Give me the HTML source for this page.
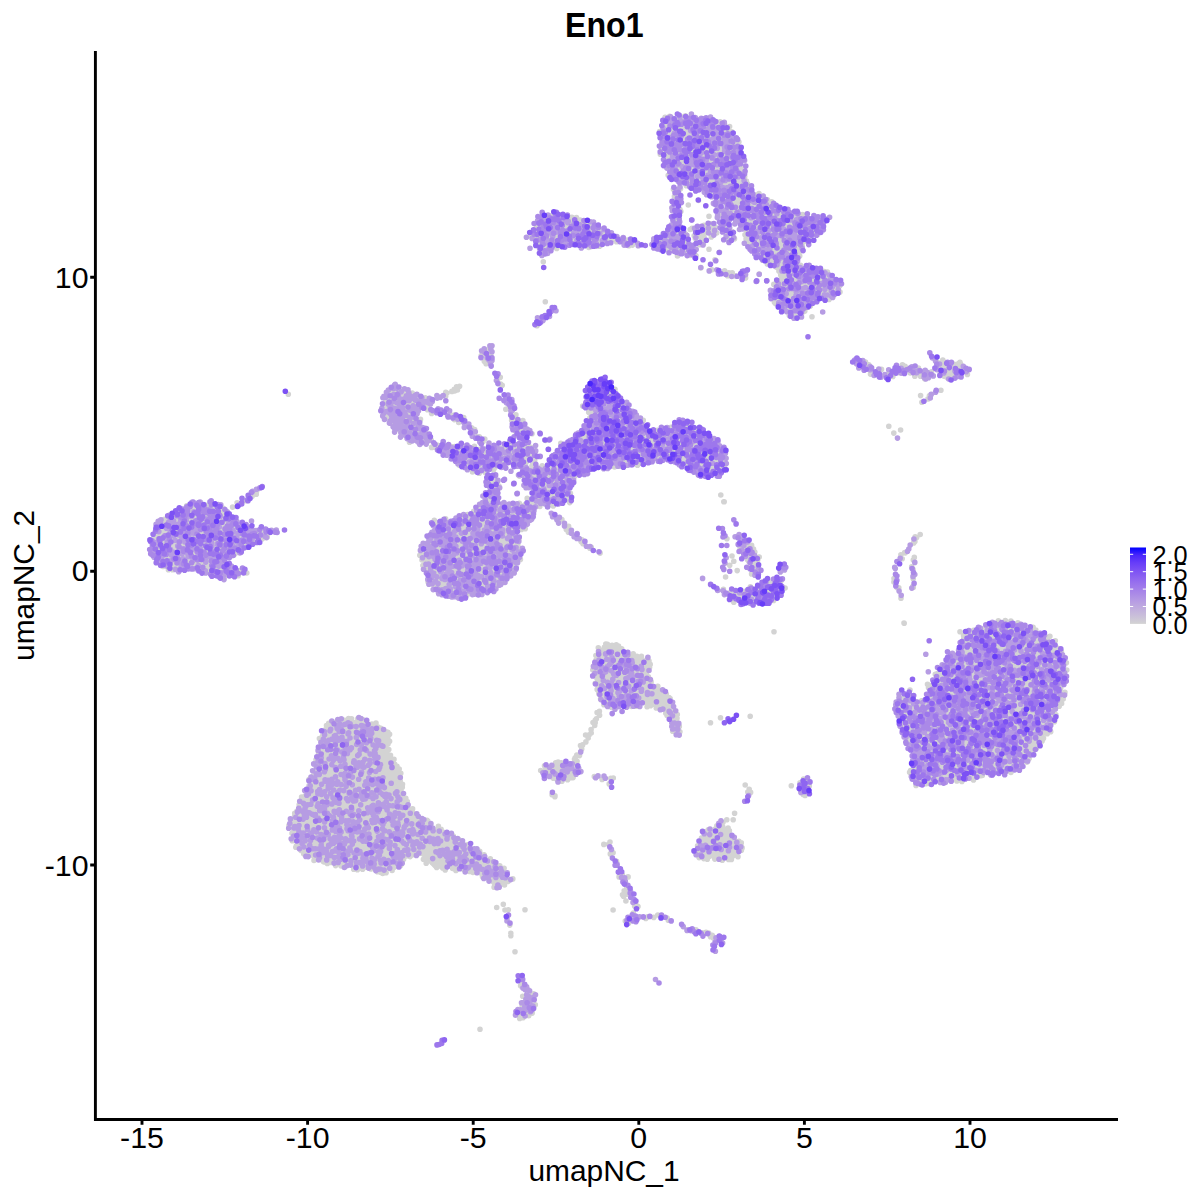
<!DOCTYPE html>
<html><head><meta charset="utf-8"><style>
html,body{margin:0;padding:0;background:#fff;width:1200px;height:1200px;overflow:hidden}
svg{display:block}
text{font-family:"Liberation Sans",sans-serif;fill:#000}
</style></head><body>
<svg width="1200" height="1200" viewBox="0 0 1200 1200">
<defs><linearGradient id="lg" x1="0" y1="0" x2="0" y2="1"><stop offset="0.00" stop-color="#0000ff"/><stop offset="0.10" stop-color="#4926fb"/><stop offset="0.20" stop-color="#673df8"/><stop offset="0.30" stop-color="#7c51f4"/><stop offset="0.40" stop-color="#8e65f0"/><stop offset="0.50" stop-color="#9d77ec"/><stop offset="0.60" stop-color="#aa89e7"/><stop offset="0.70" stop-color="#b69ce3"/><stop offset="0.80" stop-color="#c1aede"/><stop offset="0.90" stop-color="#cac0d9"/><stop offset="1.00" stop-color="#d3d3d3"/></linearGradient></defs>
<rect width="1200" height="1200" fill="#fff"/>
<g fill="#d3d3d3"><polygon points="661.7,121.9 660.2,136.7 661.8,152.7 664.9,165.3 671.1,176.0 680.0,183.5 691.0,186.6 691.2,186.7 704.6,191.7 704.9,191.9 714.9,196.9 715.3,197.1 725.3,203.8 725.6,204.0 725.8,204.2 726.0,204.4 726.2,204.7 732.9,214.7 733.1,215.1 737.9,224.6 744.1,230.9 744.4,231.1 744.6,231.4 744.8,231.8 749.5,241.3 755.6,247.3 765.3,253.8 765.5,253.9 773.4,260.2 781.0,262.7 787.8,257.3 788.1,257.1 788.4,256.9 797.7,252.2 802.2,246.2 802.5,245.9 802.7,245.7 803.1,245.4 812.6,239.1 818.9,231.1 819.0,231.1 826.8,221.7 827.4,218.8 819.5,217.6 819.4,217.6 804.4,215.1 804.1,215.0 785.7,210.0 785.4,209.9 785.1,209.8 768.4,201.5 768.1,201.3 754.8,193.0 754.6,192.8 754.3,192.6 754.1,192.4 744.9,182.4 744.7,182.1 744.5,181.8 744.4,181.6 744.2,181.3 744.1,181.0 744.1,180.6 744.0,180.3 744.0,180.0 744.0,170.2 742.4,158.8 740.8,147.8 735.4,138.5 729.0,129.0 721.6,122.3 710.9,119.3 694.6,116.8 681.7,115.5 668.0,117.5 661.7,121.9"/><polygon points="783.2,265.6 782.1,276.3 782.1,276.7 782.0,277.0 781.9,277.3 781.8,277.6 781.6,277.9 781.4,278.2 776.2,284.6 771.6,292.7 772.7,300.1 777.2,306.8 787.0,312.9 794.2,316.5 799.5,316.5 803.8,310.1 804.0,309.8 804.2,309.5 804.4,309.3 804.7,309.1 812.3,304.1 817.3,297.8 817.5,297.5 817.8,297.3 818.0,297.1 818.4,296.9 818.7,296.8 819.0,296.6 819.4,296.6 819.7,296.5 820.1,296.5 820.4,296.5 820.8,296.6 821.1,296.7 828.3,299.1 833.9,298.1 838.2,291.8 840.3,285.4 838.6,281.2 831.8,277.8 831.4,277.6 831.1,277.4 830.9,277.1 824.7,271.0 815.4,267.5 804.0,267.5 803.7,267.5 803.4,267.4 803.1,267.4 802.8,267.3 793.0,263.6 783.2,265.6"/><polygon points="527.9,235.8 533.8,236.5 534.1,236.6 534.4,236.7 534.8,236.8 535.1,237.0 535.4,237.1 535.6,237.4 535.9,237.6 536.1,237.9 536.3,238.1 536.5,238.4 536.6,238.8 536.7,239.1 536.8,239.4 538.4,248.9 540.5,253.2 546.9,253.2 552.5,247.5 552.8,247.3 553.0,247.1 553.3,246.9 553.6,246.8 553.9,246.7 554.2,246.6 554.5,246.5 566.2,244.9 566.5,244.8 566.8,244.8 567.1,244.9 579.8,246.4 605.8,239.9 606.1,239.9 606.5,239.8 606.8,239.8 607.1,239.9 629.6,242.7 619.2,240.1 618.8,239.9 605.4,234.9 605.0,234.8 604.7,234.6 591.7,225.6 582.1,221.6 569.0,217.5 554.5,213.5 541.8,213.5 535.2,222.8 535.2,230.0 535.1,230.4 535.1,230.7 535.0,231.0 534.9,231.4 534.7,231.7 534.5,232.0 534.3,232.3 534.1,232.5 533.8,232.8 533.5,233.0 533.2,233.1 527.9,235.8"/><polygon points="653.5,241.9 653.5,246.0 659.4,248.3 672.3,251.6 683.8,253.2 684.2,253.3 693.7,255.6 694.6,247.9 689.2,242.5 689.0,242.2 681.2,232.9 672.1,229.0 662.0,236.2 661.9,236.2 653.5,241.9"/><polygon points="383.4,401.1 382.0,409.5 386.3,418.2 394.3,429.3 405.1,438.6 414.1,441.6 425.4,443.0 429.6,438.8 428.4,431.7 422.5,425.8 422.2,425.4 417.2,418.8 417.0,418.5 416.8,418.2 416.7,417.9 416.6,417.5 416.5,417.2 416.5,416.8 416.5,416.5 416.5,416.2 416.6,415.8 416.7,415.5 416.8,415.2 417.0,414.9 422.0,406.5 422.2,406.2 422.4,406.0 422.6,405.7 422.9,405.5 423.2,405.3 431.5,400.3 431.9,400.2 432.2,400.0 442.0,396.8 442.8,396.3 440.7,396.8 440.4,396.8 427.1,398.5 426.8,398.5 426.5,398.5 426.2,398.5 425.9,398.4 425.6,398.3 415.6,395.0 415.1,394.8 402.0,388.2 394.0,385.6 389.4,389.0 383.4,401.1"/><polygon points="482.2,351.7 483.3,357.0 488.5,364.8 491.0,364.8 493.2,359.3 493.2,347.5 487.9,348.3 482.2,351.7"/><polygon points="585.2,395.8 585.2,405.7 589.7,413.2 589.8,413.5 590.0,413.8 590.1,414.2 590.1,414.5 590.2,414.9 590.2,415.3 590.1,415.6 590.0,416.0 589.9,416.3 586.6,424.6 586.4,425.0 586.3,425.3 586.0,425.5 585.8,425.8 577.5,434.1 577.2,434.4 567.5,442.5 559.4,452.2 559.1,452.5 549.3,462.3 543.5,469.6 543.5,505.6 560.8,501.6 569.4,499.1 568.2,490.5 568.2,490.1 568.2,489.8 568.2,489.4 568.3,489.1 568.4,488.8 568.5,488.4 573.5,478.4 573.7,478.2 573.9,477.9 574.1,477.6 574.3,477.4 574.6,477.2 574.8,477.0 575.1,476.9 585.1,471.9 585.4,471.7 598.8,466.7 599.1,466.6 599.4,466.6 599.7,466.5 600.0,466.5 613.2,466.5 629.6,464.9 642.8,463.2 652.8,461.5 652.9,461.5 666.2,459.9 666.6,459.8 666.9,459.8 667.2,459.9 677.2,461.5 677.6,461.6 678.0,461.7 678.3,461.9 678.6,462.1 688.4,468.6 700.8,474.8 711.4,474.8 721.2,473.4 724.9,467.3 725.6,455.6 722.0,447.0 712.9,437.8 701.6,431.4 701.3,431.2 701.1,431.0 691.9,423.4 679.1,421.9 668.4,428.0 668.1,428.2 667.7,428.3 667.4,428.4 667.0,428.5 666.7,428.5 650.0,428.5 649.7,428.5 649.3,428.4 649.0,428.3 648.7,428.2 648.4,428.1 648.1,427.9 647.8,427.7 647.5,427.5 640.9,420.8 630.9,410.8 630.7,410.6 620.7,398.9 620.4,398.6 613.8,388.7 606.7,379.5 599.3,380.1 590.9,384.3 585.2,395.8"/><polygon points="588.2,385.6 587.1,395.0 594.4,399.8 609.2,399.8 615.8,396.5 613.5,388.3 606.7,379.5 599.3,380.1 588.2,385.6"/><polygon points="421.8,549.1 421.8,558.5 427.1,572.6 432.3,586.4 441.9,594.4 458.7,597.8 476.2,594.3 493.7,589.0 507.5,578.7 516.0,566.8 521.0,549.9 517.6,536.2 517.5,535.9 517.5,535.5 517.5,535.2 517.5,534.9 517.6,534.5 517.7,534.2 521.3,523.2 521.5,522.9 521.6,522.6 521.8,522.4 522.0,522.1 531.1,511.1 531.4,510.8 531.6,510.6 531.9,510.4 532.2,510.2 532.5,510.1 541.7,506.4 541.8,506.4 556.4,500.9 556.8,500.8 568.5,497.9 567.1,487.1 559.2,476.1 546.5,472.9 534.0,474.4 528.5,482.8 531.7,494.0 531.8,494.4 531.8,494.7 531.8,495.0 531.8,495.4 531.8,495.7 531.7,496.0 531.6,496.3 531.4,496.7 531.2,496.9 527.6,502.4 527.4,502.7 527.2,503.0 526.9,503.2 526.6,503.4 526.4,503.6 526.1,503.7 525.8,503.8 525.4,503.9 525.1,504.0 510.4,505.8 510.1,505.8 509.8,505.8 509.5,505.8 509.2,505.7 508.9,505.7 497.9,502.0 497.6,501.9 497.3,501.7 497.0,501.5 496.7,501.3 496.5,501.1 496.2,500.8 496.0,500.5 495.9,500.2 495.7,499.9 495.6,499.6 495.5,499.3 495.5,498.9 495.5,498.6 495.5,498.2 495.6,497.9 495.7,497.6 499.0,487.7 496.7,480.7 492.3,481.6 487.6,492.7 487.3,493.1 482.2,501.7 480.5,513.8 480.4,514.2 480.3,514.5 480.2,514.8 480.0,515.1 479.8,515.4 479.6,515.7 479.4,515.9 479.1,516.1 478.8,516.3 478.5,516.5 478.2,516.6 477.8,516.7 463.3,520.4 452.4,524.0 452.2,524.1 438.5,527.5 428.5,537.5 421.8,549.1"/><polygon points="151.4,540.0 150.1,550.2 156.5,560.5 167.3,567.2 181.2,570.0 195.7,568.5 196.0,568.5 196.3,568.5 196.6,568.6 196.9,568.6 197.2,568.7 220.6,577.5 231.4,577.5 239.8,574.7 244.4,572.9 244.0,571.4 233.7,566.2 224.9,563.3 224.6,563.2 224.3,563.0 224.0,562.9 223.7,562.6 223.5,562.4 223.2,562.1 223.0,561.9 222.9,561.6 222.7,561.2 222.6,560.9 222.5,560.6 222.5,560.2 222.5,559.9 222.5,559.5 222.6,559.2 222.7,558.9 222.8,558.6 223.0,558.3 223.2,558.0 223.4,557.7 223.6,557.4 223.9,557.2 224.2,557.0 224.5,556.9 224.8,556.7 236.4,552.3 248.1,545.0 248.4,544.9 248.7,544.8 263.6,538.8 276.5,532.3 273.6,532.0 273.2,531.9 261.4,528.9 249.6,527.5 249.2,527.4 248.8,527.3 248.4,527.1 239.4,522.6 239.1,522.4 238.8,522.2 231.3,516.2 231.0,516.0 222.5,507.5 213.1,503.4 199.3,502.0 188.3,504.8 178.5,510.4 171.2,516.2 170.9,516.4 170.6,516.6 159.7,522.1 151.4,540.0"/><polygon points="738.4,535.3 737.0,537.7 739.9,545.4 740.1,545.8 742.3,554.8 746.7,563.5 753.1,572.1 757.0,574.7 759.9,571.2 758.9,561.7 754.5,552.9 750.1,544.1 742.0,535.9 738.4,535.3"/><polygon points="719.3,590.1 723.7,595.2 732.3,599.5 741.9,603.8 752.7,602.7 753.0,602.7 764.0,602.7 772.3,599.6 780.6,593.4 783.2,588.0 782.4,581.6 778.0,579.4 768.0,580.4 754.6,587.1 754.4,587.2 743.9,591.9 743.6,592.0 743.3,592.1 742.9,592.1 742.6,592.2 742.2,592.2 727.1,591.0 726.9,591.0 719.3,590.1"/><polygon points="778.2,567.5 778.0,568.6 779.6,569.9 784.7,569.2 784.9,565.8 782.5,564.7 778.2,567.5"/><polygon points="935.3,357.9 935.4,358.0 935.6,358.3 935.7,358.6 935.8,358.9 935.9,359.2 936.0,359.6 937.1,368.8 940.0,373.6 946.1,376.6 952.3,377.7 963.5,374.3 968.6,370.9 968.2,368.7 959.1,364.7 945.9,363.5 945.6,363.4 945.2,363.3 944.9,363.2 944.6,363.1 935.3,357.9"/><polygon points="896.8,704.2 896.8,715.8 901.5,725.1 901.7,725.6 906.6,740.5 913.2,757.0 913.4,757.4 913.4,757.7 913.5,758.0 913.5,758.3 913.5,758.7 911.9,774.5 915.7,784.6 929.5,783.2 949.4,779.9 949.7,779.8 950.0,779.8 969.3,779.8 985.4,773.4 985.7,773.3 986.0,773.2 986.3,773.2 986.7,773.2 1006.0,773.2 1021.2,767.1 1030.5,756.2 1040.4,741.4 1040.5,741.2 1050.2,728.4 1055.0,713.9 1055.1,713.6 1061.6,699.0 1064.0,683.0 1064.8,667.0 1061.7,653.1 1054.1,642.5 1041.6,633.1 1025.5,626.6 1009.7,621.9 994.2,623.4 978.0,629.9 977.8,630.0 964.4,634.4 960.0,647.8 959.9,648.1 959.7,648.4 959.6,648.6 959.4,648.9 959.1,649.1 946.1,662.2 933.2,681.6 926.7,701.1 926.5,701.4 926.4,701.7 926.2,702.0 926.0,702.3 925.7,702.6 925.5,702.8 925.2,703.0 924.9,703.1 924.5,703.3 924.2,703.4 923.9,703.5 923.5,703.5 923.2,703.5 922.8,703.5 922.5,703.4 922.2,703.3 921.8,703.2 921.5,703.0 921.2,702.8 909.3,693.8 900.8,696.3 896.8,704.2"/><polygon points="598.2,649.6 597.2,654.7 595.8,664.4 594.5,678.0 597.1,691.4 600.9,701.4 607.8,706.0 617.8,707.2 628.7,705.9 640.1,704.4 640.4,704.4 640.6,704.4 640.9,704.4 652.3,705.9 652.6,705.9 652.9,706.0 661.4,708.8 661.8,709.0 662.1,709.1 662.4,709.4 662.7,709.6 663.0,709.8 663.2,710.1 670.3,720.0 670.5,720.4 670.6,720.7 674.7,730.2 677.4,733.4 678.0,731.6 676.7,718.4 674.0,707.7 668.8,697.2 661.0,689.4 650.0,682.6 649.7,682.3 649.4,682.1 649.2,681.9 649.0,681.6 648.8,681.3 648.6,680.9 648.5,680.6 648.4,680.3 647.0,673.2 646.9,672.8 646.9,672.5 646.9,672.1 647.0,671.8 647.1,671.5 647.2,671.1 650.8,662.7 649.4,659.9 639.7,657.5 628.3,654.6 628.0,654.6 627.7,654.4 627.4,654.3 627.2,654.1 626.9,653.9 626.7,653.7 620.5,647.5 607.0,646.3 598.2,649.6"/><polygon points="543.1,768.3 542.2,773.3 546.0,777.0 555.9,779.5 567.4,779.5 577.0,774.7 578.5,771.7 575.7,766.0 569.1,763.8 558.6,763.8 549.5,765.1 543.1,768.3"/><polygon points="799.3,784.3 798.7,786.8 807.1,795.2 807.2,795.1 808.4,784.6 808.4,784.4 809.2,779.7 806.8,778.9 799.3,784.3"/><polygon points="704.8,832.9 704.8,836.0 704.8,836.3 704.8,836.7 704.7,837.0 704.6,837.3 704.4,837.6 704.2,837.9 704.0,838.2 703.8,838.5 698.5,843.7 695.3,850.2 698.0,855.6 710.2,858.0 723.8,858.0 734.9,856.8 739.4,851.2 742.7,843.6 740.3,840.5 731.5,837.9 731.2,837.8 730.9,837.7 730.6,837.5 730.3,837.3 730.0,837.1 729.8,836.8 729.6,836.5 729.4,836.2 729.3,835.9 729.2,835.6 729.1,835.3 727.9,829.2 722.2,823.6 719.4,822.9 712.3,830.0 712.1,830.2 711.8,830.4 711.5,830.6 711.2,830.7 710.9,830.8 704.8,832.9"/><polygon points="627.5,920.4 628.0,923.5 631.2,922.9 636.9,919.1 637.2,917.5 633.2,916.3 627.5,920.4"/><polygon points="714.1,948.4 715.5,945.0 715.6,944.6 715.8,944.3 716.0,944.1 716.3,943.8 716.5,943.6 716.8,943.4 717.1,943.2 717.4,943.0 717.7,942.9 718.1,942.8 722.6,941.9 723.2,940.7 721.1,938.5 717.4,938.5 713.8,947.5 714.1,948.4"/><polygon points="519.7,975.7 520.1,979.2 524.9,992.1 525.1,992.4 525.1,992.8 525.2,993.1 525.2,993.5 525.1,993.8 523.5,1005.5 523.4,1005.9 523.3,1006.2 523.1,1006.6 523.0,1006.9 522.7,1007.2 517.1,1014.2 517.7,1017.5 522.2,1016.7 530.5,1012.5 533.2,1004.4 533.2,994.0 527.0,991.6 526.7,991.4 526.4,991.3 526.1,991.0 525.9,990.8 525.6,990.5 525.4,990.3 525.2,990.0 525.1,989.6 521.8,981.3 521.7,981.2 519.7,975.7"/><polygon points="433.5,444.0 433.5,447.4 454.1,458.4 454.4,458.6 454.7,458.8 454.9,459.0 455.1,459.2 464.7,470.1 479.2,471.5 496.7,467.1 497.0,467.0 519.1,464.1 535.8,457.7 534.8,447.8 519.7,444.0 475.2,447.0 474.9,447.0 474.5,447.0 452.3,444.0 433.5,444.0"/><polygon points="522.7,467.7 520.7,474.7 525.8,484.8 536.9,494.5 550.8,500.1 564.9,501.5 570.2,500.6 569.0,490.4 569.0,490.0 569.0,473.1 556.8,469.4 534.9,466.5 522.7,467.7"/><polygon points="484.7,477.7 490.1,488.4 490.3,488.8 490.4,489.1 490.5,489.4 490.5,489.8 490.5,490.1 490.5,490.5 490.4,490.8 490.3,491.2 490.2,491.5 490.0,491.8 481.0,506.8 480.8,507.1 480.6,507.3 480.4,507.6 480.1,507.8 479.9,508.0 479.6,508.1 461.6,517.1 461.3,517.3 461.0,517.4 460.7,517.4 433.5,522.9 433.5,526.5 525.5,526.5 532.9,514.1 526.4,511.3 513.6,508.5 500.5,508.5 500.2,508.5 499.8,508.4 499.5,508.3 499.2,508.2 498.9,508.1 498.6,507.9 498.3,507.7 498.0,507.5 497.8,507.2 497.6,506.9 497.4,506.7 497.3,506.3 497.2,506.0 497.1,505.7 497.0,505.3 495.5,490.3 495.5,490.3 494.3,476.1 484.7,477.7"/><polygon points="583.5,221.0 583.5,246.1 594.3,245.1 609.0,240.6 609.3,240.6 609.6,240.5 609.9,240.5 610.2,240.5 610.5,240.5 629.9,243.5 641.0,244.5 631.6,241.4 616.8,238.4 616.4,238.3 616.1,238.2 615.7,238.0 600.7,229.0 600.5,228.8 590.7,221.9 583.5,221.0"/><polygon points="653.4,242.0 652.6,244.1 653.4,247.1 670.6,251.0 684.6,252.4 690.5,250.5 690.5,247.7 684.9,233.6 679.1,224.9 678.9,224.6 678.8,224.3 678.6,224.0 678.6,223.7 678.5,223.3 678.5,223.0 678.5,222.7 680.0,207.7 680.0,207.6 681.2,196.9 677.6,195.7 675.1,199.7 676.5,209.0 676.5,209.3 676.5,209.6 676.5,209.9 676.4,210.3 673.4,223.8 673.3,224.1 673.2,224.4 673.0,224.7 672.8,225.0 665.3,235.5 665.1,235.8 664.9,236.0 664.6,236.3 664.4,236.5 664.1,236.6 653.4,242.0"/><polygon points="738.7,275.6 738.9,276.2 742.7,278.5 747.7,272.5 748.0,270.6 746.5,271.2 738.7,275.6"/><polygon points="321.9,731.9 319.0,755.2 318.9,755.5 318.8,755.9 312.7,774.4 306.5,792.9 306.3,793.2 306.2,793.6 297.0,808.7 289.9,825.9 294.0,842.4 308.0,856.4 331.7,862.3 353.0,866.9 368.3,868.4 368.6,868.5 383.2,871.4 393.9,868.8 402.4,860.2 402.7,860.0 403.0,859.8 403.3,859.6 403.6,859.4 403.9,859.3 404.2,859.2 419.6,856.2 420.0,856.1 420.3,856.1 420.7,856.1 421.0,856.2 421.3,856.2 421.7,856.3 422.0,856.5 422.3,856.7 422.6,856.9 422.8,857.1 434.1,868.4 457.3,868.4 457.8,868.4 458.2,868.5 482.8,874.7 483.2,874.8 483.4,874.9 483.7,875.0 484.0,875.2 484.2,875.4 484.5,875.6 495.4,886.5 504.9,884.2 511.0,878.1 504.4,871.5 479.9,853.1 467.8,844.1 443.4,831.9 443.3,831.8 421.7,819.5 421.4,819.3 421.2,819.1 420.9,818.9 408.6,806.6 408.4,806.3 408.1,806.0 408.0,805.6 401.8,793.3 401.6,793.0 401.5,792.6 401.4,792.2 398.5,768.5 386.8,753.9 386.6,753.6 386.4,753.3 386.3,753.0 386.2,752.7 386.1,752.4 386.0,752.1 386.0,751.7 386.0,751.4 386.0,751.1 388.8,734.6 375.6,724.0 358.3,719.7 335.3,721.2 321.9,731.9"/><polygon points="747.7,243.5 757.4,255.4 770.0,264.1 781.8,272.0 790.5,276.3 796.7,264.7 799.6,255.0 799.8,254.7 799.9,254.4 800.0,254.1 802.9,249.6 789.0,243.4 760.4,238.6 747.7,243.5"/></g>
<g fill="none" stroke-width="5.60" stroke-linecap="round"><path stroke="#d3d3d3" d="M267.3 537.0h0M395.0 403.9h0M213.6 542.4h0M976.5 711.0h0M673.1 150.9h0M307.6 791.3h0M554.4 496.4h0M501.8 883.9h0M615.0 389.3h0M546.2 775.7h0M311.1 853.4h0M773.0 228.3h0M463.4 528.8h0M597.2 689.4h0M812.0 316.7h0M172.1 564.6h0M393.4 773.4h0M561.3 762.9h0M998.1 647.9h0M983.9 629.0h0M690.2 255.5h0M982.1 748.7h0M782.4 278.8h0M326.2 847.3h0M313.4 807.6h0M713.8 856.4h0M335.3 786.9h0M342.9 768.3h0M679.9 209.3h0M227.3 541.5h0M920.8 772.5h0M447.0 845.1h0M391.3 761.4h0M1034.2 742.2h0M307.1 797.7h0M949.9 729.2h0M246.0 538.3h0M633.2 653.9h0M788.6 246.1h0M697.6 845.8h0M709.9 470.3h0M535.3 1004.8h0M542.6 486.3h0M188.4 524.2h0M586.2 225.2h0M735.4 851.9h0M491.8 483.1h0M317.2 857.8h0M566.3 529.6h0M515.5 512.7h0M986.7 638.3h0M532.3 476.1h0M773.1 595.7h0M931.6 371.8h0M450.5 847.7h0M712.4 136.1h0M677.5 454.3h0M721.2 837.1h0M713.1 845.3h0M394.4 842.0h0M434.6 834.5h0M944.4 681.9h0M425.8 859.0h0M602.6 654.7h0M160.9 529.3h0M297.5 822.0h0M530.8 505.6h0M473.6 561.9h0M726.8 846.1h0M551.3 489.7h0M232.6 507.1h0M392.1 776.2h0M409.5 442.2h0M366.4 745.5h0M223.1 571.4h0M628.5 923.2h0M763.0 213.4h0M990.4 712.9h0M818.9 273.5h0M316.4 810.2h0M1013.1 722.5h0M740.1 547.9h0M625.3 921.1h0M1045.7 665.3h0M601.2 668.8h0M640.8 664.9h0M687.6 134.2h0M336.8 761.3h0M956.3 751.2h0M732.2 272.8h0M607.8 688.3h0M658.2 695.5h0M600.8 681.6h0M690.5 456.0h0M372.1 834.7h0M1046.2 682.7h0M369.6 745.2h0M515.4 545.2h0M775.4 251.6h0M388.1 742.9h0M736.7 182.3h0M483.7 555.0h0M522.9 420.6h0M181.4 556.2h0M373.8 760.6h0M380.7 834.0h0M1009.9 727.6h0M346.3 805.7h0M380.4 750.9h0M733.2 819.7h0M1028.3 689.0h0M591.1 729.5h0M705.3 831.9h0M782.5 240.6h0M579.5 755.6h0M466.8 536.9h0M598.3 647.8h0M196.0 555.2h0M1051.2 662.9h0M553.1 483.0h0M1047.1 637.7h0M321.1 803.4h0M438.5 524.6h0M959.1 374.9h0M1012.2 635.2h0M312.4 823.1h0M703.6 155.8h0M750.2 716.3h0M328.2 755.7h0M484.3 361.2h0M820.6 269.3h0M306.3 830.5h0M915.2 536.7h0M639.6 453.4h0M360.2 856.7h0M364.3 818.7h0M736.1 853.9h0M938.6 725.9h0M707.3 859.2h0M171.6 537.8h0M450.4 414.6h0M733.4 202.7h0M392.0 803.6h0M787.3 211.7h0M383.3 765.4h0M783.4 275.2h0M668.3 920.2h0M614.4 459.7h0M374.0 741.7h0M572.7 221.9h0M377.4 867.5h0M304.7 796.2h0M733.6 593.0h0M972.5 680.4h0M737.3 206.5h0M455.9 870.4h0M391.4 822.8h0M337.4 745.1h0M1042.6 667.6h0M326.5 725.6h0M628.9 245.7h0M347.6 804.5h0M619.0 408.9h0M225.4 575.9h0M933.7 705.8h0M792.0 264.0h0M465.5 555.1h0M511.7 534.8h0M430.6 824.8h0M686.3 185.8h0M544.5 765.8h0M652.5 698.0h0M765.5 215.2h0M454.4 865.0h0M353.7 869.2h0M1011.0 735.1h0M484.1 854.7h0M709.0 249.2h0M1020.2 726.3h0M427.6 834.5h0M321.7 766.0h0M492.1 865.7h0M673.1 433.7h0M512.1 451.6h0M951.7 678.2h0M608.5 844.2h0M403.8 822.6h0M422.0 560.0h0M802.1 282.3h0M383.2 772.5h0M962.1 652.7h0M821.0 294.8h0M568.6 526.4h0M442.8 856.8h0M978.1 680.2h0M520.6 516.0h0M546.9 476.9h0M752.1 219.7h0M509.0 407.8h0M1003.7 757.6h0M555.4 236.7h0M1031.0 745.1h0M719.2 473.6h0M1028.4 713.2h0M827.7 290.2h0M974.7 636.2h0M676.3 220.2h0M717.4 151.8h0M339.8 776.2h0M359.7 782.2h0M461.6 849.7h0M735.3 275.9h0M413.0 852.7h0M427.5 843.0h0M669.3 708.1h0M375.5 801.4h0M454.7 391.0h0M923.8 763.2h0M331.9 754.2h0M295.8 847.3h0M729.4 830.7h0M665.1 117.3h0M324.0 862.0h0M711.7 161.3h0M671.0 427.3h0M321.2 848.1h0M659.9 701.5h0M674.5 712.7h0M929.4 783.4h0M747.5 559.6h0M402.7 821.1h0M828.4 292.5h0M179.3 512.8h0M691.4 153.1h0M754.0 250.2h0M573.1 777.6h0M1025.3 662.9h0M590.2 228.5h0M361.8 723.9h0M485.7 862.9h0M783.9 226.6h0M378.5 815.1h0M914.0 768.4h0M446.0 583.1h0M646.4 672.9h0M305.0 800.0h0M626.8 887.4h0M814.1 285.0h0M419.8 555.2h0M328.7 754.2h0M729.6 126.6h0M399.1 804.0h0M967.4 692.6h0M588.7 412.2h0M780.3 268.3h0M726.8 819.7h0M454.3 389.3h0M682.7 459.7h0M596.4 718.7h0M1015.8 683.4h0M312.7 820.5h0M803.2 242.0h0M504.5 885.0h0M971.4 631.3h0M391.4 801.6h0M384.5 790.2h0M382.6 788.3h0M354.4 803.3h0M499.2 452.2h0M634.7 241.3h0M529.6 513.5h0M499.3 551.5h0M582.7 406.1h0M742.1 847.9h0M967.2 665.9h0M663.5 696.0h0M1017.4 673.8h0M346.4 772.6h0M790.9 308.6h0M720.2 214.7h0M567.6 779.7h0M443.7 842.2h0M550.7 471.1h0M385.1 757.7h0M729.6 839.0h0M1045.1 726.6h0M398.6 784.7h0M894.0 578.5h0M542.2 465.9h0M356.1 769.0h0M456.6 386.8h0M918.4 368.0h0M505.1 542.4h0M955.2 675.1h0M459.7 554.2h0M532.2 1013.1h0M388.4 816.0h0M364.2 787.9h0M953.4 773.4h0M427.8 854.6h0M357.1 840.3h0M636.0 904.9h0M949.9 684.4h0M606.6 405.5h0M724.6 270.7h0M904.0 623.0h0M725.6 577.0h0M634.9 680.8h0M312.3 832.0h0M371.2 828.9h0M369.7 725.3h0M504.8 535.2h0M762.2 249.6h0M385.8 851.3h0M653.5 704.3h0M727.9 854.9h0M643.3 420.3h0M214.2 549.0h0M480.2 859.1h0M382.7 873.5h0M316.0 759.8h0M1014.5 764.7h0M396.7 775.7h0M173.5 543.2h0M802.3 246.6h0M670.1 698.6h0M610.8 778.3h0M457.3 849.8h0M1029.9 650.5h0M292.3 840.7h0M648.9 703.9h0M501.6 460.9h0M598.8 693.7h0M701.5 838.0h0M793.7 267.1h0M387.1 767.3h0M587.9 438.0h0M369.9 774.8h0M724.1 829.5h0M461.8 516.5h0M344.3 827.6h0M712.6 839.5h0M388.1 760.1h0M951.5 732.4h0M1029.7 695.4h0M345.0 757.5h0M934.9 728.3h0M479.2 473.2h0M328.1 748.1h0M598.0 235.4h0M407.9 832.4h0M1049.1 684.0h0M721.3 145.9h0M1020.5 711.5h0M445.9 585.6h0M163.2 566.4h0M1047.1 732.8h0M373.7 754.6h0M1046.2 690.6h0M432.9 584.2h0M426.8 846.5h0M595.2 722.7h0M385.6 748.7h0M355.8 834.1h0M196.9 510.2h0M1034.0 642.6h0M442.7 537.8h0M375.8 767.0h0M916.2 767.0h0M306.5 838.4h0M428.1 582.0h0M643.6 436.7h0M634.8 657.5h0M314.0 780.9h0M871.8 373.1h0M1028.9 632.6h0M775.5 303.6h0M1025.9 643.8h0M1035.9 711.7h0M637.6 671.7h0M723.4 589.3h0M739.5 179.1h0M1029.4 726.9h0M164.9 537.5h0M997.7 704.8h0M481.1 565.6h0M789.3 315.4h0M609.3 395.3h0M767.3 263.9h0M355.1 825.7h0M224.2 513.4h0M568.4 532.2h0M380.9 776.7h0M238.8 535.4h0M545.0 440.0h0M958.8 363.2h0M665.6 444.6h0M609.7 656.4h0M664.9 701.6h0M973.3 777.0h0M1021.4 653.6h0M524.8 504.7h0M649.0 661.0h0M726.9 831.3h0M327.3 863.4h0M1039.3 680.1h0M1030.4 742.5h0M981.2 660.2h0M656.0 689.9h0M1062.1 699.7h0M367.1 776.6h0M580.1 220.0h0M749.2 789.2h0M725.3 154.6h0M401.7 802.8h0M822.4 286.3h0M360.5 800.7h0M415.0 825.6h0M316.4 769.7h0M335.6 793.4h0M391.1 865.4h0M375.6 733.2h0M714.8 859.1h0M796.2 277.4h0M438.2 829.1h0M1002.1 658.2h0M326.4 764.4h0M733.4 197.3h0M647.3 705.0h0M187.6 559.3h0M1046.3 662.2h0M338.7 764.3h0M1002.0 665.7h0M326.1 842.1h0M1016.1 705.0h0M928.1 738.3h0M1030.3 691.6h0M503.8 876.4h0M477.9 861.3h0M388.8 826.7h0M296.4 845.7h0M780.7 275.0h0M1063.2 699.0h0M621.4 695.8h0M575.2 462.6h0M428.2 856.5h0M644.8 668.5h0M893.9 582.0h0M689.9 179.6h0M944.7 366.9h0M702.6 846.8h0M984.6 746.6h0M1052.5 708.3h0M353.2 848.1h0M384.0 759.1h0M708.3 829.9h0M670.9 125.2h0M551.0 221.3h0M382.0 732.4h0M491.8 450.4h0M676.9 446.2h0M580.5 745.6h0M549.8 466.8h0M704.9 158.0h0M769.4 581.7h0M348.2 756.5h0M968.1 762.5h0M614.5 467.0h0M321.0 851.5h0M1017.9 622.9h0M1043.5 738.2h0M410.4 850.5h0M412.7 420.4h0M322.6 736.1h0M412.6 808.9h0M970.3 760.2h0M728.8 272.8h0M357.7 790.6h0M451.6 528.4h0M993.8 708.4h0M829.0 299.4h0M670.3 703.8h0M525.1 467.6h0M493.9 570.3h0M502.8 540.8h0M343.4 851.5h0M597.8 655.9h0M773.2 589.7h0M359.0 785.4h0M921.2 373.4h0M681.1 160.3h0M329.8 827.5h0M978.0 647.6h0M906.6 699.2h0M711.7 232.2h0M595.9 655.5h0M634.7 426.8h0M732.2 231.5h0M645.9 665.9h0M321.6 745.3h0M517.0 555.6h0M645.8 918.4h0M754.9 597.8h0M346.6 831.9h0M1022.6 720.4h0M432.6 862.5h0M463.1 854.7h0M348.6 718.5h0M718.1 212.0h0M614.7 654.6h0M634.6 905.9h0M914.9 541.6h0M948.6 709.5h0M506.1 529.8h0M202.3 564.7h0M840.0 292.1h0M1049.9 636.3h0M617.7 646.6h0M1042.1 740.9h0M908.3 714.2h0M1036.1 637.4h0M705.8 232.2h0M545.5 440.5h0M344.0 730.3h0M738.6 845.2h0M467.5 514.5h0M510.8 935.8h0M1036.3 748.6h0M909.6 772.3h0M305.2 834.1h0M390.5 755.2h0M561.5 222.1h0M348.1 788.7h0M311.2 828.7h0M936.9 763.3h0M729.6 148.9h0M1004.4 693.8h0M1059.2 706.2h0M667.3 249.5h0M623.2 675.5h0M200.7 570.0h0M1046.3 722.8h0M377.1 738.9h0M927.7 749.0h0M454.1 589.2h0M332.4 846.3h0M321.3 837.4h0M994.2 748.8h0M197.6 516.9h0M942.5 720.9h0M775.0 290.0h0M461.3 527.3h0M361.1 785.4h0M625.9 901.0h0M942.4 366.4h0M454.3 419.6h0M348.3 848.5h0M936.6 362.2h0M353.7 861.0h0M930.3 685.6h0M613.0 675.0h0M325.3 794.2h0M393.2 848.7h0M168.7 558.2h0M660.1 690.6h0M590.9 223.7h0M398.6 810.0h0M366.9 738.3h0M911.7 566.9h0M899.1 372.8h0M807.6 268.2h0M659.6 131.6h0M204.2 547.9h0M560.2 772.6h0M622.5 894.7h0M743.4 591.4h0M1018.1 651.6h0M375.2 769.4h0M505.0 910.0h0M557.4 492.5h0M1039.3 719.3h0M419.0 433.5h0M1005.4 647.9h0M929.5 776.7h0M576.7 442.8h0M549.9 216.0h0M628.1 876.9h0M751.6 573.9h0M714.2 180.2h0M1036.7 656.2h0M397.7 779.6h0M350.0 728.8h0M169.7 514.9h0M379.0 825.3h0M680.8 446.6h0M468.6 536.7h0M688.1 161.4h0M693.7 168.1h0M409.3 810.1h0M431.2 859.6h0M458.7 422.5h0M965.6 720.0h0M365.2 755.1h0M576.8 755.1h0M732.1 851.3h0M447.0 841.3h0M740.2 199.3h0M528.7 1015.7h0M507.0 552.6h0M404.4 812.8h0M1019.5 685.7h0M780.0 284.3h0M954.9 765.0h0M908.9 730.1h0M378.8 798.4h0M391.9 810.5h0M800.3 219.4h0M514.4 420.5h0M1008.8 687.3h0M335.4 722.2h0M197.0 563.9h0M900.9 554.9h0M519.7 1018.4h0M349.9 743.5h0M901.6 704.8h0M444.6 848.8h0M386.5 732.1h0M335.6 773.1h0M624.1 425.7h0M1045.8 710.9h0M463.6 536.1h0M636.9 656.3h0M651.4 437.9h0M746.4 181.0h0M805.2 283.9h0M427.6 568.9h0M376.8 803.4h0M397.2 820.2h0M942.0 716.1h0M319.3 784.9h0M600.8 451.1h0M395.0 789.1h0M385.8 835.4h0M516.5 529.8h0M953.5 707.4h0M482.8 569.0h0M677.3 714.6h0M721.2 829.6h0M472.3 856.1h0M553.4 778.3h0M363.2 751.6h0M588.8 247.5h0M753.5 549.1h0M370.9 830.9h0M598.3 229.1h0M1021.5 664.6h0M998.4 620.9h0M407.9 399.9h0M373.9 830.9h0M310.0 800.6h0M910.6 695.6h0M930.0 732.5h0M474.6 429.5h0M318.5 822.5h0M740.1 185.4h0M399.4 851.8h0M985.6 699.7h0M582.6 744.9h0M437.1 859.7h0M172.7 546.4h0M546.2 247.6h0M519.3 503.3h0M1005.3 620.6h0M651.9 701.0h0M471.0 550.8h0M981.5 680.1h0M397.5 417.0h0M288.3 394.3h0M459.5 454.9h0M621.9 681.1h0M403.3 819.7h0M377.0 833.7h0M469.5 516.6h0M789.7 252.7h0M1052.2 709.2h0M209.3 563.8h0M774.0 631.8h0M716.4 157.3h0M175.6 517.5h0M467.0 591.4h0M932.4 744.9h0M449.7 839.3h0M500.7 563.9h0M641.4 656.3h0M710.5 936.8h0M773.6 600.4h0M695.2 443.6h0M378.7 749.9h0M381.9 769.8h0M366.3 762.9h0M921.3 745.4h0M780.7 581.6h0M435.0 831.7h0M650.2 664.4h0M1054.4 721.8h0M1045.2 695.9h0M321.2 822.5h0M160.0 536.2h0M741.4 850.2h0M686.0 441.4h0M615.3 657.7h0M731.7 131.8h0M239.9 570.8h0M382.2 830.7h0M355.7 838.9h0M719.1 178.4h0M316.0 790.4h0M622.4 874.7h0M732.0 556.0h0M314.0 850.3h0M738.9 841.3h0M434.3 520.2h0M305.9 819.3h0M432.6 564.1h0M480.8 529.2h0M611.2 393.6h0M690.3 423.0h0M1012.2 662.6h0M637.6 451.9h0M556.0 460.5h0M368.3 831.4h0M800.5 265.4h0M359.5 836.1h0M356.6 812.9h0M982.3 775.5h0M361.5 809.9h0M1016.5 728.0h0M179.3 567.9h0M467.7 844.8h0M779.6 217.8h0M372.1 861.0h0M548.5 768.3h0M968.8 734.0h0M165.4 558.2h0M332.2 772.8h0M374.4 787.2h0M364.3 769.1h0M364.9 778.7h0M513.4 565.5h0M599.7 667.0h0M610.0 842.0h0M397.3 816.2h0M493.5 533.2h0M793.3 292.1h0M704.3 128.3h0M332.6 776.4h0M327.0 737.4h0M302.0 823.5h0M386.1 770.4h0M370.2 825.2h0M900.6 430.0h0M919.9 704.5h0M1050.8 652.4h0M1035.1 728.3h0M727.8 183.1h0M363.2 719.8h0M355.9 779.5h0M355.6 728.4h0M390.6 397.2h0M354.2 809.9h0M745.6 277.9h0M411.8 820.8h0M1011.1 639.6h0M738.4 206.2h0M498.0 883.0h0M910.6 770.6h0M561.1 765.9h0M463.7 417.6h0M710.5 722.7h0M362.4 815.5h0M466.5 528.2h0M457.5 390.0h0M383.1 811.3h0M946.2 707.7h0M509.8 925.1h0M336.2 835.6h0M327.2 825.5h0M356.2 818.4h0M999.6 632.4h0M467.1 594.9h0M944.9 723.1h0M737.1 199.7h0M900.3 705.8h0M1007.2 767.5h0M405.0 405.9h0M593.0 722.5h0M478.0 509.0h0M989.4 690.3h0M1035.7 696.7h0M442.1 848.4h0M599.4 711.3h0M407.0 812.0h0M596.4 674.9h0M713.2 849.6h0M994.1 764.0h0M703.5 243.8h0M967.1 714.3h0M575.2 231.2h0M568.0 775.4h0M704.9 853.5h0M747.8 792.0h0M791.0 225.9h0M484.9 586.2h0M919.2 713.3h0M459.9 520.2h0M221.8 528.7h0M404.3 816.4h0M540.0 456.7h0M727.6 237.4h0M609.2 783.9h0M701.2 846.3h0M427.3 559.8h0M322.6 775.2h0M219.1 550.3h0M738.0 856.7h0M380.0 760.7h0M420.7 829.3h0M960.0 631.7h0M722.6 467.2h0M361.8 778.7h0M914.8 701.4h0M532.5 458.5h0M591.3 547.2h0M362.6 807.3h0M378.9 731.3h0M1013.0 745.4h0M967.4 374.4h0M488.2 572.8h0M301.6 797.1h0M588.2 738.0h0M976.2 705.2h0M683.5 140.6h0M402.8 396.7h0M1023.6 705.1h0M974.6 662.4h0M917.6 710.0h0M622.0 653.1h0M650.5 705.8h0M746.3 217.2h0M1021.3 668.0h0M865.5 362.0h0M503.3 904.2h0M708.6 183.9h0M318.4 796.5h0M412.2 393.0h0M235.1 553.7h0M762.8 255.2h0M385.2 858.1h0M319.1 834.6h0M992.5 669.1h0M722.3 831.5h0M670.4 159.1h0M226.7 551.3h0M335.6 865.6h0M626.0 656.7h0M1057.8 648.2h0M424.5 557.7h0M781.5 276.6h0M710.5 223.8h0M351.9 786.8h0M647.4 685.1h0M366.6 817.3h0M400.6 865.4h0M289.0 825.3h0M1039.6 654.0h0M755.3 205.3h0M562.5 228.4h0M510.7 444.7h0M177.6 521.2h0M245.9 544.4h0M358.7 747.9h0M616.5 241.7h0M324.2 844.6h0M509.6 542.1h0M368.9 748.5h0M659.9 696.6h0M713.2 168.2h0M394.2 828.5h0M609.1 667.3h0M387.5 838.4h0M924.2 761.2h0M259.9 531.8h0M987.7 670.5h0M1061.4 651.6h0M336.2 763.6h0M957.7 683.0h0M458.3 844.2h0M425.0 551.2h0M504.2 546.0h0M408.3 848.2h0M531.0 235.8h0M587.5 237.5h0M422.8 841.4h0M434.0 554.1h0M348.4 855.5h0M604.7 658.3h0M352.2 855.0h0M373.6 765.3h0M313.9 834.0h0M370.0 817.1h0M321.7 829.7h0M898.8 587.8h0M623.9 462.1h0M1027.0 762.1h0M431.6 447.4h0M932.4 775.6h0M339.4 773.9h0M459.8 541.6h0M308.4 848.2h0M386.9 791.5h0M977.8 772.5h0M559.2 469.9h0M353.8 732.5h0M377.8 863.1h0M413.9 426.6h0M759.8 238.5h0M467.2 463.2h0M351.2 742.1h0M930.4 778.3h0M719.0 841.7h0M701.4 455.9h0M667.1 918.0h0M368.7 804.6h0M619.9 680.4h0M1008.9 711.4h0M382.4 856.2h0M499.5 578.6h0M795.6 315.2h0M373.3 838.1h0M668.2 175.2h0M389.5 857.5h0M946.5 376.9h0M352.1 851.1h0M341.1 840.4h0M881.5 369.4h0M341.3 782.9h0M326.8 753.9h0M985.7 650.4h0M688.7 465.4h0M657.8 915.0h0M449.6 848.0h0M353.6 772.1h0M744.1 168.0h0M370.1 861.0h0M418.3 841.1h0M809.3 786.0h0M456.6 570.4h0M336.1 854.7h0M1033.3 713.7h0M400.9 790.8h0M726.8 204.4h0M314.1 784.5h0M778.1 247.8h0M746.1 238.9h0M406.3 417.9h0M407.7 829.4h0M477.5 865.6h0M967.7 636.2h0M986.9 751.4h0M749.7 221.7h0M921.2 742.4h0M710.0 157.3h0M960.5 363.7h0M966.8 753.7h0M181.9 530.9h0M539.6 498.0h0M328.1 770.2h0M580.0 234.2h0M194.4 508.8h0M778.9 271.1h0M617.9 661.4h0M793.9 280.4h0M787.8 256.4h0M527.2 498.4h0M405.8 798.4h0M320.3 814.4h0M1036.9 731.7h0M479.5 574.1h0M827.3 277.2h0M522.1 982.9h0M1025.2 742.4h0M719.6 151.4h0M589.9 548.3h0M353.8 751.2h0M429.1 848.2h0M468.5 526.9h0M185.0 554.4h0M728.6 859.4h0M771.8 225.8h0M325.9 785.2h0M601.2 456.5h0M1038.9 715.9h0M1053.6 658.1h0M1052.7 647.0h0M348.7 763.5h0M333.8 728.8h0M708.1 845.5h0M1035.8 630.0h0M253.3 542.1h0M1018.2 697.9h0M981.7 724.6h0M613.1 910.0h0M645.3 437.9h0M570.4 493.4h0M337.0 748.4h0M824.6 271.6h0M495.1 467.3h0M494.2 537.8h0M614.9 239.5h0M301.5 826.5h0M591.2 410.1h0M1016.5 662.6h0M472.5 472.0h0M1019.5 727.6h0M491.0 528.9h0M601.9 650.1h0M946.2 751.8h0M377.4 801.1h0M397.0 766.4h0M901.9 699.0h0M729.3 593.0h0M337.7 769.4h0M691.5 133.0h0M332.5 834.5h0M1023.5 750.0h0M425.2 567.5h0M552.1 794.7h0M955.8 728.3h0M755.5 219.5h0M707.6 853.4h0M685.2 247.6h0M423.4 555.3h0M773.8 284.4h0M205.3 564.5h0M968.2 699.7h0M920.6 395.6h0M738.9 142.1h0M319.2 802.0h0M452.7 557.6h0M489.6 583.3h0M363.9 744.5h0M330.0 804.0h0M758.7 223.6h0M479.0 545.5h0M1050.4 722.3h0M643.9 442.1h0M328.8 838.9h0M262.2 532.4h0M382.7 755.7h0M1055.9 714.8h0M897.0 587.4h0M975.7 721.0h0M321.3 773.1h0M656.1 697.8h0M399.7 776.4h0M705.3 837.3h0M716.7 233.0h0M721.4 136.0h0M784.4 261.1h0M431.3 854.5h0M462.0 575.8h0M299.6 844.1h0M1011.0 629.3h0M955.5 754.0h0M913.0 569.4h0M360.9 755.3h0M758.2 245.2h0M759.2 557.0h0M459.6 386.2h0M328.5 735.6h0M727.9 837.6h0M454.9 414.9h0M315.8 800.3h0M738.4 166.7h0M490.5 868.6h0M791.4 251.4h0M745.0 196.8h0M441.9 843.9h0M460.7 568.7h0M667.4 153.0h0M1060.7 696.5h0M384.4 763.6h0M1041.3 661.4h0M719.5 252.2h0M746.9 243.9h0M341.3 806.4h0M202.2 522.8h0M235.3 529.9h0M1013.5 684.0h0M649.8 691.6h0M781.1 302.3h0M220.3 548.3h0M902.9 722.1h0M599.1 686.0h0M929.4 395.9h0M433.3 846.9h0M436.7 867.4h0M729.3 163.0h0M683.5 127.3h0M1038.1 641.5h0M372.2 771.2h0M820.4 281.5h0M392.2 414.1h0M888.6 373.6h0M493.6 469.7h0M394.8 764.2h0M796.6 249.3h0M698.5 200.5h0M997.9 701.0h0M791.0 298.4h0M1001.5 651.5h0M407.5 823.3h0M554.9 796.8h0M699.1 857.6h0M382.0 754.5h0M199.0 541.6h0M733.4 147.7h0M746.7 231.2h0M356.8 805.8h0M195.4 564.1h0M810.8 230.4h0M1066.4 662.8h0M990.8 661.6h0M412.3 815.7h0M477.7 864.5h0M1010.1 692.4h0M303.2 801.5h0M322.7 856.9h0M486.1 363.8h0M564.4 226.4h0M975.0 748.1h0M245.9 500.7h0M256.8 490.8h0M510.1 513.6h0M699.5 244.8h0M393.6 392.1h0M694.2 445.3h0M670.4 130.7h0M1023.2 737.2h0M595.9 660.4h0M911.0 739.1h0M374.0 839.8h0M389.4 758.2h0M391.3 845.0h0M616.3 644.7h0M355.8 763.2h0M711.7 174.2h0M709.9 151.1h0M1032.0 744.7h0M402.8 810.3h0M602.1 698.3h0M504.4 883.1h0M679.3 726.4h0M764.4 253.7h0M667.3 436.6h0M400.9 389.2h0M437.9 445.2h0M494.1 887.2h0M339.8 851.7h0M461.3 538.2h0M496.7 907.5h0M576.4 763.2h0M668.6 124.1h0M632.1 684.8h0M604.2 241.3h0M741.3 842.9h0M1003.8 679.8h0M947.5 726.1h0M388.5 769.9h0M913.7 542.9h0M405.4 852.5h0M233.3 526.3h0M616.9 682.8h0M702.3 238.8h0M548.4 505.3h0M558.1 762.1h0M978.5 681.9h0M535.7 235.5h0M346.6 834.7h0M561.9 519.6h0M499.8 865.8h0M1055.3 640.7h0M640.8 463.3h0M464.1 589.9h0M736.9 173.0h0M517.5 446.6h0M328.7 723.4h0M329.5 810.9h0M388.8 749.6h0M921.9 402.3h0M948.3 771.2h0M718.3 124.1h0M966.8 741.6h0M758.9 207.2h0M1020.1 713.7h0M382.9 736.2h0M963.8 638.5h0M553.2 505.9h0M647.1 659.3h0M720.4 855.5h0M329.2 821.4h0M331.8 830.8h0M345.0 812.4h0M434.1 842.6h0M343.5 784.3h0M620.1 676.4h0M724.6 468.4h0M497.0 582.8h0M318.2 779.0h0M940.8 706.0h0M577.1 761.3h0M608.6 432.4h0M357.0 749.9h0M490.2 878.1h0M1020.0 735.0h0M532.0 433.8h0M1066.8 670.0h0M648.8 683.2h0M685.4 233.7h0M729.6 857.1h0M349.9 734.8h0M385.7 743.8h0M697.7 231.1h0M345.1 793.8h0M627.8 426.6h0M924.7 710.9h0M610.3 853.9h0M427.0 830.5h0M646.6 701.4h0M751.6 545.2h0M501.5 540.2h0M380.7 872.2h0M347.0 791.5h0M570.1 773.1h0M374.9 734.2h0M737.2 570.6h0M951.8 779.8h0M219.9 570.4h0M390.6 828.4h0M515.5 417.4h0M643.1 699.9h0M612.7 239.1h0M382.5 866.9h0M714.0 832.4h0M350.5 758.8h0M1010.9 621.0h0M888.8 426.2h0M665.9 708.2h0M461.8 559.9h0M426.6 548.1h0M627.4 691.6h0M489.0 353.0h0M441.1 829.4h0M706.9 171.1h0M933.2 726.2h0M472.4 868.4h0M400.1 857.5h0M983.3 697.6h0M555.7 762.7h0M560.4 472.4h0M761.3 198.1h0M357.4 869.7h0M700.8 268.0h0M359.3 829.8h0M376.9 795.2h0M542.5 230.6h0M585.9 741.9h0M604.3 675.4h0M310.2 816.0h0M445.8 392.2h0M476.2 556.4h0M410.1 413.9h0M791.3 785.7h0M573.5 774.8h0M439.9 865.6h0M1033.1 627.3h0M519.4 476.1h0M585.5 435.7h0M331.8 854.2h0M695.2 238.2h0M312.5 826.7h0M520.4 559.4h0M705.1 849.2h0M318.0 776.1h0M374.0 857.9h0M431.3 440.4h0M690.0 171.5h0M406.0 809.6h0M675.4 717.2h0M500.6 384.1h0M646.7 688.6h0M742.7 184.0h0M389.6 741.2h0M804.9 224.2h0M728.2 210.1h0M528.2 505.4h0M312.8 788.8h0M778.5 280.7h0M1053.2 660.9h0M332.0 725.3h0M705.7 857.1h0M1024.5 748.0h0M753.0 563.4h0M1032.9 752.2h0M335.3 782.1h0M901.3 710.8h0M515.7 431.5h0M394.6 767.8h0M523.8 429.9h0M940.6 671.7h0M922.3 782.8h0M1002.9 647.0h0M780.6 215.2h0M319.9 815.9h0M1028.6 752.0h0M666.4 694.3h0M990.1 739.6h0M986.0 722.5h0M440.0 853.0h0M386.0 401.2h0M595.3 683.3h0M431.6 413.4h0M302.0 830.1h0M708.6 456.9h0M904.3 725.5h0M497.3 503.5h0M1026.5 683.6h0M468.9 858.5h0M732.7 210.8h0M1030.2 637.2h0M309.0 806.9h0M599.3 242.3h0M368.0 725.3h0M485.0 450.8h0M752.1 599.9h0M1028.8 683.0h0M404.7 847.1h0M678.6 168.1h0M996.1 677.0h0M581.7 748.9h0M671.8 709.4h0M1045.4 670.8h0M635.4 661.6h0M482.9 353.6h0M403.6 393.4h0M417.1 846.2h0M901.0 598.2h0M463.5 869.5h0M1015.6 632.9h0M314.0 860.5h0M307.2 823.7h0M681.7 128.3h0M960.1 366.3h0M1064.9 692.4h0M500.0 878.7h0M296.4 819.4h0M221.9 512.1h0M776.6 252.7h0M330.2 840.7h0M990.4 701.8h0M515.0 951.7h0M686.2 129.7h0M351.3 822.4h0M484.0 568.1h0M457.4 858.0h0M445.2 869.9h0M942.3 767.4h0M388.0 744.1h0M762.0 231.0h0M303.7 853.7h0M776.3 234.6h0M612.1 645.2h0M326.0 817.2h0M598.5 413.5h0M618.5 680.1h0M466.5 847.4h0M543.3 261.7h0M238.2 575.8h0M965.1 745.1h0M360.8 828.0h0M1024.6 754.7h0M657.9 705.3h0M707.1 840.9h0M1033.6 731.0h0M349.0 862.5h0M380.3 813.2h0M473.7 511.2h0M597.0 669.3h0M386.4 805.2h0M756.7 241.3h0M445.5 866.1h0M382.8 739.4h0M193.4 527.8h0M809.7 221.9h0M779.8 299.6h0M607.4 240.0h0M719.0 454.7h0M736.0 142.6h0M786.1 301.6h0M500.0 572.4h0M503.2 526.6h0M471.4 557.8h0M336.7 815.3h0M539.2 504.4h0M301.3 807.7h0M397.9 772.2h0M910.0 742.3h0M677.5 256.0h0M995.0 765.0h0M537.0 325.8h0M342.5 822.2h0M303.0 827.9h0M535.4 476.0h0M446.9 393.0h0M317.4 773.2h0M712.3 179.1h0M704.0 236.5h0M222.9 526.4h0M770.3 233.9h0M382.0 801.4h0M504.0 512.7h0M961.0 702.2h0M1041.2 734.8h0M755.1 229.1h0M517.9 545.2h0M393.3 810.7h0M436.9 578.2h0M386.8 829.6h0M380.7 843.3h0M789.6 309.5h0M762.5 260.2h0M438.2 573.7h0M571.9 217.3h0M458.0 846.3h0M1053.6 715.4h0M638.0 660.1h0M793.5 216.4h0M540.0 433.3h0M474.4 446.3h0M307.2 842.6h0M322.9 796.3h0M485.6 516.1h0M256.3 494.3h0M588.8 462.2h0M356.9 759.1h0M1050.7 731.8h0M1037.2 744.3h0M1031.1 746.7h0M971.9 681.2h0M611.6 707.5h0M1002.1 737.4h0M637.8 690.6h0M1021.6 706.1h0M669.8 238.7h0M808.5 286.8h0M308.7 853.3h0M645.0 693.4h0M645.1 435.3h0M599.5 246.2h0M332.3 801.9h0M934.5 742.0h0M937.2 678.1h0M434.5 447.3h0M508.0 881.5h0M935.3 674.2h0M386.4 751.0h0M931.4 751.4h0M460.3 865.8h0M726.6 233.3h0M408.7 816.8h0M359.9 737.5h0M625.7 688.3h0M523.0 1017.7h0M410.8 824.2h0M370.6 758.2h0M1036.6 651.9h0M454.9 446.6h0M893.8 433.1h0M252.0 496.5h0M908.1 710.9h0M614.8 695.4h0M760.6 252.5h0M759.3 274.0h0M363.0 837.1h0M475.1 513.1h0M731.4 859.4h0M673.0 720.8h0M529.6 446.7h0M598.2 678.1h0M783.2 287.2h0M419.6 397.2h0M992.5 751.8h0M352.4 818.2h0M583.0 543.7h0M615.1 664.7h0M224.4 532.1h0M499.2 880.4h0M465.0 423.0h0M1025.6 716.8h0M701.0 234.7h0M944.1 769.7h0M342.3 862.1h0M295.7 831.8h0M361.2 805.8h0M700.8 432.8h0M428.7 827.1h0M823.2 279.8h0M305.1 844.3h0M677.0 718.2h0M574.5 759.2h0M621.7 685.7h0M661.9 146.5h0M636.4 698.0h0M153.9 538.9h0M383.1 740.9h0M734.6 813.3h0M687.1 425.5h0M613.8 648.9h0M724.5 183.5h0M1034.0 687.2h0M405.3 840.1h0M905.1 366.2h0M962.6 668.5h0M364.8 804.3h0M607.4 644.4h0M625.3 415.3h0M173.2 548.7h0M1029.1 758.4h0M631.7 666.2h0M401.0 843.1h0M450.9 583.4h0M997.3 707.8h0M420.5 419.4h0M634.8 673.0h0M956.1 723.0h0M690.5 249.8h0M469.7 871.4h0M776.3 267.1h0M243.4 531.3h0M1016.8 666.6h0M440.5 586.5h0M949.2 691.1h0M715.0 259.8h0M770.3 207.8h0M484.8 439.0h0M827.5 293.6h0M404.4 802.7h0M743.0 206.7h0M739.1 209.6h0M1025.9 700.1h0M1004.6 768.3h0M745.2 785.0h0M462.0 552.4h0M417.6 420.8h0M431.7 858.2h0M342.4 800.7h0M661.9 149.1h0M727.9 239.9h0M673.9 176.2h0M389.0 799.3h0M622.8 658.6h0M362.6 869.2h0M452.8 541.4h0M632.4 245.1h0M612.5 691.9h0M317.3 850.3h0M434.2 578.5h0M379.1 771.5h0M347.9 837.2h0M179.9 538.1h0M980.5 766.9h0M975.1 729.1h0M696.0 255.7h0M938.4 764.0h0M698.5 444.3h0M936.7 779.1h0M165.0 532.9h0M512.8 878.9h0M704.0 225.2h0M575.5 766.9h0M1018.6 702.2h0M488.2 349.8h0M618.5 646.1h0M920.5 376.3h0M1009.1 716.8h0M978.0 720.9h0M594.7 725.5h0M641.5 659.1h0M905.2 553.0h0M292.0 833.3h0M488.6 569.4h0M971.6 650.0h0M657.9 689.6h0M481.2 873.2h0M418.1 850.7h0M363.1 795.9h0M319.4 764.7h0M697.9 430.8h0M213.8 508.2h0M747.5 183.8h0M679.9 731.7h0M518.8 429.9h0M417.1 405.7h0M603.8 844.4h0M996.5 646.1h0M722.9 822.6h0M364.3 776.4h0M391.0 860.4h0M713.3 938.0h0M637.7 678.3h0M460.4 536.3h0M960.1 726.2h0M908.9 702.6h0M479.1 471.2h0M711.8 229.2h0M663.0 703.0h0M734.5 238.7h0M972.3 676.6h0M486.6 546.4h0M708.7 230.1h0M1034.5 738.8h0M763.3 226.9h0M329.9 765.4h0M643.6 686.6h0M645.6 697.5h0M657.6 239.1h0M940.8 677.1h0M922.0 769.6h0M635.9 448.9h0M391.2 785.8h0M469.3 858.2h0M342.2 764.4h0M309.0 785.7h0M422.9 565.5h0M715.3 829.0h0M595.2 720.4h0M683.5 116.8h0M569.6 464.6h0M754.9 592.8h0M249.9 529.4h0M190.6 520.4h0M661.9 704.5h0M663.6 240.1h0M609.6 647.7h0M963.9 734.0h0M442.0 862.9h0M519.0 539.0h0M803.5 294.8h0M318.5 752.6h0M358.7 859.3h0M664.6 123.7h0M754.1 567.6h0M667.1 715.5h0M494.1 584.5h0M473.2 586.4h0M620.7 466.3h0M616.6 861.4h0M256.4 539.3h0M664.9 126.8h0M165.1 529.2h0M539.8 506.4h0M998.2 629.3h0M644.8 688.3h0M890.3 374.3h0M434.4 526.0h0M355.3 741.8h0M488.4 499.0h0M987.6 707.8h0M607.1 684.2h0M562.5 479.8h0M732.5 187.4h0M616.5 427.0h0M672.5 451.3h0M505.8 409.2h0M960.8 756.2h0M720.1 831.2h0M643.5 675.2h0M360.8 847.3h0M785.8 278.2h0M620.4 650.8h0M569.7 502.6h0M1060.9 656.9h0M495.5 514.7h0M511.6 420.3h0M744.7 176.5h0M924.8 379.0h0M468.4 532.4h0M662.5 151.8h0M909.7 727.2h0M354.1 739.3h0M520.6 985.7h0M404.1 837.2h0M700.3 236.6h0M485.3 523.1h0M803.6 779.1h0M497.8 523.6h0M604.4 647.3h0M619.7 656.5h0M535.6 503.2h0M982.0 698.8h0M340.3 777.9h0M602.5 657.8h0M811.4 274.1h0M974.9 711.5h0M635.0 679.1h0M393.5 796.2h0M751.7 596.2h0M1017.5 744.2h0M995.5 692.5h0M340.0 748.9h0M696.0 929.9h0M918.4 750.1h0M458.4 549.3h0M715.2 835.2h0M322.7 778.2h0M740.3 172.0h0M431.4 835.4h0M1014.3 629.9h0M483.9 547.3h0M314.9 802.8h0M929.4 698.2h0M817.4 234.5h0M479.7 851.4h0M610.3 680.5h0M1017.6 679.6h0M414.8 820.4h0M1022.3 743.8h0M319.4 738.6h0M712.2 935.2h0M1001.4 668.6h0M766.7 202.2h0M161.5 534.0h0M431.9 849.5h0M389.1 788.0h0M398.5 793.3h0M424.3 839.5h0M1002.2 710.2h0M1027.3 658.5h0M329.9 773.2h0M993.9 726.8h0M456.5 533.7h0M630.5 687.2h0M693.6 175.8h0M744.7 549.4h0M966.5 652.9h0M702.4 932.8h0M587.9 392.6h0M394.0 759.3h0M907.9 718.6h0M574.7 476.2h0M548.7 771.3h0M707.3 454.1h0M963.5 635.5h0M405.1 834.8h0M333.5 859.5h0M534.7 460.6h0M722.4 845.2h0M697.6 473.3h0M940.4 745.5h0M948.0 738.7h0M820.9 226.3h0M514.2 528.7h0M368.3 850.0h0M1032.4 725.2h0M626.5 675.2h0M727.8 131.4h0M393.2 858.7h0M330.1 769.4h0M522.7 996.3h0M396.9 781.6h0M186.7 505.8h0M607.9 692.5h0M525.3 1011.4h0M334.9 726.1h0M353.6 785.5h0M821.2 275.9h0M696.5 172.6h0M387.8 738.1h0M755.6 559.4h0M309.0 779.6h0M457.8 596.3h0M619.1 876.9h0M396.4 841.5h0M1052.5 691.5h0M178.8 552.4h0M708.8 134.1h0M778.1 241.8h0M943.1 677.1h0M464.7 570.5h0M343.0 824.4h0M463.8 526.7h0M662.3 700.8h0M400.6 796.9h0M445.6 518.8h0M324.9 787.9h0M732.6 847.6h0M363.7 856.4h0M803.2 794.4h0M358.7 846.5h0M453.0 585.9h0M641.4 701.7h0M309.6 819.9h0M665.2 158.2h0M359.1 867.2h0M724.2 501.7h0M353.4 797.2h0M355.8 776.4h0M724.0 839.9h0M1018.3 654.2h0M987.0 685.5h0M1027.8 715.9h0M479.3 436.7h0M503.5 574.1h0M387.2 821.9h0M393.6 832.9h0M351.6 718.7h0M339.4 820.6h0M480.0 1029.2h0M977.2 692.4h0M365.4 723.8h0M604.7 233.1h0M785.9 222.9h0M649.2 437.9h0M299.2 804.7h0M628.5 890.8h0M902.2 558.8h0M554.9 770.9h0M416.8 828.9h0M687.0 243.7h0M481.3 355.6h0M1047.2 733.8h0M403.6 859.3h0M1031.9 723.6h0M471.6 427.9h0M357.1 788.5h0M734.0 841.2h0M902.4 364.9h0M346.3 864.3h0M675.4 200.3h0M550.5 477.6h0M973.5 779.9h0M910.0 690.0h0M347.7 842.0h0M412.7 401.1h0M965.1 662.7h0M799.7 255.9h0M1061.6 703.5h0M1039.4 709.4h0M357.0 783.4h0M914.3 557.4h0M719.6 198.5h0M342.8 811.2h0M600.6 698.9h0M346.8 737.8h0M669.2 703.8h0M801.8 313.2h0M481.7 516.9h0M771.7 201.9h0M385.4 776.9h0M367.9 802.0h0M972.5 673.6h0M410.1 856.6h0M1019.7 707.6h0M494.5 552.5h0M990.9 685.9h0M630.9 663.3h0M526.3 475.2h0M415.3 823.2h0M402.5 847.6h0M703.8 858.6h0M334.0 731.9h0M438.9 550.2h0M423.5 824.9h0M657.5 430.3h0M914.8 376.2h0M647.6 916.8h0M402.4 800.1h0M389.0 774.9h0M375.4 781.7h0M931.9 781.3h0M605.8 644.1h0M373.1 737.5h0M359.5 769.6h0M835.3 290.0h0M369.2 822.6h0M916.6 537.6h0M392.0 772.4h0M391.5 791.0h0M392.1 870.5h0M322.4 817.5h0M649.6 667.2h0M427.9 404.8h0M709.0 216.2h0M508.3 909.7h0M723.6 172.0h0M674.3 217.5h0M615.3 652.2h0M502.2 385.2h0M294.6 816.4h0M1016.3 693.7h0M560.8 443.3h0M768.9 591.5h0M680.8 169.9h0M377.0 777.0h0M648.4 676.9h0M180.6 540.7h0M921.6 700.7h0M631.3 706.5h0M641.5 671.6h0M709.4 831.4h0M334.4 806.2h0M802.5 214.5h0M353.3 745.2h0M336.5 859.7h0M400.2 781.0h0M364.1 757.1h0M345.2 731.5h0M449.8 849.7h0M237.1 502.8h0M557.9 769.7h0M690.2 229.5h0M570.0 477.2h0M969.5 699.0h0M724.0 131.5h0M955.2 777.7h0M680.8 211.4h0M599.6 715.2h0M502.7 539.9h0M591.3 414.5h0M938.5 716.1h0M1007.5 762.6h0M651.1 681.9h0M658.7 707.0h0M923.9 735.7h0M427.5 409.7h0M339.3 787.3h0M955.3 662.4h0M515.9 414.8h0M450.4 525.6h0M740.6 595.3h0M1027.3 735.6h0M726.0 226.9h0M627.7 699.1h0M730.0 835.9h0M811.3 279.6h0M309.5 826.6h0M323.1 861.3h0M982.4 750.7h0M1055.5 660.1h0M402.3 787.3h0M938.0 698.7h0M476.8 436.7h0M785.1 588.0h0M363.6 783.2h0M516.6 449.3h0M346.7 729.6h0M452.6 868.5h0M218.7 519.0h0M549.2 237.5h0M528.2 993.6h0M669.7 116.2h0M530.2 451.4h0M1028.7 747.8h0M355.3 844.0h0M1058.4 651.7h0M338.4 807.8h0M164.4 519.3h0M443.6 832.4h0M545.2 486.2h0M793.2 295.5h0M1031.8 679.4h0M425.1 843.4h0M480.5 524.4h0M353.3 857.1h0M724.6 199.8h0M595.0 246.2h0M633.3 913.1h0M971.4 647.8h0M345.2 796.2h0M950.1 695.3h0M789.3 296.7h0M367.7 848.0h0M928.5 687.7h0M556.2 467.7h0M480.0 547.9h0M435.8 569.4h0M936.7 740.7h0M494.8 885.6h0M725.4 835.8h0M362.0 761.2h0M443.9 859.6h0M702.6 842.1h0M427.0 820.2h0M943.9 376.1h0M525.0 909.7h0M953.5 776.5h0M1028.6 680.2h0M1042.7 722.3h0M754.8 552.0h0M457.7 558.4h0M723.2 850.1h0M390.2 781.1h0M407.5 834.5h0M733.1 855.7h0M297.6 838.5h0M402.5 784.3h0M721.3 848.3h0M569.2 231.9h0M341.4 753.8h0M207.9 570.2h0M770.1 258.5h0M491.4 498.3h0M200.5 532.2h0M369.1 840.1h0M626.4 894.5h0M609.7 676.5h0M223.3 508.4h0M722.8 837.6h0M727.6 275.8h0M718.0 459.5h0M539.3 235.9h0M472.8 470.4h0M613.3 778.0h0M350.5 803.1h0M717.8 857.0h0M305.1 849.2h0M504.1 868.2h0M676.6 176.6h0M927.5 684.2h0M571.9 765.4h0M496.5 558.4h0M805.8 289.0h0M353.5 753.6h0M1012.8 756.1h0M659.3 456.6h0M389.6 734.3h0M946.8 371.9h0M962.3 678.1h0M479.5 551.2h0M647.3 664.6h0M953.7 695.9h0M319.4 782.7h0M665.8 713.3h0M378.0 727.0h0M1020.1 763.7h0M1060.6 688.3h0M1010.9 772.5h0M717.4 836.4h0M346.5 777.6h0M483.2 441.6h0M489.6 502.6h0M733.8 602.2h0M961.7 662.6h0M262.2 539.0h0M382.3 852.8h0M463.8 558.1h0M942.8 360.1h0M661.1 705.8h0M372.5 735.1h0M380.8 865.0h0M348.1 758.8h0M782.5 244.8h0M960.3 752.7h0M365.8 843.4h0M203.7 555.2h0M936.8 699.6h0M431.5 561.9h0M393.7 791.2h0M767.8 206.4h0M436.3 839.1h0M400.3 789.1h0M980.4 638.5h0M454.9 416.1h0M797.6 279.2h0M1009.1 700.8h0M986.8 676.5h0M757.7 560.0h0M379.8 829.3h0M800.1 287.1h0M207.1 505.4h0M804.8 311.1h0M653.1 442.4h0M715.2 460.3h0M556.7 248.4h0M1012.5 713.7h0M692.0 228.2h0M417.1 837.1h0M737.6 596.3h0M512.6 507.0h0M597.7 682.4h0M567.4 227.9h0M720.5 717.7h0M772.5 260.2h0M442.7 867.9h0M868.8 364.9h0M945.8 700.4h0M445.7 396.3h0M392.8 785.6h0M989.7 769.4h0M375.0 852.4h0M343.6 815.6h0M904.4 712.7h0M386.5 737.9h0M630.4 680.8h0M221.0 536.2h0M698.9 179.7h0M553.1 774.4h0M996.1 769.7h0M656.3 707.9h0M978.5 731.1h0M569.5 223.4h0M653.9 694.0h0M366.9 769.7h0M799.5 269.6h0M730.7 183.0h0M722.3 860.3h0M393.4 814.3h0M324.7 758.2h0M601.7 441.7h0M750.6 792.4h0M913.9 728.7h0M943.3 775.3h0M711.8 269.8h0M416.7 820.5h0M388.0 762.1h0M960.6 773.1h0M361.2 822.8h0M970.7 729.9h0M330.1 792.6h0M870.5 374.1h0M1028.0 648.4h0M393.6 770.8h0M415.0 815.8h0M910.2 373.0h0M330.8 862.4h0M352.2 782.6h0M385.2 814.1h0M613.3 685.8h0M720.8 495.0h0M499.1 486.3h0M536.0 228.2h0M441.5 547.6h0M619.8 665.9h0M805.1 795.4h0M945.6 776.7h0M676.2 731.3h0M592.8 670.0h0M387.1 786.3h0M207.6 516.3h0M800.0 782.8h0M346.3 858.9h0M358.9 721.8h0M386.5 824.7h0M727.8 842.2h0M464.4 446.4h0M499.1 543.3h0M455.6 572.4h0M572.0 476.0h0M1014.5 725.4h0M350.0 766.3h0M711.6 192.3h0M453.2 836.0h0M1003.2 720.7h0M685.0 163.6h0M609.8 699.8h0M925.9 703.5h0M1034.3 669.7h0M472.4 526.9h0M546.4 488.0h0M715.4 227.3h0M442.0 413.0h0M592.6 230.3h0M607.0 413.3h0M778.1 240.6h0M561.4 769.7h0M319.0 832.7h0M728.1 828.1h0M389.4 850.8h0M350.3 780.2h0M747.0 236.1h0M313.4 775.8h0M317.0 825.4h0M581.9 539.8h0M358.9 868.2h0M452.4 845.5h0M917.1 704.6h0M962.1 695.4h0M694.4 229.3h0M913.3 560.1h0M174.1 530.0h0M453.3 562.7h0M376.9 843.0h0M705.1 456.8h0M394.6 867.1h0M712.0 226.7h0M350.6 806.3h0M353.2 722.5h0M359.8 843.7h0M399.2 769.0h0M379.7 747.4h0M702.5 462.7h0M554.9 239.5h0M576.5 217.6h0M754.6 228.2h0M467.7 849.3h0M380.8 728.2h0M438.4 826.3h0M356.8 772.4h0M718.1 829.7h0M567.6 499.2h0M327.9 807.0h0M351.6 756.2h0M387.1 753.3h0M573.1 218.8h0M490.1 520.4h0M451.2 577.0h0M526.6 445.2h0M602.1 779.4h0M909.7 732.2h0M736.9 201.7h0M774.4 302.2h0M482.9 864.9h0M904.7 552.6h0M962.7 690.6h0M367.7 758.1h0M371.9 747.6h0M904.2 623.3h0M440.3 836.0h0M1008.7 767.2h0M353.3 861.7h0M686.8 137.3h0M755.9 571.3h0M928.0 398.9h0M387.4 854.8h0M327.0 733.2h0M388.4 865.6h0M685.4 115.8h0M747.7 185.7h0M467.0 863.4h0M304.9 823.9h0M291.9 826.3h0M314.1 842.6h0M1001.3 688.0h0M386.1 872.8h0M721.3 148.5h0M361.6 742.7h0M638.0 906.5h0M708.7 933.0h0M711.7 461.4h0M365.8 811.2h0M521.3 529.4h0M774.5 215.0h0M606.6 647.1h0M1045.4 713.3h0M355.9 817.6h0M495.1 555.3h0M940.3 372.2h0M1016.9 648.1h0M679.3 249.9h0M994.7 754.1h0M920.2 534.5h0M460.5 863.9h0M1005.5 699.9h0M961.9 781.4h0M364.0 845.2h0M500.3 377.2h0M613.1 852.7h0M634.7 920.2h0M371.9 724.0h0M301.1 850.4h0M672.7 731.2h0M400.8 773.3h0M482.5 876.7h0M551.1 768.3h0M624.2 890.7h0M701.3 451.5h0M482.4 862.8h0M572.3 240.2h0M605.3 662.4h0M484.8 521.1h0M725.4 853.4h0M539.0 241.3h0M637.5 465.3h0M479.5 585.1h0M571.3 777.8h0M974.1 661.7h0M418.5 830.7h0M658.3 690.7h0M631.8 448.5h0M957.2 709.0h0M386.5 848.5h0M694.4 148.7h0M591.2 733.0h0M933.4 693.0h0M541.0 223.4h0M935.0 755.1h0M413.6 813.5h0M967.9 707.9h0M723.0 855.0h0M477.4 540.0h0M717.8 853.2h0M341.1 866.0h0M387.6 733.9h0M734.6 843.5h0M493.3 881.7h0M409.6 843.8h0M981.4 687.7h0M953.6 374.1h0M553.7 466.9h0M713.4 852.3h0M497.7 379.2h0M791.6 292.8h0M921.9 738.0h0M555.0 795.9h0M968.1 650.8h0M750.4 586.8h0M357.8 718.9h0M312.6 793.8h0M485.3 472.4h0M393.2 838.4h0M916.0 785.4h0M1010.3 762.2h0M642.6 698.3h0M522.1 1006.0h0M960.0 362.4h0M482.7 464.5h0M945.9 712.5h0M756.4 195.0h0M1011.5 700.6h0M772.3 250.1h0M648.6 697.1h0M796.8 254.9h0M603.5 695.9h0M370.9 788.7h0M454.8 858.7h0M937.9 673.4h0M490.9 356.0h0M954.8 660.7h0M425.3 397.7h0M757.4 563.4h0M814.5 231.9h0M313.8 856.5h0M388.2 773.1h0M716.9 825.8h0M611.2 671.7h0M333.5 767.0h0M652.1 691.4h0M388.2 416.8h0M340.9 787.9h0M970.5 715.6h0M362.7 851.2h0M202.8 541.1h0M168.4 569.7h0M308.4 836.8h0M155.3 536.3h0M790.3 225.3h0M345.6 799.3h0M621.7 648.8h0M759.0 193.5h0M985.2 710.1h0M471.2 861.9h0M319.4 825.9h0M342.4 735.7h0M483.6 582.7h0M550.4 494.4h0M688.7 156.1h0M630.6 656.5h0M459.4 465.2h0M1050.6 683.4h0M1058.9 694.4h0M711.6 854.5h0M380.5 735.4h0M733.8 561.2h0M356.0 748.7h0M951.6 692.1h0M423.4 859.2h0M347.1 817.6h0M703.4 185.5h0M371.2 851.6h0M205.6 566.5h0M683.3 457.5h0M513.6 552.1h0M779.9 264.1h0M1028.9 685.8h0M332.8 823.4h0M698.0 434.8h0M914.0 707.9h0M617.0 697.4h0M313.1 843.9h0M727.7 216.8h0M459.3 840.1h0M331.8 746.4h0M600.1 553.1h0M640.0 665.7h0M979.1 758.5h0M544.9 770.9h0M634.1 692.6h0M323.0 824.5h0M706.8 150.4h0M591.2 457.9h0M741.1 191.0h0M436.8 834.1h0M295.8 837.0h0M1009.1 683.6h0M534.3 447.2h0M711.9 841.0h0M989.8 755.8h0M164.8 541.9h0M959.9 777.1h0M687.2 461.1h0M926.0 783.8h0M483.5 527.0h0M467.6 519.0h0M784.4 241.8h0M359.6 757.9h0M302.0 815.2h0M594.4 421.8h0M353.4 736.3h0M426.2 863.2h0M469.1 564.7h0M722.5 840.6h0M688.3 205.0h0M375.0 725.2h0M545.3 301.7h0M526.0 462.7h0M347.5 766.8h0M992.8 635.3h0M369.3 791.2h0M423.7 545.7h0M377.5 871.7h0M956.9 780.9h0M366.2 867.2h0M1015.6 709.2h0M331.3 812.0h0M622.9 671.0h0M460.4 544.0h0M677.1 195.1h0M367.0 819.7h0M323.6 830.7h0M408.1 428.3h0M603.9 704.8h0M981.3 716.5h0M912.1 708.9h0M1040.0 737.0h0M370.6 801.8h0M949.0 372.3h0M757.2 240.7h0M965.4 649.9h0M533.5 501.4h0M770.2 247.0h0M1001.7 750.4h0M980.3 775.8h0M328.6 859.2h0M531.9 466.2h0M624.6 404.9h0M827.4 272.0h0M983.6 763.5h0M527.4 460.4h0M701.4 120.3h0M1025.1 686.2h0M951.6 377.9h0M943.7 364.1h0M810.4 305.9h0M399.2 846.5h0M181.2 544.9h0M435.6 533.5h0M575.2 757.9h0M438.5 863.2h0M954.3 364.2h0M864.9 368.3h0M612.9 449.6h0M224.7 522.2h0M1055.1 650.7h0M653.8 917.4h0M296.9 811.4h0M533.7 993.9h0M913.2 578.8h0M575.0 233.0h0M704.0 130.3h0M973.6 630.3h0M1035.2 653.8h0M556.8 779.2h0M394.8 803.1h0M437.4 846.5h0M366.0 846.8h0M732.2 854.7h0M597.0 678.3h0M346.8 787.2h0M710.4 466.3h0M510.8 933.3h0M993.1 710.1h0M920.6 712.6h0M436.2 584.4h0M799.2 251.9h0M606.3 679.9h0M401.0 829.9h0M459.9 556.7h0M407.5 404.3h0M647.1 706.8h0M540.7 770.5h0M380.4 752.5h0M589.9 417.7h0M694.2 235.7h0M436.4 541.5h0M1038.8 736.4h0M439.7 564.8h0M994.3 667.4h0M985.9 633.3h0M370.9 868.9h0M623.5 896.3h0M969.4 769.4h0M306.9 810.8h0M1044.5 652.3h0M490.5 589.2h0M548.4 246.2h0M246.8 573.0h0M955.6 740.0h0M1032.3 733.9h0M369.7 752.1h0M597.1 712.6h0M334.4 741.1h0M336.4 780.2h0M473.0 872.5h0M598.6 690.2h0M193.5 550.8h0M652.5 689.7h0M389.7 778.7h0M707.0 834.1h0M471.0 853.7h0M976.1 767.2h0M468.5 459.0h0M714.2 468.2h0M706.0 932.3h0M995.8 681.2h0M673.4 189.2h0M443.4 582.8h0M373.7 775.7h0M357.6 729.2h0M357.7 804.4h0M216.3 556.8h0M343.0 725.6h0M992.8 679.9h0M756.7 281.3h0M749.3 242.8h0M668.3 155.8h0M944.7 362.3h0M969.6 640.4h0M310.3 810.2h0M223.2 520.9h0M596.7 419.1h0M951.5 370.4h0M294.7 813.3h0M620.2 673.3h0M1020.5 678.2h0M1020.0 755.7h0M342.7 835.6h0M708.6 839.2h0M949.8 734.5h0M717.2 168.1h0M556.6 765.0h0M565.0 494.0h0M376.0 723.0h0M636.3 706.3h0M698.7 850.3h0M747.9 556.6h0M594.3 776.6h0M774.4 208.4h0M612.4 434.1h0M969.8 721.4h0M520.0 1016.6h0M191.8 566.1h0M492.7 869.4h0M751.9 206.1h0M451.4 843.9h0M441.4 837.6h0M720.1 121.8h0M1024.7 649.0h0M196.0 535.6h0M497.6 483.6h0M344.3 802.9h0M328.4 777.0h0M726.9 538.8h0M325.0 730.1h0M748.7 546.2h0M726.4 857.3h0M582.1 438.0h0M823.6 292.1h0M892.9 376.4h0M172.5 569.8h0M393.4 788.9h0M339.5 735.5h0M386.9 779.5h0M395.4 769.3h0M787.8 273.5h0M729.7 565.3h0M674.4 196.6h0M1008.7 714.6h0M315.5 788.7h0M748.4 547.7h0M711.3 236.9h0M632.3 420.3h0M316.7 762.4h0M395.1 778.5h0M431.7 843.8h0M604.6 649.6h0M986.3 731.1h0M723.8 501.8h0M724.6 461.4h0M950.7 669.8h0M351.5 754.5h0M536.6 483.4h0M687.2 929.9h0M392.1 795.0h0M344.8 720.4h0M940.6 682.8h0M640.7 696.1h0M722.6 826.2h0M670.7 134.5h0M632.4 704.7h0M359.6 812.3h0M680.5 188.8h0M445.1 532.3h0M325.2 759.5h0M1058.9 670.3h0M413.0 836.8h0M383.4 816.4h0M786.9 286.0h0M704.3 228.0h0M1060.6 684.8h0M392.3 849.5h0M657.8 686.3h0M437.8 575.5h0M927.7 711.1h0M478.2 519.3h0M495.0 480.7h0M451.6 840.7h0M451.9 391.4h0M745.0 234.7h0M585.6 735.0h0M385.7 781.6h0M637.8 420.3h0M396.7 860.8h0M616.4 670.1h0M679.2 152.2h0M208.5 552.0h0M520.7 549.4h0M748.0 238.8h0M425.9 849.9h0M968.4 776.8h0M1043.4 732.0h0M325.1 747.0h0M415.4 836.0h0M343.2 794.6h0M670.3 432.6h0M767.5 199.8h0M482.0 580.6h0M528.6 502.0h0M603.9 681.3h0M182.7 544.6h0M473.9 541.2h0M366.6 772.7h0M640.0 458.8h0M589.3 224.6h0M532.3 465.1h0M490.3 858.7h0M159.9 549.5h0M391.0 391.6h0M938.7 774.9h0M953.2 368.2h0M525.2 528.7h0M792.5 276.7h0M949.7 748.8h0M715.7 139.2h0M944.3 735.7h0M913.3 587.5h0M310.6 798.8h0M472.7 548.1h0M912.8 586.6h0M561.9 781.2h0M293.4 821.9h0M972.9 643.0h0M992.5 639.6h0M636.2 663.1h0M452.5 570.1h0M373.2 824.5h0M427.8 821.1h0M326.2 794.2h0M589.2 734.7h0M316.2 845.6h0M384.2 407.6h0M331.4 808.0h0M602.0 691.2h0M350.2 843.5h0M181.6 559.8h0M736.3 180.3h0M387.9 732.3h0M437.8 547.5h0M329.4 798.8h0M669.0 697.5h0M423.9 836.4h0M319.8 750.6h0M709.4 856.2h0M1037.0 671.0h0M610.0 417.6h0M1039.9 700.4h0M958.8 668.5h0M362.7 825.6h0M323.9 750.4h0M459.6 581.6h0M1008.1 675.6h0M660.3 154.2h0M163.8 523.1h0M676.5 234.1h0M919.3 724.1h0M407.3 801.5h0M213.2 572.2h0M997.7 747.9h0M627.3 240.1h0M192.9 535.2h0M940.9 390.2h0M581.1 541.4h0M1012.4 665.3h0M532.2 454.1h0M716.3 851.4h0M173.8 567.8h0M371.0 795.7h0M965.8 642.7h0M839.6 285.9h0M663.5 697.3h0M681.4 438.1h0M488.7 863.1h0"/><path stroke="#b69ce3" d="M914.7 750.8h0M505.1 550.7h0M346.3 811.2h0M256.0 530.5h0M394.6 432.1h0M677.4 162.5h0M1027.7 761.3h0M1017.2 641.4h0M324.3 731.5h0M483.2 857.3h0M990.9 774.9h0M672.6 144.7h0M941.3 741.2h0M367.0 839.3h0M440.0 850.9h0M723.3 175.8h0M920.3 755.2h0M1034.4 691.6h0M742.2 228.9h0M377.1 831.1h0M437.9 852.7h0M573.6 480.0h0M352.0 836.8h0M911.3 776.5h0M484.7 856.5h0M462.5 840.8h0M989.5 681.3h0M468.1 539.5h0M922.4 754.5h0M734.5 165.3h0M242.3 525.4h0M177.9 554.7h0M317.3 838.1h0M337.8 758.3h0M961.8 744.7h0M703.5 180.4h0M558.0 781.9h0M579.2 538.6h0M607.1 669.4h0M531.4 998.4h0M377.8 781.3h0M975.0 655.5h0M495.9 877.4h0M532.1 238.4h0M600.8 442.8h0M429.4 398.2h0M747.4 590.7h0M525.1 1016.0h0M400.4 858.8h0M692.5 127.2h0M338.0 828.3h0M202.0 514.6h0M1041.8 678.6h0M741.4 544.5h0M680.0 186.9h0M782.0 270.9h0M808.4 231.0h0M502.7 531.9h0M379.0 788.8h0M319.6 766.9h0M950.3 737.4h0M496.0 532.4h0M576.9 240.4h0M714.0 438.5h0M393.3 388.4h0M638.7 698.0h0M726.8 139.2h0M390.0 421.4h0M225.9 537.4h0M350.0 738.0h0M525.1 452.7h0M662.9 128.0h0M378.2 811.8h0M945.9 779.7h0M708.3 228.3h0M603.7 468.8h0M451.4 833.2h0M476.9 848.8h0M474.1 849.5h0M937.1 761.3h0M703.8 168.1h0M794.5 232.8h0M337.7 781.8h0M427.1 441.8h0M357.7 822.4h0M638.1 687.2h0M607.5 682.3h0M1020.5 642.1h0M402.3 431.1h0M914.8 562.4h0M1023.3 654.7h0M346.0 855.6h0M1020.9 624.2h0M1034.6 686.4h0M493.9 861.7h0M394.9 845.6h0M571.3 474.7h0M359.1 754.2h0M593.5 222.0h0M672.5 155.2h0M466.6 579.1h0M660.0 432.4h0M713.8 235.1h0M193.4 533.1h0M324.1 849.2h0M662.6 689.7h0M467.6 867.9h0M366.5 742.7h0M692.8 441.4h0M900.2 558.2h0M921.5 724.5h0M672.3 120.5h0M870.1 366.6h0M991.1 644.7h0M359.1 831.2h0M419.8 444.5h0M700.2 174.1h0M324.5 820.6h0M425.8 437.9h0M327.5 745.0h0M167.2 542.1h0M413.8 849.5h0M837.6 284.9h0M413.2 842.4h0M346.1 851.3h0M271.5 530.4h0M222.1 561.9h0M1021.3 765.5h0M451.5 593.1h0M479.2 853.6h0M428.5 564.0h0M968.6 681.9h0M549.5 316.5h0M1023.1 667.4h0M704.3 192.2h0M951.5 705.8h0M419.9 823.0h0M604.0 776.0h0M393.1 426.8h0M744.1 180.7h0M1034.0 659.1h0M530.3 1011.8h0M563.6 235.7h0M467.4 469.8h0M801.9 223.2h0M612.0 657.9h0M754.9 575.2h0M425.7 827.9h0M792.2 213.5h0M605.7 446.7h0M514.2 572.9h0M620.1 690.7h0M576.9 538.4h0M319.5 857.8h0M1007.3 735.9h0M535.5 994.8h0M794.5 257.7h0M927.2 372.4h0M516.0 562.5h0M332.0 739.1h0M321.4 810.4h0M786.2 253.2h0M475.3 431.8h0M957.7 733.5h0M396.0 414.7h0M656.1 455.0h0M701.2 118.4h0M476.4 590.4h0M348.7 732.7h0M800.9 792.4h0M1061.6 666.3h0M1005.2 628.2h0M457.9 575.1h0M208.1 540.8h0M183.0 531.6h0M227.2 511.8h0M768.4 242.7h0M727.9 141.9h0M567.1 480.8h0M695.6 143.3h0M605.3 778.2h0M540.0 239.2h0M416.4 855.4h0M485.2 499.6h0M445.1 834.0h0M222.2 545.5h0M441.6 451.3h0M452.0 596.9h0M380.5 764.5h0M695.4 460.7h0M188.8 535.9h0M334.0 738.3h0M796.1 295.6h0M749.9 603.1h0M948.7 779.7h0M487.0 868.6h0M362.5 861.9h0M526.8 1008.4h0M693.0 125.4h0M947.7 743.7h0M763.0 221.5h0M647.9 657.4h0M326.7 741.9h0M617.0 864.0h0M403.5 793.5h0M356.9 796.3h0M339.4 828.1h0M959.6 697.5h0M333.4 817.0h0M463.1 582.0h0M950.0 701.0h0M829.4 275.1h0M571.4 530.3h0M541.1 470.0h0M384.5 419.5h0M989.3 687.7h0M666.9 168.1h0M337.8 841.4h0M341.6 817.3h0M374.9 779.3h0M395.3 422.2h0M975.9 770.2h0M498.8 553.4h0M948.2 755.0h0M942.8 669.2h0M381.1 862.9h0M359.1 862.6h0M339.3 834.3h0M730.0 202.5h0M339.8 790.2h0M896.2 702.0h0M888.7 369.8h0M496.4 539.0h0M531.7 509.8h0M433.1 556.3h0M487.5 861.0h0M561.0 502.4h0M1010.0 684.2h0M389.2 831.9h0M605.7 671.7h0M504.0 502.6h0M580.2 440.4h0M899.0 697.8h0M213.2 523.6h0M680.9 121.2h0M331.8 721.0h0M431.7 577.6h0M697.6 125.3h0M1020.6 692.4h0M1018.3 754.1h0M764.3 224.3h0M1010.1 642.3h0M985.3 635.1h0M398.7 834.1h0M487.3 357.9h0M447.7 835.6h0M736.8 842.4h0M674.3 133.2h0M995.6 703.6h0M395.0 853.4h0M993.1 719.7h0M500.6 577.4h0M346.7 748.6h0M351.5 726.3h0M549.6 242.3h0M306.2 811.9h0M389.4 845.5h0M947.6 718.6h0M460.2 857.3h0M392.4 402.0h0M999.4 700.6h0M488.2 878.0h0M677.8 729.4h0M690.7 930.6h0M712.0 156.8h0M997.5 750.5h0M293.7 836.0h0M404.5 427.5h0M948.7 379.0h0M709.2 270.9h0M971.1 703.2h0M317.9 793.7h0M611.4 849.4h0M333.0 797.8h0M556.0 310.7h0M1039.6 726.5h0M412.2 441.0h0M715.7 160.7h0M389.3 805.6h0M409.4 830.8h0M372.5 822.6h0M331.4 755.7h0M733.7 237.5h0M1008.8 664.7h0M690.8 139.4h0M610.4 653.3h0M717.3 148.3h0M376.0 796.8h0M452.2 447.7h0M768.8 230.6h0M350.0 749.8h0M517.6 559.5h0M730.0 196.5h0M558.5 501.7h0M530.4 520.1h0M626.5 707.2h0M475.3 563.0h0M913.8 370.8h0M773.3 225.3h0M968.3 738.2h0M793.9 318.3h0M1007.2 666.6h0M449.0 853.9h0M303.8 810.8h0M530.0 248.3h0M339.1 731.6h0M454.7 596.7h0M397.2 801.9h0M472.3 583.5h0M791.4 240.1h0M421.2 546.3h0M396.9 791.8h0M311.1 790.7h0M780.3 571.9h0M959.6 711.5h0M396.4 388.1h0M815.2 223.7h0M976.7 755.7h0M324.6 821.9h0M200.2 502.1h0M797.8 218.9h0M678.2 144.2h0M678.2 181.3h0M653.8 238.7h0M465.8 854.1h0M474.9 531.7h0M690.4 430.5h0M1045.0 654.9h0M197.1 556.8h0M375.8 807.8h0M341.2 784.6h0M564.5 523.4h0M299.7 801.3h0M391.2 783.3h0M1001.7 765.2h0M220.8 504.7h0M483.5 539.6h0M931.6 729.8h0M309.3 812.9h0M299.2 836.0h0M191.7 528.7h0M362.8 799.3h0M404.5 388.7h0M679.2 735.1h0M442.0 594.7h0M556.8 478.9h0M452.3 566.5h0M1012.6 646.2h0M492.6 542.8h0M325.1 781.3h0M832.7 297.4h0M970.5 660.3h0M516.7 429.0h0M725.2 180.4h0M751.1 217.7h0M1042.4 653.2h0M491.0 535.3h0M422.3 823.0h0M365.9 781.7h0M931.4 767.8h0M957.2 657.4h0M915.0 712.3h0M989.0 716.1h0M516.1 547.5h0M175.0 540.2h0M1059.1 682.9h0M1064.6 695.1h0M418.9 435.1h0M347.0 750.6h0M1009.0 731.7h0M744.6 160.6h0M1041.7 641.5h0M186.3 566.5h0M629.4 669.7h0M961.4 706.5h0M341.8 843.7h0M432.7 858.6h0M501.5 467.5h0M621.5 877.6h0M645.3 462.3h0M400.0 409.9h0M413.1 437.8h0M504.2 575.8h0M731.7 276.5h0M623.4 699.8h0M215.7 564.9h0M568.3 221.3h0M393.3 856.4h0M700.7 845.5h0M368.4 866.0h0M767.7 239.2h0M361.9 766.3h0M327.7 856.1h0M593.4 666.4h0M952.4 666.4h0M632.7 411.4h0M611.4 232.9h0M158.2 521.3h0M449.6 410.7h0M726.8 187.7h0M720.8 210.4h0M512.5 560.7h0M448.5 554.1h0M719.0 859.2h0M464.3 856.4h0M1060.6 694.6h0M525.3 521.0h0M499.2 585.2h0M827.2 295.0h0M821.8 283.5h0M923.4 767.2h0M602.4 240.5h0M394.6 385.1h0M371.9 820.3h0M345.0 764.2h0M398.3 397.2h0M578.2 433.1h0M616.5 675.3h0M1010.6 655.2h0M691.9 159.4h0M347.5 821.4h0M338.9 740.1h0M187.8 554.1h0M551.3 513.3h0M462.1 565.7h0M303.1 819.1h0M468.8 424.1h0M967.2 734.3h0M671.2 225.0h0M406.0 422.6h0M925.6 752.0h0M402.7 420.0h0M490.1 567.4h0M405.8 415.2h0M676.2 734.7h0M455.9 863.6h0M332.4 851.6h0M979.3 687.3h0M178.7 571.7h0M472.4 594.6h0M448.3 542.4h0M596.4 464.3h0M336.2 797.9h0M730.3 186.3h0M493.1 577.0h0M1047.7 713.5h0M660.4 453.5h0M447.2 565.7h0M721.0 820.7h0M399.8 799.4h0M1016.1 644.9h0M942.2 664.7h0M932.9 757.0h0M365.9 857.9h0M394.8 425.4h0M404.9 411.9h0M806.3 296.7h0M513.7 426.3h0M308.4 794.0h0M499.2 887.3h0M329.3 815.5h0M795.0 304.6h0M710.5 117.0h0M366.8 835.5h0M998.1 625.5h0M421.8 427.2h0M384.1 870.1h0M411.6 398.3h0M356.3 737.5h0M375.7 771.5h0M826.8 286.3h0M412.8 834.0h0M969.9 679.9h0M627.2 678.1h0M526.4 486.7h0M981.9 673.9h0M315.3 848.8h0M733.0 175.0h0M328.6 846.6h0M999.1 754.8h0M319.6 789.5h0M333.6 790.0h0M489.1 578.2h0M345.2 773.4h0M705.4 845.4h0M389.4 848.5h0M467.8 570.5h0M401.6 840.7h0M724.2 139.4h0M536.3 500.9h0M942.0 711.0h0M406.2 400.4h0M605.6 653.9h0M782.2 569.5h0M747.4 542.0h0M354.0 853.0h0M430.7 570.9h0M305.1 840.8h0M232.9 545.5h0M450.5 561.5h0M792.4 249.3h0M349.6 840.4h0M999.2 721.7h0M624.7 877.8h0M565.9 476.2h0M956.2 667.7h0M422.9 405.5h0M391.6 415.8h0M831.3 290.7h0M431.1 547.4h0M486.6 504.0h0M941.4 685.5h0M610.9 414.4h0M635.4 418.1h0M571.3 533.2h0M486.9 526.2h0M1008.1 744.6h0M609.6 664.5h0M997.6 740.1h0M162.0 556.9h0M442.4 555.4h0M678.8 723.4h0M316.2 766.6h0M488.7 530.5h0M460.3 580.3h0M675.7 710.8h0M450.4 853.0h0M647.5 447.2h0M704.2 467.7h0M439.7 521.9h0M386.5 819.3h0M592.8 426.0h0M426.2 444.1h0M1049.5 665.6h0M738.7 153.5h0M544.8 243.2h0M353.7 762.5h0M1031.1 636.0h0M453.2 536.2h0M431.9 532.2h0M969.3 676.4h0M792.7 269.5h0M331.8 764.6h0M717.6 215.2h0M472.1 555.7h0M291.2 838.7h0M356.0 765.7h0M374.1 812.3h0M313.7 763.9h0M321.6 794.5h0M416.5 411.6h0M1047.2 725.0h0M352.3 844.1h0M376.9 841.3h0M213.5 558.0h0M505.1 504.6h0M456.0 518.1h0M611.1 660.7h0M173.7 536.0h0M955.0 371.1h0M252.6 491.2h0M805.4 287.6h0M448.8 569.5h0M599.0 660.0h0M526.6 986.8h0M475.7 572.9h0M1014.1 641.5h0M211.8 546.2h0M918.2 756.5h0M1008.0 644.9h0M503.7 570.8h0M507.9 546.3h0M403.7 843.1h0M947.3 663.9h0M615.6 462.9h0M323.8 807.1h0M1014.5 670.4h0M894.7 567.4h0M567.7 222.6h0M495.1 867.1h0M562.6 497.5h0M335.5 767.5h0M604.3 438.3h0M907.5 551.3h0M380.3 869.0h0M486.3 589.2h0M348.1 734.0h0M179.8 562.4h0M460.1 844.5h0M302.1 843.6h0M606.0 409.0h0M945.4 782.5h0M935.5 361.1h0M527.9 989.5h0M969.1 686.1h0M497.8 516.1h0M477.3 578.5h0M445.3 545.9h0M409.9 840.6h0M489.0 553.1h0M926.6 773.8h0M345.5 838.8h0M382.4 806.3h0M627.3 671.4h0M232.8 530.3h0M580.7 751.9h0M717.5 128.3h0M448.0 860.8h0M958.8 728.9h0M556.9 519.7h0M188.2 556.4h0M1052.3 712.1h0M1014.1 766.0h0M429.2 553.3h0M170.3 518.9h0M681.1 240.9h0M398.6 422.7h0M501.8 871.5h0M438.4 592.3h0M361.6 772.0h0M330.1 787.3h0M658.6 245.5h0M413.2 405.8h0M535.6 445.5h0M415.2 407.8h0M303.8 812.8h0M607.0 696.9h0M653.6 241.3h0M352.4 777.1h0M412.9 845.5h0M168.1 549.1h0M407.0 425.5h0M367.3 812.8h0M719.1 194.0h0M468.7 582.9h0M368.6 868.1h0M801.6 299.5h0M505.5 398.6h0M704.2 833.8h0M404.4 398.7h0M608.7 464.4h0M362.9 858.5h0M464.1 845.0h0M930.2 748.0h0M517.2 466.3h0M451.6 572.5h0M299.0 825.6h0M956.3 716.9h0M373.0 798.4h0M178.1 509.7h0M764.1 212.3h0M550.0 439.0h0M547.6 253.4h0M160.7 523.5h0M925.2 370.2h0M880.9 377.3h0M312.6 800.1h0M971.5 700.4h0M761.1 237.8h0M985.7 769.6h0M667.1 427.5h0M501.3 453.3h0M502.3 536.0h0M495.9 589.0h0M168.6 522.2h0M407.4 424.9h0M212.8 528.4h0M545.7 468.4h0M651.9 693.8h0M753.5 201.7h0M374.5 750.9h0M328.9 782.9h0M921.3 750.4h0M633.7 414.9h0M494.6 508.5h0M933.7 700.1h0M333.4 841.5h0M508.8 555.7h0M993.6 757.1h0M408.1 804.9h0M543.8 488.8h0M632.2 662.9h0M802.2 248.4h0M913.4 753.7h0M625.5 685.4h0M294.2 827.9h0M958.1 736.6h0M499.1 570.6h0M729.6 847.3h0M686.9 235.4h0M797.0 243.3h0M389.0 795.1h0M312.4 814.2h0M695.3 117.6h0M353.3 821.7h0M689.8 173.2h0M1014.7 673.3h0M349.2 793.2h0M669.2 711.4h0M957.8 744.9h0M238.6 533.2h0M389.7 868.3h0M425.2 433.3h0M498.8 530.7h0M924.6 716.7h0M299.4 848.8h0M373.4 850.7h0M224.5 539.1h0M218.3 504.6h0M493.9 875.0h0M1029.9 738.1h0M953.6 743.8h0M447.0 838.9h0M748.6 795.6h0M366.3 734.6h0M577.3 231.0h0M957.1 673.2h0M317.3 806.3h0M456.0 853.8h0M1014.1 705.0h0M417.9 439.9h0M385.7 397.2h0M488.7 445.6h0M726.4 168.9h0M337.0 727.1h0M336.1 758.0h0M635.9 700.3h0M603.7 402.4h0M719.9 844.7h0M727.6 594.0h0M714.7 230.4h0M936.8 369.6h0M302.2 837.8h0M754.6 202.2h0M297.4 812.1h0M626.7 402.4h0M1024.3 628.4h0M1005.5 712.4h0M399.9 408.5h0M606.5 704.7h0M983.6 650.5h0M380.6 784.7h0M725.4 453.3h0M481.3 543.8h0M1025.4 636.4h0M510.3 516.9h0M1047.0 678.6h0M671.8 726.5h0M433.7 548.7h0M726.3 137.1h0M412.7 829.6h0M421.8 397.9h0M509.6 536.2h0M328.7 845.3h0M460.7 457.6h0M1025.3 638.4h0M490.7 496.5h0M299.0 831.7h0M151.4 552.5h0M631.1 691.0h0M741.5 157.4h0M499.8 463.0h0M491.4 505.6h0M482.6 457.3h0M365.2 799.0h0M357.3 767.3h0M509.8 441.1h0M310.2 785.9h0M346.1 786.2h0M233.7 569.3h0M609.0 452.9h0M378.4 802.8h0M1043.6 720.3h0M321.6 784.3h0M633.4 706.3h0M700.8 267.5h0M697.0 469.8h0M912.7 748.8h0M379.7 767.3h0M359.6 838.9h0M558.9 776.7h0M410.5 440.5h0M982.0 682.9h0M400.5 437.1h0M582.3 473.6h0M1009.6 659.6h0M527.1 429.1h0M298.2 828.7h0M831.5 296.3h0M356.7 744.5h0M404.1 828.1h0M580.8 440.9h0M604.1 464.6h0M601.7 667.4h0M394.7 428.4h0M401.7 416.4h0M448.7 857.3h0M441.8 562.4h0M389.6 862.8h0M445.2 538.9h0M219.5 564.4h0M616.4 455.2h0M930.3 398.0h0M455.6 530.3h0M425.6 831.9h0M370.7 738.4h0M973.6 684.6h0M734.3 837.3h0M406.3 844.6h0M334.4 736.0h0M528.5 1001.6h0M429.6 838.0h0M413.4 423.5h0M321.2 757.7h0M344.6 724.5h0M949.9 365.0h0M362.9 762.3h0M204.5 506.2h0M802.6 277.9h0M488.9 360.1h0M790.6 219.9h0M463.0 847.0h0M389.5 814.0h0M667.6 241.7h0M751.0 199.2h0M321.2 845.2h0M205.3 570.8h0M543.0 320.6h0M395.5 857.7h0M434.3 843.6h0M326.7 796.8h0M498.0 480.4h0M330.7 855.4h0M388.4 860.5h0M496.4 380.5h0M668.4 245.5h0M674.5 723.0h0M534.0 510.8h0M256.4 489.2h0M679.4 164.6h0M904.1 736.9h0M413.5 831.2h0M358.9 717.5h0M1011.6 682.5h0M212.2 539.1h0M419.6 846.9h0M1053.5 667.7h0M547.0 234.3h0M961.0 644.6h0M408.0 849.7h0M406.2 824.6h0M364.0 832.1h0M447.9 560.5h0M954.3 687.4h0M173.9 555.1h0M350.6 865.1h0M523.9 434.7h0M555.1 516.6h0M368.5 765.2h0M382.7 415.9h0M766.4 250.9h0M673.6 706.5h0M1030.5 698.4h0M752.2 246.3h0M384.4 787.6h0M510.4 545.7h0M382.0 835.0h0M956.8 714.4h0M352.4 832.4h0M788.9 274.5h0M805.5 305.8h0M525.0 989.6h0M540.9 226.7h0M405.6 435.6h0M328.0 780.2h0M364.8 829.0h0M504.1 557.4h0M496.3 519.5h0M533.8 493.9h0M624.9 242.9h0M214.7 536.9h0M984.2 731.4h0M385.9 797.1h0M932.2 718.2h0M397.4 832.7h0M198.1 545.6h0M507.0 921.0h0M409.8 417.6h0M183.5 539.8h0M498.3 448.7h0M641.3 432.5h0M526.7 994.9h0M390.1 842.2h0M526.5 507.0h0M620.6 460.0h0M691.4 114.1h0M671.0 163.0h0M386.2 801.9h0M669.7 438.1h0M517.3 493.2h0M702.8 136.1h0M985.2 641.0h0M193.9 511.8h0M958.2 770.7h0M607.6 706.4h0M437.2 398.1h0M465.3 545.1h0M720.6 834.5h0M1021.6 688.0h0M240.4 548.9h0M1029.2 741.1h0M171.4 554.9h0M672.6 702.2h0M992.8 723.6h0M543.0 236.1h0M422.1 818.5h0M510.6 879.6h0M582.1 230.3h0M671.0 236.7h0M1011.4 689.5h0M515.5 1015.1h0M198.4 565.6h0M181.2 566.9h0M507.5 538.4h0M497.8 450.1h0M662.6 444.2h0M157.0 542.4h0M720.4 207.8h0M428.9 556.6h0M601.6 685.8h0M566.5 488.3h0M1028.9 724.2h0M511.1 540.2h0M595.3 438.6h0M834.2 280.7h0M664.6 239.7h0M346.8 783.0h0M1054.3 670.0h0M361.6 792.7h0M573.3 464.1h0M448.6 596.2h0M917.2 778.2h0M1014.6 688.9h0M796.3 292.1h0M323.3 739.2h0M548.4 499.5h0M394.3 816.7h0M610.9 701.6h0M594.8 453.4h0M542.3 220.6h0M990.8 719.1h0M492.0 351.7h0M768.1 234.3h0M482.5 502.5h0M545.0 504.0h0M472.4 448.8h0M340.8 766.3h0M535.6 506.8h0M440.8 571.7h0M625.4 660.3h0M936.8 766.2h0M1014.6 649.8h0M576.3 434.1h0M512.1 427.1h0M705.1 142.5h0M316.5 832.0h0M1001.5 672.5h0M537.7 220.6h0M488.7 867.5h0M395.2 812.7h0M295.8 817.3h0M192.8 560.8h0M388.4 390.1h0M745.6 556.2h0M398.2 419.0h0M506.9 564.3h0M564.5 525.9h0M465.2 872.0h0M435.6 557.7h0M524.9 427.4h0M987.0 681.2h0M317.7 791.6h0M556.1 223.5h0M621.7 404.7h0M510.9 471.2h0M784.5 569.9h0M358.8 810.9h0M739.7 211.5h0M418.5 427.0h0M586.9 427.0h0M1057.4 700.3h0M489.0 881.1h0M380.6 851.6h0M517.1 503.8h0M455.6 586.8h0M549.5 500.1h0M249.2 545.4h0M1026.0 719.6h0M453.2 544.9h0M433.1 839.0h0M419.2 428.6h0M398.3 825.6h0M345.0 747.4h0M474.8 569.7h0M170.5 549.5h0M640.1 450.3h0M472.2 457.7h0M330.7 729.3h0M358.8 762.8h0M338.1 857.0h0M222.6 565.7h0M382.9 824.4h0M717.2 164.7h0M897.5 438.1h0M962.1 652.4h0M738.2 221.6h0M321.6 841.6h0M371.8 812.4h0M320.1 807.5h0M927.8 765.4h0M398.5 396.6h0M581.3 247.9h0M658.4 439.4h0M486.8 558.0h0M1009.7 748.5h0M633.0 902.5h0M373.9 793.2h0M717.9 135.6h0M363.1 855.0h0M707.6 129.0h0M373.2 805.2h0M878.8 369.1h0M311.0 777.0h0M191.2 504.7h0M383.9 411.7h0M801.5 316.9h0M712.4 463.2h0M319.0 848.8h0M569.9 467.9h0M618.6 682.5h0M717.1 205.9h0M522.4 548.3h0M938.9 773.9h0M430.5 403.9h0M400.1 818.0h0M790.1 236.1h0M484.3 534.8h0M542.3 498.2h0M682.7 181.0h0M442.2 589.7h0M187.8 543.2h0M318.1 761.3h0M954.9 655.4h0M316.3 773.8h0M433.7 573.2h0M669.4 445.7h0M654.5 458.5h0M348.0 800.7h0M529.6 990.7h0M353.5 814.2h0M639.6 916.8h0M972.8 734.1h0M318.0 818.0h0M416.8 841.9h0M442.2 567.5h0M462.2 541.1h0M371.7 792.7h0M453.1 555.8h0M314.8 778.1h0M457.7 419.1h0M522.8 1003.0h0M716.7 134.4h0M692.6 138.0h0M677.9 725.1h0M411.1 436.1h0M402.7 407.6h0M964.2 645.2h0M335.1 826.9h0M384.6 830.7h0M532.1 479.0h0M1044.4 704.2h0M1001.6 761.2h0M551.8 765.4h0M346.6 741.6h0M713.4 203.4h0M310.9 804.2h0M490.6 364.0h0M343.5 766.0h0M610.7 688.0h0M1049.1 642.2h0M331.9 803.9h0M576.0 452.8h0M472.3 436.3h0M518.2 551.9h0M493.8 580.7h0M947.8 763.6h0M950.2 724.6h0M1048.9 701.4h0M641.3 691.3h0M926.2 717.4h0M311.2 833.8h0M348.2 722.7h0M528.6 996.5h0M982.5 674.7h0M666.4 235.6h0M767.2 260.2h0M916.7 372.7h0M231.4 566.1h0M717.7 590.5h0M731.9 157.3h0M706.6 194.8h0M398.9 393.1h0M371.9 728.9h0M593.6 408.0h0M700.5 231.3h0M499.0 556.5h0M786.5 311.6h0M500.0 545.5h0M401.2 423.8h0M392.9 805.8h0M402.8 815.2h0M535.7 450.9h0M709.7 126.3h0M739.5 229.5h0M528.8 487.6h0M436.9 576.8h0M671.9 207.9h0M1052.5 644.5h0M350.1 723.8h0M353.7 841.0h0M334.1 863.1h0M1005.3 761.3h0M223.7 572.3h0M1064.6 672.7h0M641.5 689.2h0M740.3 539.6h0M510.8 410.9h0M311.5 779.5h0M335.5 742.1h0M939.9 739.4h0M1034.4 720.3h0M1062.5 654.8h0M519.5 557.2h0M901.2 595.3h0M611.1 690.8h0M943.3 732.2h0M334.4 801.2h0M959.8 765.3h0M778.4 286.1h0M1047.7 687.9h0M402.3 835.2h0M333.6 818.8h0M400.9 832.1h0M778.8 302.6h0M957.9 774.5h0M439.8 537.4h0M463.8 422.6h0M508.8 525.2h0M739.6 592.7h0M671.1 137.2h0M179.4 528.8h0M332.2 781.8h0M682.9 143.6h0M776.3 244.8h0M446.5 856.5h0M531.6 519.2h0M507.2 872.8h0M381.8 408.4h0M670.0 139.6h0M650.4 679.6h0M399.8 806.9h0M432.3 401.6h0M533.0 1006.0h0M390.3 406.0h0M477.8 529.6h0M319.7 810.6h0M360.3 749.8h0M607.6 468.4h0M478.0 562.6h0M549.5 767.3h0M366.5 750.5h0M402.7 414.9h0M378.6 869.1h0M1000.0 719.7h0M474.2 565.7h0M1005.6 677.4h0M672.6 728.9h0M945.7 702.8h0M522.9 988.1h0M977.0 672.8h0M509.2 509.5h0M501.2 875.2h0M604.0 229.6h0M505.3 452.4h0M522.0 475.2h0M478.6 556.6h0M690.6 130.6h0M681.8 150.5h0M1046.6 672.2h0M727.4 213.5h0M618.0 692.8h0M429.1 440.3h0M933.3 375.9h0M390.1 407.8h0M722.9 187.6h0M610.6 407.3h0M909.4 721.5h0M384.1 844.6h0M373.8 810.2h0M161.0 519.8h0M553.1 229.9h0M499.7 487.8h0M587.1 446.3h0M731.5 136.0h0M696.2 249.6h0M989.8 749.5h0M474.3 848.8h0M641.9 424.2h0M479.6 504.2h0M455.8 537.0h0M436.9 395.6h0M736.9 150.0h0M340.8 837.9h0M465.1 577.6h0M726.2 557.8h0M718.8 823.4h0M683.1 252.9h0M638.2 245.7h0M566.1 460.1h0M399.6 427.3h0M339.3 809.7h0M478.4 534.7h0M433.3 525.7h0M181.2 536.6h0M468.4 867.5h0M442.5 558.1h0M967.8 698.8h0M438.0 583.6h0M517.9 1009.6h0M939.5 364.0h0M341.1 774.5h0M383.3 804.2h0M410.3 813.2h0M312.7 848.7h0M377.3 783.9h0M1048.9 719.6h0M559.4 517.4h0M913.0 576.4h0M475.1 545.4h0M345.8 820.8h0M184.8 526.8h0M175.5 569.4h0M643.2 681.9h0M682.5 166.7h0M1014.4 731.1h0M490.1 488.0h0M925.3 720.7h0M351.4 747.9h0M490.8 533.5h0M1011.4 725.9h0M693.3 467.5h0M328.2 834.4h0M614.5 416.2h0M558.8 486.7h0M990.2 669.7h0M309.4 789.0h0M298.7 808.3h0M502.7 561.8h0M364.8 759.3h0M345.2 842.1h0M924.1 377.3h0M719.7 158.3h0M501.5 553.7h0M565.7 242.9h0M614.9 443.6h0M537.5 317.7h0M905.6 704.8h0M731.7 134.1h0M742.2 211.8h0M230.5 569.4h0M358.1 853.3h0M384.4 839.0h0M430.7 538.3h0M801.8 281.4h0M495.7 496.1h0M725.0 563.1h0M411.7 823.9h0M552.1 485.8h0M304.4 816.5h0M1055.4 708.9h0M998.8 699.1h0M231.2 549.1h0M367.1 825.4h0M1057.3 663.7h0M604.5 688.4h0M349.1 825.7h0M529.3 483.9h0M609.4 408.4h0M1036.2 708.6h0M1012.2 711.4h0M1041.7 669.8h0M1011.1 703.2h0M364.8 785.2h0M518.5 475.0h0M978.5 713.0h0M373.1 745.0h0M420.4 550.4h0M178.6 534.7h0M1048.4 693.6h0M463.6 448.6h0M1024.3 760.5h0M444.9 579.4h0M437.9 838.5h0M397.0 428.6h0M647.5 694.5h0M573.7 233.2h0M455.2 842.1h0M228.8 523.7h0M506.9 568.0h0M182.3 553.4h0M935.6 392.2h0M797.0 213.3h0M358.7 779.3h0M932.4 358.0h0M1009.1 756.2h0M461.8 523.6h0M368.4 827.7h0M523.0 513.9h0M367.7 807.8h0M422.3 432.6h0M208.9 556.1h0M343.4 757.1h0M440.6 841.0h0M539.6 248.7h0M418.6 442.5h0M425.8 401.6h0M975.9 707.3h0M624.1 245.1h0M507.1 919.1h0M502.5 877.2h0M1026.7 635.3h0M182.2 548.9h0M478.4 462.1h0M509.2 504.1h0M928.5 377.8h0M910.5 370.2h0M423.1 436.2h0M194.7 568.8h0M438.1 843.4h0M972.3 712.2h0M323.5 792.4h0M943.2 687.8h0M546.8 239.5h0M486.9 874.1h0M323.1 745.0h0M770.0 247.9h0M992.4 691.8h0M398.1 853.9h0M328.3 785.9h0M240.3 541.4h0M394.1 833.8h0M387.1 810.0h0M987.8 711.4h0M366.2 841.3h0M951.4 705.1h0M368.9 834.1h0M397.3 863.3h0M443.2 395.6h0M455.9 546.2h0M687.7 163.5h0M968.5 662.6h0M607.2 666.8h0M985.3 760.0h0M777.0 264.7h0M597.7 451.1h0M592.7 423.1h0M433.1 830.8h0M647.4 692.5h0M967.3 695.2h0M239.0 524.6h0M856.5 363.7h0M393.2 821.8h0M623.3 237.5h0M1032.5 655.2h0M348.9 820.5h0M336.5 802.5h0M384.7 796.2h0M395.6 416.0h0M969.0 778.2h0M948.6 722.6h0M986.3 726.1h0M1008.6 647.4h0M594.8 673.2h0M324.9 763.5h0M484.8 352.5h0M908.8 549.0h0M559.4 477.2h0M457.9 463.8h0M612.8 679.3h0M492.0 360.6h0M604.4 435.7h0M226.1 555.0h0M182.9 558.9h0M1016.1 626.4h0M435.9 851.8h0M969.0 709.0h0M326.4 851.2h0M597.6 426.8h0M586.6 431.6h0M807.2 220.5h0M213.2 519.7h0M436.9 539.2h0M334.6 837.3h0M418.5 408.5h0M691.8 220.0h0M936.9 706.4h0M794.4 238.8h0M505.3 877.7h0M154.2 557.5h0M464.3 427.4h0M979.5 770.2h0M335.2 735.6h0M352.7 794.4h0M391.5 419.6h0M436.7 842.1h0M708.6 233.0h0M444.7 854.3h0M514.2 554.4h0M525.0 1010.4h0M984.1 745.3h0M458.0 447.6h0M435.1 559.3h0M1059.1 679.9h0M213.3 565.1h0M375.1 759.1h0M330.7 793.6h0M980.5 704.1h0M488.7 458.9h0M718.6 202.8h0M986.6 657.5h0M445.7 588.5h0M1018.5 643.6h0M913.7 703.7h0M379.4 855.0h0M337.5 738.0h0M442.2 533.1h0M450.2 588.8h0M613.4 450.5h0M509.5 455.2h0M334.2 811.4h0M963.7 769.6h0M427.8 542.9h0M459.2 861.1h0M159.0 545.8h0M446.0 574.4h0M490.8 349.1h0M301.4 810.8h0M303.5 803.2h0M437.5 450.0h0M578.7 768.2h0M719.7 936.6h0M526.0 487.7h0M778.4 235.5h0M375.2 822.1h0M759.0 210.1h0M862.8 360.5h0M479.3 866.5h0M476.4 864.1h0M170.8 560.9h0M400.5 400.9h0M202.6 556.4h0M1051.2 689.1h0M629.4 440.7h0M364.1 767.1h0M672.5 715.7h0M529.7 1002.8h0M459.2 560.4h0M724.4 594.6h0M660.3 709.7h0M423.5 569.2h0M719.6 445.8h0M401.8 403.9h0M1010.3 753.9h0M937.8 686.6h0M529.8 430.6h0M371.8 781.3h0M423.2 543.2h0M252.2 539.1h0M591.5 246.5h0M346.5 798.5h0M517.6 562.7h0M361.4 725.6h0M748.0 193.7h0M627.4 465.2h0M368.9 796.5h0M505.0 582.5h0M993.1 666.1h0M840.0 283.0h0M560.5 493.2h0M990.8 762.9h0M606.7 659.2h0M1023.7 710.2h0M643.1 433.5h0M294.8 826.6h0M410.4 396.0h0M762.2 240.5h0M484.2 348.9h0M548.0 215.1h0M967.7 760.1h0M429.9 540.6h0M383.6 729.5h0M667.0 140.8h0M492.0 345.7h0M407.5 433.8h0M344.7 777.1h0M807.8 303.2h0M408.4 854.6h0M402.7 855.8h0M359.0 789.3h0M566.2 769.4h0M472.9 536.8h0M1033.6 645.8h0M670.6 116.9h0M524.8 1006.8h0M321.5 853.0h0M674.3 238.1h0M715.9 129.5h0M717.5 180.0h0M776.9 213.8h0M192.1 549.6h0M751.5 599.2h0M588.0 233.3h0M708.3 175.0h0M724.3 122.4h0M330.9 844.1h0M799.3 289.2h0M457.7 838.5h0M543.8 471.5h0M451.3 547.9h0M370.1 754.1h0M452.4 537.5h0M972.4 667.6h0M549.3 485.5h0M479.0 869.0h0M333.3 760.3h0M820.3 222.2h0M481.6 576.9h0M970.0 747.3h0M905.9 737.2h0M499.3 873.6h0M678.0 189.2h0M931.2 394.4h0M753.2 196.5h0M688.4 170.6h0M504.7 458.3h0M359.9 851.6h0M356.1 726.5h0M499.1 582.3h0M324.7 791.7h0M248.1 532.3h0M180.6 519.7h0M339.7 724.1h0M920.5 731.0h0M671.0 229.7h0M911.8 366.8h0M525.9 999.2h0M711.5 131.5h0M465.3 563.2h0M792.9 236.1h0M783.8 296.7h0M609.5 425.9h0M483.8 878.4h0M395.2 384.4h0M672.3 210.7h0M512.4 410.2h0M404.5 826.7h0M759.2 274.2h0M422.2 838.3h0M977.2 715.3h0M343.7 741.1h0M380.5 839.5h0M494.3 458.5h0M717.3 217.6h0M462.2 584.8h0M409.1 838.7h0M360.9 796.2h0M1039.6 662.5h0M683.2 926.6h0M780.7 258.0h0M306.5 817.3h0M490.6 525.8h0M452.5 859.6h0M986.1 713.1h0M925.8 654.2h0M442.8 576.8h0M369.8 760.3h0M439.3 831.1h0M491.8 545.1h0M402.7 832.9h0M391.0 798.6h0M598.0 662.8h0M720.6 450.3h0M800.2 231.4h0M350.9 860.9h0M428.2 402.8h0M617.9 466.3h0M370.0 729.8h0M370.0 763.3h0M404.6 850.2h0M173.6 520.7h0M474.6 526.3h0M631.8 660.5h0M369.5 772.5h0M986.0 688.6h0M933.0 724.1h0M874.1 375.5h0M572.5 471.4h0M440.6 544.4h0M184.8 542.0h0M899.1 591.1h0M787.7 235.6h0M449.2 584.6h0M616.1 702.7h0M418.3 816.2h0M447.6 415.5h0M663.9 436.3h0M462.2 596.2h0M348.1 830.8h0M586.4 546.3h0M977.6 636.6h0M664.8 163.6h0M480.8 559.5h0M702.1 188.4h0M341.1 728.8h0M516.9 511.3h0M1020.7 704.3h0M350.2 813.9h0M965.6 707.1h0M223.9 574.9h0M319.3 774.4h0M603.3 680.5h0M381.6 745.6h0M976.3 696.4h0M378.2 851.8h0M378.5 836.8h0M184.6 523.0h0M675.9 248.2h0M442.4 544.8h0M382.5 784.2h0M672.5 435.8h0M427.9 545.5h0M783.8 229.2h0M372.0 858.2h0M735.6 220.3h0M502.7 529.7h0M326.9 804.7h0M373.5 815.5h0M511.6 558.2h0M917.5 738.6h0M438.1 408.8h0M402.2 863.3h0M328.7 740.2h0M372.6 784.4h0M664.5 449.0h0M409.4 432.8h0M303.2 833.0h0M958.6 650.3h0M746.3 551.0h0M939.2 751.5h0M994.7 716.9h0M698.4 139.5h0M898.2 715.9h0M266.5 537.6h0M870.2 369.7h0M358.3 734.6h0M366.2 728.5h0M992.6 662.1h0M393.0 408.0h0M347.1 865.6h0M490.7 546.4h0M721.3 193.8h0M884.8 374.5h0M618.3 460.1h0M700.8 140.3h0M334.4 857.6h0M1021.0 650.9h0M619.1 706.6h0M676.3 130.8h0M432.9 546.0h0M463.8 860.5h0M580.1 224.7h0M981.6 708.2h0M717.7 470.0h0M901.3 373.1h0M395.9 408.8h0M446.8 455.3h0M745.6 274.6h0M402.7 807.5h0M218.9 566.1h0M334.5 850.9h0M369.5 783.8h0M353.5 800.9h0M395.4 419.6h0M699.7 172.2h0M502.5 503.8h0M347.0 828.7h0M330.4 854.8h0M939.7 712.5h0M376.7 740.3h0M449.6 574.0h0M473.0 578.2h0M321.0 834.6h0M406.4 395.7h0M1022.1 675.5h0M374.6 844.9h0M928.3 671.7h0M662.4 139.1h0M500.6 868.6h0M200.2 548.1h0M386.2 807.8h0M671.0 234.5h0M960.3 684.2h0M763.2 196.1h0M726.2 211.2h0M172.3 522.8h0M529.6 474.7h0M382.9 397.8h0M680.0 117.2h0M754.7 212.3h0M937.9 734.8h0M541.3 472.8h0M446.8 568.7h0M324.4 771.8h0M459.3 852.5h0M677.7 425.5h0M730.2 213.3h0M672.0 159.3h0M920.4 759.0h0M1035.2 734.6h0M325.1 779.8h0M445.7 522.3h0M896.9 369.6h0M701.4 152.8h0M350.6 772.3h0M445.6 526.5h0M781.7 227.6h0M488.9 560.3h0M506.6 403.0h0M611.4 683.2h0M456.7 553.0h0M766.3 204.5h0M730.3 168.4h0M245.6 537.0h0M503.2 515.9h0M552.7 236.2h0M621.6 663.9h0M744.3 243.2h0M339.0 803.2h0M409.2 400.6h0M313.9 829.8h0M350.2 850.1h0M603.2 673.5h0M481.9 594.4h0M909.6 745.1h0M550.3 232.3h0M829.6 217.3h0M432.2 583.7h0M432.7 828.0h0M923.4 778.8h0M324.6 734.7h0M918.8 370.6h0M641.9 669.6h0M376.2 817.2h0M487.3 575.6h0M709.4 139.8h0M332.3 829.9h0M911.8 588.1h0M697.5 176.3h0M424.1 428.0h0M450.0 557.7h0M610.0 455.1h0M210.7 529.6h0M679.3 253.1h0M496.3 446.3h0M374.3 756.1h0M482.1 869.3h0M637.7 243.2h0M476.9 516.9h0M909.6 697.2h0M541.9 255.4h0M510.5 457.2h0M318.1 750.4h0M574.2 223.3h0M724.8 148.8h0M776.4 256.4h0M713.3 123.3h0M489.9 345.7h0M454.0 551.2h0M824.9 289.3h0M900.1 726.2h0M770.1 221.3h0M458.5 598.1h0M624.7 697.0h0M721.2 849.4h0M976.6 731.1h0M695.9 237.6h0M482.8 505.6h0M549.5 776.4h0M440.0 855.6h0M910.2 545.1h0M661.4 459.0h0M968.5 756.1h0M386.1 794.2h0M252.5 530.1h0M206.3 519.1h0M701.4 166.8h0M784.4 309.0h0M454.2 531.7h0M676.0 236.4h0M670.3 712.8h0M1014.0 750.3h0M352.3 784.8h0M401.3 852.8h0M715.6 136.6h0M584.1 465.9h0M710.5 170.9h0M337.4 824.9h0M533.5 997.3h0M710.0 829.1h0M461.4 533.1h0M909.4 707.9h0M982.1 643.8h0M598.0 775.9h0M527.4 524.1h0M995.5 741.2h0M1021.4 716.4h0M397.9 823.1h0M723.1 590.8h0M459.7 588.7h0M694.0 245.0h0M340.1 760.8h0M1043.2 701.7h0M191.9 502.2h0M940.3 782.4h0M1049.1 679.9h0M613.6 673.7h0M488.3 565.8h0M901.2 368.2h0M473.8 588.0h0M694.6 165.0h0M318.1 803.7h0M565.1 220.5h0M479.8 442.1h0M679.7 221.7h0M813.2 296.0h0M347.9 854.5h0M942.4 772.5h0M369.6 734.9h0M946.0 746.9h0M310.9 833.3h0M655.5 979.5h0M1027.1 640.8h0M338.0 792.2h0M728.4 850.8h0M599.9 233.6h0M626.4 695.8h0M441.0 561.9h0M473.0 573.0h0M743.8 545.5h0M1030.3 630.4h0M324.5 808.9h0M473.7 591.0h0M344.4 867.5h0M357.7 755.6h0M382.8 794.4h0M324.5 827.8h0M438.0 589.4h0M392.0 820.8h0M305.2 807.6h0M543.3 233.9h0M996.5 684.1h0M478.1 575.5h0M952.5 730.2h0M416.5 400.3h0M487.0 480.5h0M429.8 841.5h0M389.7 413.1h0M521.5 1002.8h0M944.4 754.4h0M388.0 839.9h0M758.4 232.0h0M378.9 769.2h0M715.4 174.3h0M494.2 541.3h0M512.2 510.8h0M299.5 840.0h0M976.0 754.2h0M177.9 524.3h0M545.2 218.0h0M367.3 731.3h0M622.8 433.1h0M729.6 227.7h0M640.4 418.1h0M379.8 840.0h0M427.1 435.0h0M675.8 246.2h0M508.8 573.2h0M315.6 855.0h0M807.2 228.1h0M630.5 891.0h0M378.2 806.5h0M484.9 873.5h0M446.0 555.5h0M963.3 366.3h0M491.6 871.2h0M173.6 552.2h0M490.0 577.5h0M766.7 280.8h0M473.4 460.4h0M625.3 881.4h0M712.1 143.8h0M186.2 520.2h0M445.9 450.6h0M567.2 772.0h0M476.5 471.1h0M687.1 930.4h0M858.8 367.9h0M740.1 193.2h0M749.4 191.8h0M1057.7 657.0h0M288.7 828.3h0M489.0 443.0h0M388.2 403.9h0M617.0 452.4h0M463.6 591.2h0M361.2 795.5h0M966.6 767.7h0M576.1 770.7h0M336.5 848.7h0M1000.1 660.5h0M409.8 410.1h0M1006.7 702.6h0M1037.6 666.1h0M377.6 745.2h0M416.3 843.2h0M475.0 577.6h0M430.7 568.1h0M635.8 445.3h0M1009.3 718.7h0M675.0 167.8h0M490.1 875.0h0M382.9 777.7h0M443.9 541.3h0M418.9 853.0h0M454.3 851.7h0M548.3 493.1h0M909.7 717.8h0M992.2 705.3h0M417.0 441.1h0M699.5 155.0h0M434.7 530.8h0M380.6 822.1h0M538.9 320.7h0M971.4 666.5h0M420.1 844.1h0M556.2 230.3h0M412.9 416.9h0M497.0 887.8h0M704.1 161.3h0M548.5 449.5h0M560.5 217.5h0M398.9 403.8h0M824.5 294.9h0M615.0 709.2h0M694.5 228.3h0M598.5 651.5h0M600.9 699.6h0M936.7 687.9h0M233.7 531.7h0M616.5 701.1h0M371.7 733.2h0M167.4 566.5h0M754.5 555.2h0M196.0 528.9h0M482.9 496.0h0M770.4 290.4h0M838.3 289.7h0M507.9 506.7h0M938.8 729.1h0M472.0 576.1h0M463.6 514.5h0M501.2 508.6h0M492.6 554.7h0M474.0 594.2h0M470.9 548.1h0M982.4 658.6h0M636.4 415.1h0M912.6 760.8h0M629.0 436.8h0M895.8 704.8h0M420.0 826.1h0M922.7 702.6h0M378.1 856.3h0M645.0 458.6h0M713.4 138.8h0M494.2 872.5h0M562.3 771.4h0M307.6 829.8h0M368.7 778.1h0M478.0 567.6h0M386.4 392.2h0M641.3 666.2h0M400.9 432.9h0M375.8 748.4h0M1001.4 682.7h0M237.0 538.7h0M706.3 160.3h0M205.7 562.1h0M558.6 523.1h0M690.5 164.7h0M447.1 562.9h0M710.0 189.2h0M355.6 790.2h0M478.2 852.4h0M695.7 187.1h0M276.3 530.1h0M1026.6 677.3h0M797.6 260.9h0M219.3 527.0h0M347.4 753.4h0M537.9 468.1h0M724.5 146.3h0M631.7 673.6h0M942.3 738.0h0M338.2 862.4h0M342.0 737.3h0M958.0 688.2h0M495.6 534.9h0M327.3 813.4h0M1007.0 672.3h0M986.5 736.9h0M475.8 537.5h0M726.1 236.4h0M738.3 176.7h0M408.8 392.9h0M778.0 261.6h0M416.8 813.8h0M250.6 543.1h0M409.5 420.8h0M177.7 546.1h0M938.1 710.3h0M939.9 718.4h0M496.5 551.1h0M679.4 465.0h0M1006.1 686.2h0M479.4 463.7h0M945.5 683.1h0M927.7 736.5h0M363.2 726.1h0M422.5 557.8h0M564.7 483.3h0M508.7 556.6h0M724.5 124.4h0M742.9 226.5h0M512.2 550.0h0M469.1 462.1h0M383.9 396.2h0M715.1 942.0h0M925.8 379.0h0M486.3 551.1h0M395.1 412.1h0M593.6 429.3h0M555.1 227.6h0M339.4 814.5h0M360.7 804.7h0M330.1 838.7h0M515.3 534.8h0M442.1 578.6h0M346.9 824.7h0M584.0 449.1h0M375.8 820.7h0M520.4 1009.9h0M825.0 272.8h0M703.0 244.9h0M354.1 760.7h0M205.6 558.2h0M662.9 709.1h0M418.0 834.5h0M303.9 847.0h0M469.6 584.7h0M1044.6 635.1h0M530.1 470.8h0M686.2 181.1h0M538.8 501.2h0M326.7 859.9h0M290.4 818.9h0M154.9 551.3h0M398.9 813.6h0M341.8 752.0h0M704.3 441.0h0M590.7 221.7h0M408.0 389.9h0M669.4 121.9h0M463.1 552.3h0M557.5 498.6h0M987.4 630.0h0M961.8 741.5h0M633.1 676.8h0M308.2 856.6h0M335.5 776.9h0M364.5 859.2h0M306.8 795.3h0M500.8 584.4h0M629.0 424.8h0M671.1 247.5h0M685.4 146.5h0M638.2 681.4h0M979.0 675.2h0M681.0 136.6h0M329.1 759.0h0M676.2 729.0h0M382.5 828.9h0M337.3 750.0h0M427.8 579.4h0M894.8 709.1h0M1012.7 695.8h0M709.7 834.6h0M722.2 209.2h0M1005.6 651.3h0M1053.7 655.3h0M339.0 838.9h0M574.2 243.8h0M191.2 557.0h0M481.6 350.7h0M926.4 769.0h0M393.1 825.0h0M914.8 574.5h0M344.0 759.7h0M557.4 231.9h0M469.4 590.9h0M574.1 536.8h0M800.2 267.6h0M382.9 746.3h0M735.8 155.9h0M217.2 543.9h0M223.7 562.8h0M429.0 539.4h0M428.7 550.4h0M337.8 719.5h0M336.1 812.2h0M552.2 243.3h0M735.1 217.5h0M694.9 470.7h0M700.6 146.1h0M416.9 394.2h0M238.5 546.1h0M480.0 591.0h0M625.8 666.7h0M170.4 535.8h0M996.4 739.6h0M962.5 676.4h0M717.0 129.0h0M965.1 657.1h0M785.4 232.7h0M411.9 429.0h0M416.0 422.9h0M400.3 777.5h0M552.6 516.8h0M340.6 859.2h0M471.3 563.3h0M470.5 580.3h0M595.9 410.8h0M375.5 762.2h0M305.9 856.4h0M318.6 860.0h0M784.9 257.5h0M205.6 572.9h0M612.9 698.6h0M375.8 870.6h0M211.4 542.7h0M341.1 831.9h0M988.7 743.1h0M1012.0 736.2h0M379.9 792.4h0M711.5 196.8h0M593.1 445.8h0M1002.2 627.4h0M757.8 231.4h0M719.0 154.8h0M794.6 273.8h0M619.2 696.0h0M320.9 742.4h0M359.7 819.7h0M337.3 811.2h0M425.9 564.2h0M473.0 533.2h0M471.3 851.3h0M732.0 153.6h0M341.1 821.8h0M571.8 768.2h0M526.2 467.6h0M452.3 856.2h0M471.1 430.2h0M596.0 667.5h0M476.7 510.7h0M397.3 849.6h0M187.6 516.4h0M516.0 569.3h0M420.6 401.9h0M796.5 219.8h0M586.7 457.0h0M1012.6 732.3h0M980.3 628.0h0M602.2 463.8h0M966.2 371.8h0M435.7 581.6h0M727.8 155.0h0M1004.0 733.3h0M324.9 835.3h0M477.0 872.8h0M674.4 126.8h0M456.4 448.6h0M946.4 770.2h0M618.4 456.8h0M484.5 530.1h0M566.5 457.0h0M611.4 670.7h0M729.8 219.6h0M735.1 536.7h0M692.6 120.0h0M566.1 767.6h0M726.1 458.3h0M625.9 454.9h0M209.9 509.0h0M495.5 506.4h0M720.7 182.5h0M676.9 240.5h0M965.3 687.2h0M159.6 563.0h0M159.1 559.5h0M957.9 376.5h0M441.5 570.4h0M333.5 843.3h0M716.8 269.7h0M721.0 223.6h0M570.0 440.5h0M373.8 867.1h0M349.9 847.7h0M671.8 723.1h0M590.1 546.5h0M577.1 533.6h0M641.4 678.4h0M442.6 850.3h0M371.9 806.2h0M959.4 723.5h0M395.5 793.4h0M220.3 516.4h0M335.6 831.2h0M716.5 147.4h0M361.0 718.5h0M361.4 744.8h0M265.0 536.5h0M728.0 169.9h0M463.7 462.3h0M239.9 553.0h0M386.5 411.5h0M684.6 157.4h0M758.4 567.4h0M1054.4 706.4h0M378.6 740.8h0M540.7 503.4h0M526.4 237.3h0M332.2 784.5h0M693.8 463.7h0M739.2 190.4h0M594.8 230.4h0M664.6 439.0h0M493.3 582.7h0M369.6 852.9h0M724.6 151.5h0M555.1 773.9h0M778.4 283.9h0M429.7 572.9h0M345.2 724.2h0M514.5 452.1h0M822.7 312.0h0M341.3 718.8h0M384.2 821.7h0M628.7 686.3h0M639.8 706.4h0M733.7 138.6h0M170.3 532.1h0M375.1 753.2h0M526.5 431.7h0M980.5 653.4h0M786.2 293.8h0M396.1 826.2h0M702.1 440.4h0M550.5 483.5h0M715.5 185.7h0M533.2 498.8h0M895.3 568.6h0M418.5 410.7h0M328.2 788.6h0M464.2 849.3h0M576.1 774.3h0M557.2 483.3h0M614.9 443.9h0M1001.7 764.4h0M397.1 403.0h0M156.1 524.4h0M665.4 244.7h0M1041.7 688.9h0M569.9 768.8h0M362.6 865.9h0M531.2 518.1h0M341.8 819.9h0M917.3 753.1h0M289.8 823.5h0M739.1 534.5h0M447.1 849.2h0M687.6 247.1h0M343.8 790.6h0M331.9 779.3h0M674.4 155.7h0M1009.8 761.4h0M440.0 529.8h0M466.3 859.7h0M314.4 815.3h0M674.9 461.9h0M910.1 700.6h0M651.9 244.5h0M500.0 510.4h0M701.5 149.1h0M338.9 799.3h0M415.4 395.4h0M609.3 406.2h0M714.2 154.9h0M315.4 814.5h0M304.7 790.6h0M587.5 441.4h0M405.8 429.9h0M237.0 521.5h0M741.6 550.0h0M379.9 846.7h0M962.0 709.7h0M794.2 308.9h0M794.2 246.6h0M428.9 584.3h0M378.0 757.4h0M702.0 176.9h0M357.2 832.0h0M936.4 367.9h0M510.7 576.0h0M449.2 452.3h0M501.8 510.1h0M913.9 539.0h0M372.6 847.7h0M336.9 784.3h0M454.7 541.8h0M362.6 730.3h0M356.5 862.9h0M763.7 249.6h0M734.8 224.0h0M954.8 657.6h0M700.5 855.0h0M802.4 301.1h0M952.4 653.2h0M493.7 494.2h0M520.2 978.1h0M310.5 840.6h0M560.0 497.6h0M422.9 846.6h0M355.6 800.6h0M198.4 539.5h0M337.2 728.6h0M413.1 411.9h0M449.4 524.1h0M483.0 558.0h0M383.7 859.2h0M696.1 854.7h0M726.9 188.4h0M389.4 423.1h0M488.2 542.3h0M224.0 579.6h0M992.3 622.4h0M475.8 868.4h0M362.9 841.1h0M627.8 655.0h0M191.2 531.7h0M251.5 521.0h0M523.9 485.2h0M616.9 236.5h0M802.3 288.8h0M740.8 846.8h0M596.4 243.5h0M715.4 951.2h0M717.5 209.1h0M433.2 589.6h0M411.6 407.7h0M1007.5 659.5h0M374.2 864.0h0M374.9 859.2h0M307.5 804.8h0M430.9 823.5h0M330.0 731.0h0M1014.3 715.1h0M490.9 562.0h0M679.5 237.0h0M797.3 237.1h0M332.3 820.7h0M791.1 231.9h0M312.6 770.8h0M351.5 835.5h0M943.8 372.9h0M166.5 528.2h0M1046.2 677.2h0M497.9 885.1h0M625.9 678.6h0M366.9 861.6h0M775.5 237.0h0M378.4 820.2h0M718.0 441.4h0M228.4 537.1h0M693.8 161.0h0M618.1 435.9h0M572.2 763.8h0M472.1 864.8h0M490.6 572.5h0M417.1 413.8h0M611.4 662.6h0M924.3 732.5h0M564.4 242.2h0M325.3 769.4h0M353.2 824.9h0M158.8 531.6h0M943.5 756.4h0M899.0 694.3h0M501.7 449.3h0M380.6 860.4h0M724.7 143.7h0M649.0 670.5h0M995.5 696.6h0M440.2 397.4h0M571.6 442.9h0M518.8 541.5h0M1019.0 737.7h0M629.7 676.9h0M309.7 845.2h0M438.7 593.8h0M792.7 283.2h0M832.4 286.7h0M626.7 700.3h0M174.8 524.5h0M580.9 771.6h0M324.8 852.4h0M983.6 772.6h0M345.0 779.8h0M362.0 749.0h0M943.6 713.7h0M962.3 763.4h0M443.9 548.9h0M400.1 399.1h0M351.7 797.9h0M487.7 586.1h0M742.0 274.1h0M453.9 837.7h0M726.3 463.6h0M542.9 772.8h0M338.9 852.6h0M383.9 413.0h0M716.0 937.9h0M191.7 516.6h0M351.7 809.2h0M525.6 525.0h0M511.8 399.6h0M954.5 757.6h0M927.9 745.7h0M761.7 206.3h0M702.6 578.4h0M467.9 545.1h0M397.9 796.8h0M344.4 844.1h0M415.2 399.9h0M390.7 815.4h0M690.0 435.9h0M595.7 777.8h0M829.5 280.6h0M423.8 819.6h0M407.1 438.6h0M722.6 943.1h0M794.9 287.0h0M447.5 579.0h0M401.2 391.8h0M489.9 477.5h0M369.8 811.0h0M988.8 732.4h0M980.1 650.4h0M997.1 651.1h0M974.9 644.4h0M236.8 536.8h0M393.8 394.6h0M481.0 563.2h0M516.2 461.3h0"/><path stroke="#aa89e7" d="M945.4 690.2h0M591.7 445.3h0M344.3 753.6h0M755.3 572.1h0M458.6 529.1h0M436.6 551.9h0M687.2 255.6h0M349.4 782.8h0M202.3 510.4h0M476.6 550.4h0M464.7 594.1h0M514.2 459.5h0M796.4 230.0h0M1055.1 662.6h0M750.0 568.8h0M531.1 1010.7h0M254.4 533.6h0M953.3 720.7h0M653.8 247.9h0M519.4 523.6h0M969.2 692.2h0M1056.3 666.5h0M510.5 564.6h0M236.2 569.7h0M658.6 452.9h0M992.6 696.8h0M620.6 662.5h0M524.7 443.5h0M789.6 227.4h0M942.5 679.4h0M648.5 449.8h0M627.9 885.2h0M446.9 832.2h0M363.8 813.6h0M678.9 135.7h0M1040.2 733.1h0M740.2 156.7h0M1043.3 638.0h0M323.7 839.2h0M319.4 820.2h0M995.5 641.1h0M422.6 827.8h0M785.8 567.2h0M979.0 645.4h0M932.2 689.4h0M534.7 455.2h0M422.0 407.3h0M416.1 418.5h0M673.7 135.3h0M508.5 915.1h0M1001.3 707.2h0M624.9 654.6h0M744.1 159.3h0M982.3 757.7h0M1015.9 746.4h0M519.1 443.5h0M336.2 750.2h0M945.7 709.8h0M734.1 183.3h0M718.5 273.9h0M549.2 248.5h0M922.9 707.3h0M432.2 552.7h0M718.8 190.0h0M594.6 225.0h0M1014.2 728.0h0M208.2 513.1h0M226.2 540.7h0M733.8 519.8h0M1045.4 687.1h0M782.4 293.5h0M819.6 290.1h0M528.5 442.3h0M743.6 218.4h0M654.2 449.8h0M486.9 531.6h0M983.8 664.3h0M491.2 461.2h0M459.5 592.6h0M924.1 712.6h0M587.7 429.0h0M471.8 462.7h0M722.6 457.2h0M674.1 143.9h0M669.2 165.7h0M190.0 506.8h0M623.7 457.7h0M551.7 247.8h0M391.3 387.3h0M925.9 776.7h0M197.5 560.0h0M487.6 522.5h0M476.6 522.5h0M430.8 409.6h0M464.4 861.6h0M990.8 652.8h0M562.4 225.3h0M971.2 670.4h0M389.1 402.1h0M688.2 456.9h0M535.8 464.3h0M743.8 554.6h0M504.7 464.7h0M429.3 434.1h0M824.0 222.1h0M933.1 709.4h0M646.9 678.2h0M677.6 145.9h0M507.6 462.8h0M989.4 679.3h0M951.2 781.3h0M519.2 519.6h0M527.1 1002.8h0M165.4 550.7h0M712.2 847.9h0M985.5 762.4h0M854.7 360.0h0M550.3 472.4h0M447.2 867.0h0M992.0 734.5h0M680.8 198.8h0M793.5 228.8h0M661.5 915.0h0M712.9 945.1h0M482.9 448.7h0M1001.6 622.6h0M1026.6 706.6h0M563.3 467.7h0M727.3 207.1h0M514.1 436.8h0M500.9 533.8h0M999.9 624.2h0M908.1 748.5h0M976.7 667.5h0M595.5 684.0h0M627.8 652.4h0M1003.1 739.2h0M516.7 540.7h0M593.0 227.8h0M720.8 455.2h0M697.6 848.5h0M772.5 218.3h0M398.8 387.0h0M961.3 656.5h0M207.9 535.9h0M679.8 156.0h0M187.8 532.7h0M1034.0 665.6h0M465.1 867.2h0M899.3 701.2h0M577.0 534.3h0M470.9 589.2h0M773.3 229.2h0M564.6 454.8h0M545.4 772.9h0M871.6 367.9h0M497.9 493.1h0M994.4 649.2h0M702.7 182.5h0M663.5 159.6h0M914.1 583.4h0M549.9 217.8h0M174.8 559.5h0M939.1 770.7h0M540.2 456.2h0M659.4 146.1h0M252.1 534.0h0M702.8 159.4h0M715.2 204.3h0M192.0 568.9h0M949.3 716.9h0M990.2 658.1h0M473.1 517.0h0M918.0 775.9h0M681.5 124.3h0M448.6 444.5h0M219.9 577.5h0M778.6 305.0h0M1025.0 625.2h0M451.2 459.0h0M945.7 679.9h0M183.5 551.2h0M495.6 474.7h0M509.0 404.3h0M702.8 850.0h0M224.7 560.2h0M498.6 497.8h0M959.0 664.7h0M431.6 522.9h0M724.1 214.3h0M575.2 772.1h0M230.0 549.4h0M969.2 369.4h0M545.1 253.9h0M559.4 243.1h0M895.4 708.6h0M215.1 518.1h0M705.4 476.5h0M635.9 921.8h0M690.5 445.1h0M961.6 716.7h0M259.9 487.9h0M750.1 562.5h0M558.5 504.0h0M701.7 445.5h0M694.2 931.7h0M812.9 297.6h0M508.6 529.9h0M931.1 717.1h0M460.3 460.8h0M637.8 702.9h0M799.9 238.9h0M813.2 284.6h0M512.1 525.5h0M774.6 218.3h0M458.0 456.9h0M953.6 722.4h0M1022.4 683.5h0M513.7 484.0h0M513.0 503.3h0M1025.6 745.5h0M705.6 188.5h0M929.1 719.6h0M307.2 835.8h0M432.4 399.6h0M650.4 450.2h0M751.8 236.7h0M418.7 404.3h0M788.5 265.1h0M646.5 455.1h0M726.1 217.4h0M936.0 774.5h0M467.3 455.6h0M913.5 572.5h0M555.4 215.8h0M546.0 764.7h0M597.9 445.3h0M459.6 868.8h0M976.5 713.3h0M169.2 539.0h0M715.5 943.1h0M545.1 474.3h0M626.9 245.1h0M702.4 118.8h0M784.5 283.8h0M517.2 458.5h0M972.0 763.9h0M359.0 826.7h0M432.6 410.6h0M782.3 256.5h0M555.5 485.1h0M622.1 711.5h0M600.8 428.9h0M1019.4 670.2h0M581.4 467.3h0M595.1 415.2h0M703.4 126.8h0M627.0 920.4h0M660.5 249.4h0M912.1 568.6h0M963.7 721.8h0M915.1 366.0h0M781.8 586.2h0M1024.0 734.1h0M962.8 686.0h0M982.3 647.8h0M599.8 694.5h0M727.1 147.1h0M699.1 124.4h0M540.7 481.7h0M541.1 217.0h0M715.4 202.5h0M990.1 674.9h0M1051.0 657.3h0M463.8 580.0h0M448.4 529.0h0M689.0 243.7h0M506.4 510.1h0M620.1 241.7h0M712.6 446.0h0M1051.3 675.4h0M562.6 230.3h0M913.2 732.1h0M803.7 293.8h0M794.9 222.9h0M679.6 149.7h0M459.3 515.8h0M490.9 562.4h0M543.3 476.6h0M596.9 399.0h0M1019.8 754.6h0M487.4 460.7h0M642.3 702.7h0M489.2 558.6h0M493.9 510.3h0M697.1 132.4h0M1050.7 725.4h0M1063.9 684.4h0M212.9 552.4h0M701.7 226.2h0M495.9 874.3h0M719.3 476.2h0M1005.2 697.9h0M600.3 444.4h0M458.8 572.8h0M917.2 702.0h0M638.4 448.9h0M1043.4 657.1h0M737.0 212.6h0M786.9 247.5h0M725.0 535.8h0M535.4 496.2h0M938.6 732.4h0M206.7 510.1h0M519.7 447.1h0M972.2 751.6h0M1007.5 680.1h0M1034.9 679.8h0M938.6 702.7h0M519.5 435.2h0M467.4 522.3h0M553.8 498.8h0M521.7 519.5h0M935.6 698.0h0M390.5 409.6h0M687.2 448.4h0M532.4 471.5h0M723.8 569.4h0M475.9 857.0h0M354.9 828.4h0M980.0 633.3h0M778.5 207.2h0M1027.4 631.1h0M669.6 151.9h0M648.9 436.1h0M315.8 781.7h0M1031.0 684.7h0M729.7 571.2h0M318.6 827.7h0M744.6 173.8h0M915.8 782.7h0M969.6 745.7h0M943.6 783.1h0M220.3 572.9h0M211.3 522.5h0M577.3 466.7h0M779.1 592.4h0M809.2 265.4h0M789.4 212.2h0M552.9 771.7h0M453.3 595.5h0M908.2 733.8h0M961.1 376.9h0M200.9 526.8h0M918.4 747.6h0M475.8 438.3h0M513.5 548.4h0M620.0 402.5h0M397.3 806.8h0M1011.9 738.5h0M437.4 555.3h0M458.9 567.5h0M1005.9 752.6h0M179.4 527.5h0M652.2 461.7h0M729.4 843.1h0M723.8 134.9h0M809.8 302.4h0M961.7 688.8h0M928.9 701.0h0M917.5 730.1h0M1050.2 718.9h0M536.0 468.5h0M738.2 544.4h0M233.3 555.5h0M628.0 917.2h0M665.4 691.5h0M214.8 514.6h0M464.5 458.0h0M224.4 548.7h0M1013.0 697.0h0M1002.0 629.5h0M420.8 396.2h0M591.9 416.8h0M726.1 201.9h0M671.1 241.3h0M559.0 459.1h0M629.0 700.4h0M596.4 423.0h0M571.4 226.3h0M683.4 170.9h0M1001.4 695.5h0M534.1 234.3h0M749.9 190.7h0M936.2 714.8h0M493.4 512.6h0M630.2 893.3h0M469.2 558.5h0M895.5 574.2h0M938.0 692.2h0M809.4 281.9h0M421.8 442.6h0M472.0 861.3h0M798.3 309.4h0M970.7 742.8h0M628.9 696.0h0M484.6 580.4h0M943.6 701.5h0M160.3 553.7h0M277.1 532.5h0M544.0 490.7h0M998.2 634.7h0M626.5 670.7h0M950.2 656.2h0M675.0 192.7h0M197.1 551.4h0M205.6 539.7h0M500.2 514.5h0M726.3 160.8h0M699.2 468.1h0M973.2 645.0h0M517.0 493.8h0M494.6 518.0h0M509.9 568.9h0M637.6 675.2h0M485.4 569.3h0M543.1 244.6h0M972.8 753.1h0M1063.6 665.4h0M504.5 522.0h0M478.3 595.0h0M587.6 473.6h0M750.4 225.3h0M1036.4 716.8h0M369.7 838.1h0M204.5 512.6h0M227.2 526.2h0M1056.4 691.7h0M718.2 143.4h0M534.1 223.5h0M229.5 557.4h0M350.0 726.8h0M916.4 749.0h0M471.6 545.4h0M605.9 669.1h0M470.5 574.5h0M672.4 175.1h0M941.7 705.3h0M560.4 461.2h0M941.1 722.4h0M720.7 172.3h0M496.3 465.0h0M896.9 561.6h0M397.3 394.6h0M1015.6 742.1h0M984.1 728.0h0M669.8 172.0h0M795.3 226.3h0M737.7 146.2h0M989.1 740.8h0M750.0 548.8h0M342.9 857.1h0M902.2 732.4h0M599.0 551.8h0M573.3 235.6h0M586.8 244.6h0M234.5 520.2h0M529.3 1007.8h0M406.3 421.6h0M717.9 186.1h0M1041.7 645.1h0M987.5 724.0h0M997.0 727.0h0M932.8 680.1h0M763.0 245.2h0M672.9 220.3h0M478.6 589.6h0M687.8 146.3h0M318.4 747.1h0M673.9 187.3h0M1021.2 628.5h0M618.0 700.6h0M682.0 155.4h0M592.7 675.9h0M479.5 525.1h0M929.8 723.1h0M661.4 427.3h0M758.9 214.7h0M991.6 754.6h0M1054.6 695.9h0M807.3 213.8h0M517.9 419.6h0M701.2 933.5h0M210.0 501.7h0M542.2 212.4h0M246.1 524.5h0M1000.4 758.2h0M1011.6 705.9h0M327.7 749.7h0M544.9 500.1h0M985.2 765.3h0M731.9 835.4h0M945.3 741.1h0M729.0 242.4h0M184.0 549.0h0M596.4 238.7h0M1065.2 657.9h0M666.6 150.2h0M517.2 451.0h0M214.8 526.5h0M715.6 193.8h0M454.5 583.2h0M773.5 579.0h0M1015.7 686.4h0M527.0 510.2h0M1033.5 652.2h0M527.4 454.0h0M991.4 746.4h0M211.2 560.7h0M476.6 519.5h0M958.4 695.0h0M933.7 779.6h0M720.7 460.5h0M935.4 749.0h0M437.7 560.3h0M978.2 747.6h0M977.9 737.4h0M996.3 655.0h0M991.1 767.6h0M526.8 469.3h0M716.3 183.7h0M500.7 458.7h0M692.3 254.6h0M746.5 188.9h0M706.1 165.9h0M489.2 453.2h0M911.6 722.0h0M566.8 231.0h0M575.2 448.2h0M1023.1 699.2h0M791.5 255.0h0M971.7 707.4h0M260.5 534.9h0M464.8 467.4h0M906.6 369.7h0M369.9 740.7h0M469.6 447.4h0M709.0 851.8h0M678.1 163.6h0M935.4 693.8h0M598.7 654.3h0M624.7 672.3h0M1028.3 707.3h0M710.0 474.2h0M379.4 809.3h0M994.9 671.8h0M932.0 740.5h0M308.9 780.7h0M663.3 248.9h0M697.3 167.0h0M600.1 671.8h0M499.6 547.8h0M810.9 223.0h0M972.0 639.8h0M512.9 429.7h0M494.0 505.9h0M641.1 675.5h0M746.1 540.2h0M896.3 712.4h0M628.6 704.0h0M692.4 182.9h0M656.6 447.2h0M937.5 667.5h0M502.1 578.4h0M997.9 744.4h0M931.2 713.3h0M926.9 755.3h0M987.3 674.0h0M807.1 269.6h0M499.2 568.1h0M489.5 469.2h0M510.6 415.0h0M1034.3 681.2h0M737.2 276.3h0M380.8 410.7h0M626.5 664.4h0M670.0 126.0h0M339.8 830.5h0M931.7 734.6h0M712.0 157.9h0M912.2 779.1h0M813.2 221.5h0M623.0 238.4h0M915.6 720.6h0M594.3 232.7h0M1005.2 715.4h0M165.1 562.7h0M736.6 170.6h0M974.8 657.5h0M996.4 669.8h0M465.8 543.1h0M1043.2 727.7h0M476.0 559.6h0M248.0 541.8h0M382.5 403.8h0M984.1 712.8h0M480.3 553.9h0M1030.6 755.0h0M234.7 548.3h0M544.1 494.0h0M697.1 145.7h0M584.9 541.4h0M1004.7 761.9h0M791.0 314.6h0M961.6 647.5h0M1035.5 635.8h0M339.8 845.4h0M420.9 832.2h0M429.5 827.8h0M462.4 454.9h0M785.3 263.3h0M737.9 164.6h0M681.6 924.2h0M481.3 444.1h0M678.8 223.0h0M687.6 139.2h0M199.2 521.5h0M791.2 242.3h0M225.0 528.9h0M693.7 187.0h0M157.5 555.1h0M485.6 492.8h0M1010.3 666.2h0M222.2 557.3h0M632.3 914.8h0M735.4 207.3h0M510.0 923.1h0M497.7 502.4h0M710.6 176.8h0M326.9 802.0h0M679.6 182.7h0M692.1 179.2h0M760.7 222.1h0M720.9 940.0h0M722.6 226.1h0M583.9 220.5h0M481.6 470.4h0M991.3 729.2h0M1026.7 697.2h0M326.4 832.3h0M475.9 507.3h0M972.4 767.3h0M1021.5 644.9h0M556.2 474.1h0M321.2 754.1h0M723.1 218.1h0M779.6 254.6h0M547.6 507.0h0M998.2 653.9h0M458.3 584.4h0M585.7 403.8h0M494.3 449.2h0M275.0 532.1h0M561.1 454.5h0M1015.9 635.0h0M494.7 548.3h0M517.5 427.9h0M343.1 848.8h0M720.5 457.8h0M486.0 482.1h0M797.2 299.3h0M704.8 183.0h0M620.4 463.8h0M744.3 199.3h0M803.9 225.9h0M674.4 251.5h0M733.3 152.6h0M1019.2 661.5h0M623.4 422.8h0M498.0 373.7h0M995.6 679.6h0M762.3 597.2h0M429.7 579.7h0M499.2 398.3h0M188.4 569.0h0M1046.8 670.5h0M984.2 716.7h0M152.0 540.9h0M330.8 749.5h0M992.6 687.7h0M1040.8 639.3h0M798.9 282.9h0M997.2 633.7h0M528.2 448.9h0M666.1 233.3h0M1049.2 704.0h0M537.5 480.6h0M569.5 245.3h0M242.6 534.0h0M467.0 445.0h0M723.3 201.8h0M496.9 543.8h0M818.6 288.2h0M507.1 576.9h0M565.8 763.9h0M679.2 218.7h0M726.8 545.5h0M493.8 591.4h0M367.7 788.7h0M473.5 455.4h0M507.0 578.8h0M504.4 443.9h0M713.5 147.1h0M215.0 534.0h0M653.6 686.6h0M382.0 846.7h0M1066.5 676.4h0M1017.4 632.6h0M524.3 524.3h0M388.1 818.5h0M994.2 695.7h0M923.7 728.0h0M195.8 523.8h0M609.8 846.9h0M149.7 549.5h0M740.6 163.7h0M771.0 298.6h0M655.8 439.8h0M745.8 166.1h0M224.9 509.5h0M450.8 521.2h0M706.1 117.8h0M522.2 507.1h0M436.0 589.2h0M553.5 461.7h0M969.0 754.3h0M717.2 476.1h0M776.5 286.8h0M906.1 743.2h0M457.1 583.3h0M443.2 455.1h0M1034.3 672.7h0M627.8 429.4h0M801.5 312.3h0M681.5 253.8h0M756.1 214.9h0M621.3 416.0h0M368.1 724.2h0M487.4 506.7h0M1030.4 649.2h0M995.0 738.0h0M1007.6 651.2h0M955.8 746.5h0M713.6 172.0h0M456.2 565.9h0M643.3 454.3h0M742.3 224.0h0M729.2 200.4h0M222.4 550.9h0M199.7 504.9h0M790.6 302.0h0M967.1 657.6h0M377.4 809.7h0M739.1 551.5h0M630.8 464.7h0M767.1 245.0h0M335.3 745.0h0M669.3 450.3h0M913.1 372.6h0M1017.4 637.3h0M617.5 654.2h0M702.9 936.1h0M1021.2 673.0h0M436.9 535.7h0M984.0 671.1h0M661.3 440.8h0M587.2 452.3h0M723.2 161.8h0M611.6 401.8h0M440.6 534.6h0M942.4 762.3h0M980.3 735.4h0M566.7 237.5h0M744.7 801.2h0M523.2 550.8h0M474.7 524.1h0M929.7 694.5h0M533.5 513.9h0M591.3 402.4h0M781.8 307.9h0M334.1 723.7h0M699.0 120.1h0M636.3 695.9h0M534.1 482.3h0M323.2 746.5h0M443.2 441.5h0M523.3 526.8h0M644.4 427.3h0M520.9 466.4h0M1040.0 702.9h0M242.2 540.0h0M445.8 400.8h0M693.7 145.5h0M773.1 210.8h0M955.8 690.9h0M966.1 368.2h0M376.5 728.3h0M448.2 416.9h0M805.1 276.2h0M784.3 240.4h0M218.9 543.4h0M406.7 820.6h0M776.0 243.1h0M524.8 424.1h0M936.8 364.2h0M927.4 723.4h0M514.3 508.9h0M917.1 733.9h0M177.0 563.0h0M921.9 764.0h0M786.0 213.5h0M701.8 856.4h0M695.7 158.9h0M177.0 515.7h0M727.8 133.9h0M576.9 469.5h0M1040.3 633.3h0M1031.9 728.1h0M1001.9 742.5h0M706.5 187.5h0M187.5 514.0h0M453.4 520.9h0M610.5 704.0h0M1022.4 726.7h0M343.2 854.7h0M522.7 979.4h0M729.1 231.5h0M186.9 506.9h0M450.1 562.7h0M720.1 227.7h0M731.3 192.4h0M404.2 431.8h0M495.6 475.6h0M586.9 462.6h0M773.5 291.1h0M896.9 575.7h0M530.2 507.1h0M447.4 447.2h0M985.7 756.9h0M949.2 766.7h0M1032.4 709.4h0M1012.7 690.2h0M735.4 170.9h0M391.3 835.9h0M457.0 526.3h0M454.4 455.2h0M478.9 457.3h0M983.1 719.7h0M544.9 250.8h0M478.0 534.0h0M659.6 243.5h0M816.6 219.8h0M722.4 528.6h0M676.0 433.9h0M457.8 550.7h0M800.6 245.0h0M150.7 553.7h0M992.4 673.0h0M461.2 574.4h0M509.0 531.4h0M737.6 139.4h0M956.0 761.3h0M471.7 452.9h0M211.4 504.7h0M358.4 815.8h0M319.9 839.8h0M584.4 474.4h0M688.6 449.6h0M946.0 684.4h0M557.5 451.0h0M1023.3 701.3h0M932.8 704.6h0M486.2 562.5h0M732.6 597.6h0M266.0 532.0h0M612.4 858.1h0M1038.3 661.5h0M210.2 526.9h0M810.0 290.1h0M552.4 792.3h0M656.5 701.7h0M679.2 419.9h0M985.8 740.0h0M641.9 431.1h0M725.7 223.5h0M722.3 123.4h0M757.4 254.5h0M1035.4 749.5h0M607.3 243.4h0M922.9 742.2h0M1014.6 770.0h0M789.5 240.2h0M549.7 222.9h0M207.9 520.3h0M400.0 864.0h0M1029.0 720.2h0M611.4 652.1h0M555.6 454.2h0M747.6 205.1h0M983.8 770.2h0M758.6 218.3h0M191.6 562.8h0M696.7 129.1h0M183.4 563.6h0M944.5 371.0h0M834.8 282.9h0M801.1 218.8h0M981.5 667.4h0M631.7 415.9h0M706.8 177.6h0M366.7 720.3h0M371.0 770.5h0M505.8 468.1h0M551.3 311.2h0M771.8 255.6h0M568.0 492.5h0M686.6 183.1h0M740.6 215.1h0M1015.1 719.3h0M418.3 824.6h0M489.7 508.2h0M613.1 428.7h0M538.7 490.0h0M745.5 203.1h0M808.2 218.4h0M671.2 920.9h0M640.6 681.6h0M318.9 854.4h0M675.5 242.1h0M560.6 231.4h0M896.5 365.2h0M499.2 561.3h0M968.0 718.8h0M1059.2 677.1h0M676.4 252.2h0M618.4 423.1h0M592.0 436.0h0M1023.4 727.7h0M973.5 715.4h0M370.7 862.9h0M1018.3 752.2h0M462.1 452.9h0M650.0 462.1h0M486.7 872.4h0M712.2 123.8h0M611.8 420.3h0M504.5 516.5h0M561.8 239.9h0M1004.4 662.7h0M679.2 451.6h0M495.4 524.0h0M516.2 538.1h0M995.9 759.3h0M707.7 933.6h0M994.5 772.7h0M691.7 177.3h0M919.2 729.7h0M994.8 623.2h0M926.5 757.6h0M798.6 311.2h0M495.8 563.4h0M799.0 301.1h0M1024.7 661.3h0M988.2 760.0h0M788.8 288.8h0M614.7 432.3h0M751.5 185.9h0M601.6 427.3h0M618.8 665.4h0M1042.7 692.4h0M468.4 542.0h0M909.5 718.4h0M470.2 538.5h0M217.6 524.6h0M998.2 667.8h0M488.2 483.6h0M712.3 455.9h0M732.9 167.8h0M917.5 741.0h0M807.8 307.2h0M437.8 449.7h0M976.4 737.4h0M905.8 742.3h0M896.9 580.3h0M912.2 755.9h0M614.9 458.2h0M1021.4 762.6h0M247.3 499.7h0M723.0 179.8h0M822.5 223.9h0M217.6 537.0h0M985.6 666.8h0M981.8 742.2h0M497.4 575.0h0M929.9 772.9h0M983.3 736.2h0M519.3 537.1h0M455.5 461.2h0M962.1 698.9h0M629.0 405.0h0M1013.5 742.7h0M312.5 837.5h0M446.5 445.7h0M802.1 293.5h0M961.9 666.6h0M1035.4 688.9h0M238.4 573.6h0M198.7 502.5h0M716.0 197.7h0M351.4 807.2h0M691.9 428.3h0M449.8 863.8h0M920.2 370.8h0M1003.3 750.9h0M548.4 502.5h0M202.8 567.3h0M630.8 897.5h0M1017.9 675.1h0M516.3 568.0h0M955.0 378.1h0M648.6 458.4h0M352.2 815.7h0M787.9 209.4h0M480.8 536.1h0M604.1 228.1h0M950.9 674.7h0M504.5 479.4h0M750.0 249.2h0M732.7 142.0h0M634.1 438.6h0M241.2 544.4h0M585.9 453.7h0M1014.8 757.9h0M376.4 846.1h0M598.6 416.7h0M1034.6 633.4h0M951.4 714.2h0M773.0 235.6h0M426.4 428.5h0M513.9 405.8h0M724.0 447.4h0M1026.3 751.0h0M700.9 187.3h0M224.5 534.3h0M1005.9 771.6h0M678.4 192.5h0M440.3 591.1h0M570.2 483.5h0M537.9 216.5h0M740.3 148.7h0M181.4 517.6h0M720.6 195.4h0M782.1 235.8h0M213.5 532.0h0M554.0 469.4h0M762.7 232.3h0M515.3 531.3h0M507.4 458.1h0M790.7 267.0h0M195.8 520.9h0M316.8 756.8h0M913.9 745.6h0M951.0 749.8h0M750.9 553.4h0M360.2 733.3h0M748.4 201.3h0M824.9 280.2h0M179.1 546.7h0M468.5 528.9h0M673.6 171.9h0M724.6 193.3h0M903.2 370.9h0M470.2 848.4h0M677.4 198.2h0M205.9 555.1h0M925.2 708.3h0M758.5 249.3h0M754.7 253.8h0M433.9 535.6h0M669.0 252.8h0M202.5 507.4h0M746.7 567.3h0M708.5 142.1h0M562.7 765.6h0M581.7 243.6h0M993.0 682.6h0M736.4 137.8h0M1019.2 694.8h0M512.4 533.0h0M954.1 739.3h0M247.4 527.6h0M931.1 374.4h0M1028.9 669.0h0M543.7 226.0h0M662.9 460.2h0M615.1 865.2h0M933.3 760.9h0M497.9 383.6h0M215.7 551.4h0M792.4 288.4h0M637.2 426.5h0M191.6 545.1h0M299.4 819.2h0M467.5 566.4h0M473.9 528.7h0M1006.3 729.3h0M495.8 492.4h0M601.9 432.3h0M1013.8 660.1h0M951.4 362.4h0M1002.3 690.7h0M211.2 500.8h0M322.6 802.0h0M916.9 732.2h0M469.1 566.3h0M364.0 791.8h0M1010.2 679.2h0M662.0 142.4h0M204.1 552.1h0M697.4 226.3h0M798.0 213.3h0M941.7 734.7h0M563.5 778.6h0M716.3 457.5h0M947.5 651.7h0M1036.9 725.8h0M530.8 433.3h0M433.8 442.8h0M727.5 220.5h0M965.0 713.7h0M487.4 592.6h0M692.2 928.7h0M693.8 472.1h0M718.6 174.0h0M807.0 223.0h0M366.9 795.2h0M810.9 228.4h0M999.1 767.7h0M1016.5 760.0h0M235.2 574.3h0M426.4 573.1h0M690.4 438.4h0M634.7 429.9h0M665.2 917.2h0M915.4 717.7h0M508.1 395.1h0M814.0 297.4h0M610.6 412.0h0M494.2 520.2h0M713.6 164.6h0M1041.5 714.8h0M590.8 408.0h0M356.9 850.1h0M349.6 792.2h0M599.3 454.3h0M560.5 469.9h0M398.9 866.9h0M1023.7 639.1h0M485.6 502.4h0M643.6 451.1h0M679.4 449.6h0M621.9 424.2h0M779.0 291.8h0M984.1 671.8h0M536.5 240.4h0M920.9 784.2h0M553.1 455.6h0M809.0 275.7h0M895.8 585.9h0M1022.1 625.2h0M363.4 731.9h0M425.8 841.1h0M1038.2 634.8h0M586.2 430.7h0M789.0 247.9h0M669.1 144.9h0M816.6 235.3h0M783.9 212.3h0M906.8 727.1h0M728.1 152.4h0M362.1 835.9h0M516.0 1011.6h0M823.4 229.7h0M807.4 235.4h0M229.7 529.4h0M982.1 637.2h0M1002.1 640.8h0M184.6 517.7h0M231.4 541.9h0M960.3 672.4h0M952.9 712.4h0M514.5 444.4h0M542.2 241.9h0M534.0 508.1h0M365.8 822.8h0M659.0 983.0h0M947.6 362.4h0M773.6 203.2h0M1021.4 713.4h0M324.6 813.3h0M435.0 444.2h0M1019.4 770.3h0M986.8 698.7h0M834.4 294.4h0M191.3 555.7h0M628.9 665.2h0M467.4 451.1h0M210.5 574.2h0M680.3 176.0h0M672.5 168.2h0M495.9 527.4h0M1007.1 750.7h0M536.9 484.8h0M598.5 227.4h0M307.1 826.4h0M691.8 154.8h0M481.6 451.1h0M589.3 436.8h0M1010.2 751.2h0M787.7 305.1h0M538.0 491.8h0M360.8 774.3h0M1035.7 737.9h0M985.4 679.9h0M490.1 491.9h0M452.4 576.0h0M978.4 658.0h0M202.1 559.5h0M793.7 298.6h0M1028.7 753.9h0M152.4 545.0h0M917.7 783.4h0M595.4 417.8h0M928.4 706.7h0M667.0 146.1h0M734.1 147.2h0M683.5 430.1h0M805.2 268.2h0M1031.0 664.6h0M752.8 193.7h0M616.8 413.3h0M568.3 468.5h0M951.5 697.3h0M1010.6 696.7h0M503.5 480.2h0M698.8 158.2h0M618.0 414.4h0M1015.9 692.4h0M447.3 547.4h0M521.4 458.3h0M485.7 582.2h0M392.0 767.4h0M765.9 586.3h0M956.6 726.6h0M724.1 190.2h0M643.3 916.9h0M348.6 775.7h0M740.6 225.0h0M751.8 208.5h0M1029.2 666.4h0M1026.9 654.0h0M974.6 646.7h0M435.8 544.8h0M1043.6 676.9h0M563.9 776.5h0M928.2 728.7h0M496.0 868.5h0M691.7 247.8h0M682.2 249.9h0M784.1 567.7h0M954.4 705.1h0M356.2 795.5h0M572.6 439.5h0M963.9 675.4h0M729.0 178.9h0M685.1 151.6h0M220.6 540.8h0M752.1 552.2h0M197.0 534.0h0M958.6 676.2h0M726.0 172.9h0M594.8 662.4h0M578.6 458.8h0M485.6 465.2h0M481.9 533.7h0M556.9 489.8h0M445.8 557.1h0M397.1 828.6h0M544.6 230.4h0M484.7 540.9h0M187.7 510.7h0M587.7 231.5h0M562.8 472.1h0M522.9 470.2h0M233.0 523.3h0M819.8 229.1h0M905.5 709.9h0M989.4 661.0h0M1027.0 673.4h0M610.8 242.8h0M764.0 589.4h0M1017.7 625.8h0M553.2 222.7h0M216.8 529.1h0M934.2 773.9h0M795.2 310.7h0M824.8 218.8h0M524.7 984.4h0M457.6 520.7h0M353.8 770.4h0M484.6 539.2h0M708.2 223.2h0M936.2 390.4h0M664.6 136.6h0M567.4 215.0h0M390.1 395.8h0M992.4 641.4h0M784.0 250.1h0M813.9 215.5h0M434.0 543.2h0M824.2 284.6h0M926.6 694.3h0M227.8 567.0h0M902.5 716.5h0M452.9 417.9h0M445.0 576.7h0M506.9 547.2h0M681.4 202.6h0M958.0 708.3h0M985.9 655.0h0M814.4 293.1h0M685.8 168.1h0M605.1 456.7h0M496.3 573.7h0M155.5 531.2h0M1038.1 684.1h0M667.6 449.3h0M713.8 223.5h0M747.7 211.7h0M722.7 567.2h0M1004.7 774.7h0M445.7 447.6h0M531.2 448.7h0M688.8 250.6h0M1038.1 646.0h0M812.8 275.9h0M1001.5 653.6h0M449.6 533.7h0M1052.6 677.9h0M916.6 707.4h0M985.8 704.9h0M446.0 535.3h0M756.6 236.8h0M731.2 205.4h0M635.6 916.1h0M533.2 516.7h0M427.1 536.1h0M927.8 751.8h0M765.9 199.6h0M994.3 743.4h0M976.5 749.8h0M958.5 700.1h0M927.6 726.9h0M713.6 176.7h0M923.5 772.1h0M491.9 563.8h0M944.4 665.6h0M213.0 515.2h0M492.1 526.8h0M969.3 732.2h0M960.9 750.3h0M751.8 210.3h0M929.8 352.7h0M744.3 594.5h0M612.2 713.6h0M619.7 441.2h0M508.5 450.8h0M481.0 357.6h0M599.3 422.5h0M494.1 559.5h0M978.4 627.2h0M657.4 249.0h0M723.0 537.0h0M589.0 464.5h0M465.6 516.6h0M675.4 223.8h0M946.5 676.7h0M468.2 588.6h0M503.9 400.6h0M767.4 218.6h0M682.8 420.4h0M486.5 485.3h0M754.3 242.2h0M391.0 763.1h0M719.5 222.1h0M993.0 769.6h0M1003.6 689.6h0M796.5 288.7h0M408.0 407.0h0M550.9 250.8h0M717.3 172.3h0M951.0 733.8h0M963.4 693.7h0M960.2 642.6h0M608.0 455.2h0M818.0 216.9h0M1008.5 658.7h0M985.8 624.9h0M629.2 410.3h0M436.6 567.0h0M647.8 432.9h0M605.4 412.3h0M663.5 131.2h0M393.1 861.8h0M738.1 537.8h0M446.7 408.7h0M672.3 447.4h0M447.5 536.4h0M515.0 456.5h0M1002.0 715.5h0M211.8 565.5h0M378.8 779.0h0M591.6 391.4h0M551.6 479.6h0M535.0 493.3h0M950.4 663.5h0M1008.8 737.5h0M685.1 121.8h0M188.0 549.0h0M460.2 562.6h0M558.5 463.3h0M689.8 186.8h0M665.2 132.7h0M603.7 404.0h0M994.3 626.6h0M465.2 532.4h0M715.7 845.6h0M991.4 761.4h0M807.6 240.5h0M1017.0 734.0h0M748.8 227.4h0M815.3 217.4h0M565.6 239.0h0M605.0 238.3h0M613.3 660.3h0M671.7 148.4h0M1021.6 761.5h0M674.3 175.0h0M819.3 285.6h0M967.2 716.8h0M817.1 271.0h0M905.9 700.3h0M1020.3 723.1h0M209.9 531.6h0M492.9 490.3h0M917.9 763.8h0M481.6 540.8h0M963.3 766.3h0M1044.8 664.9h0M174.0 558.8h0M553.6 233.2h0M692.5 450.5h0M483.5 561.2h0M1010.2 635.0h0M567.8 486.9h0M346.1 768.2h0M560.6 232.4h0M722.8 159.7h0M469.0 551.4h0M783.2 303.8h0M251.4 492.4h0M672.9 445.3h0M1066.3 681.1h0M186.7 525.7h0M594.4 239.7h0M1048.8 674.0h0M342.7 731.4h0M585.0 460.5h0M803.3 308.7h0M1015.0 675.2h0M739.0 160.3h0M673.8 228.1h0M469.3 427.3h0M808.7 244.6h0M259.8 529.6h0M692.3 245.8h0M593.5 242.8h0M957.6 756.6h0M723.7 239.7h0M706.6 438.9h0M967.7 631.2h0M491.2 366.1h0M965.4 680.0h0M781.3 288.8h0M981.5 738.0h0M738.9 851.4h0M777.9 259.6h0M621.5 696.5h0M460.3 446.1h0M492.0 357.9h0M978.6 740.6h0M991.3 694.0h0M532.3 451.5h0M242.5 568.1h0M777.1 210.7h0M534.2 999.7h0M864.1 370.2h0M782.4 578.9h0M731.1 141.0h0M751.7 250.9h0M677.1 133.4h0M546.5 235.8h0M968.8 630.6h0M965.6 709.6h0M533.2 487.6h0M751.2 588.0h0M961.6 661.8h0M510.3 406.6h0M1014.0 700.0h0M505.4 560.1h0M508.5 560.4h0M514.3 520.0h0M472.1 520.4h0M1056.9 684.4h0M570.0 763.9h0M210.0 518.0h0M688.7 118.2h0M745.1 171.2h0M444.0 519.2h0M346.3 744.5h0M660.2 151.9h0M919.5 710.1h0M917.4 760.8h0M864.3 363.8h0M152.7 555.3h0M633.1 920.9h0M493.9 460.7h0M617.0 865.3h0M1001.9 676.3h0M686.4 452.5h0M634.2 899.6h0M486.2 514.5h0M762.7 585.5h0M636.8 705.2h0M775.1 233.1h0M321.0 761.3h0M957.2 738.8h0M765.8 582.5h0M164.9 535.7h0M610.6 695.0h0M707.5 192.3h0M544.4 778.5h0M771.7 206.6h0M924.4 374.7h0M970.9 732.0h0M356.5 732.2h0M736.5 193.7h0M725.9 593.1h0M457.7 564.0h0M1033.1 639.2h0M658.3 461.3h0M680.1 145.5h0M959.8 703.8h0M335.7 753.2h0M617.9 688.3h0M219.4 515.0h0M231.6 525.5h0M178.2 559.3h0M740.1 217.3h0M912.8 716.2h0M415.4 429.3h0M417.2 437.1h0M342.9 813.0h0M747.9 246.8h0M634.8 412.0h0M376.8 790.0h0M1047.7 657.0h0M960.6 713.5h0M1023.2 730.8h0M768.2 257.2h0M452.7 862.4h0M182.8 509.0h0M1027.1 649.6h0M638.9 423.0h0M497.3 490.4h0M976.7 660.2h0M807.5 777.8h0M193.2 502.0h0M441.1 410.1h0M495.8 862.6h0M265.7 529.1h0M1041.2 646.6h0M1008.9 669.3h0M206.2 531.6h0M1007.8 696.1h0M989.0 765.4h0M994.6 630.6h0M722.5 231.9h0M185.7 511.3h0M493.9 445.4h0M786.3 299.8h0M761.0 570.3h0M1023.2 756.8h0M430.4 534.7h0M965.3 725.3h0M924.2 725.7h0M785.7 245.5h0M798.7 277.0h0M548.3 315.1h0M591.5 453.3h0M649.8 916.4h0M676.0 428.6h0M200.6 529.4h0M227.5 553.8h0M632.3 668.7h0M581.9 463.6h0M828.4 282.0h0M166.2 554.4h0M420.4 437.9h0M964.3 732.2h0M607.3 441.1h0M1045.3 642.0h0M637.3 668.7h0M933.8 762.7h0M364.9 748.9h0M799.9 237.3h0M339.4 847.4h0M639.7 459.5h0M698.1 126.4h0M973.0 724.8h0M584.1 425.9h0M663.9 143.6h0M698.4 475.1h0M507.1 572.7h0M756.2 281.5h0M458.4 589.2h0M973.2 694.9h0M776.9 220.4h0M666.8 455.9h0M1022.9 766.5h0M725.8 274.5h0M394.4 398.5h0M637.8 439.2h0M910.0 368.1h0M1037.0 695.0h0M1004.0 746.8h0M152.4 547.9h0M552.0 240.0h0M674.7 230.7h0M419.7 422.6h0M697.1 137.3h0M553.1 245.4h0M355.2 857.8h0M436.6 412.8h0M426.5 554.4h0M949.0 659.7h0M622.9 882.1h0M715.8 260.8h0M1005.8 636.0h0M602.3 676.3h0M785.6 217.2h0M904.4 702.4h0M841.5 283.8h0M809.0 296.9h0M936.6 676.6h0M465.8 547.0h0M179.3 541.9h0"/><path stroke="#9d77ec" d="M675.9 215.0h0M919.2 770.1h0M200.6 551.2h0M155.3 549.0h0M703.2 123.6h0M1019.6 657.6h0M477.6 585.3h0M905.4 722.8h0M673.0 139.1h0M688.1 151.2h0M580.4 464.8h0M757.9 598.6h0M692.5 146.6h0M539.0 229.4h0M672.6 438.7h0M465.2 520.9h0M699.3 435.8h0M520.9 554.1h0M642.1 449.3h0M808.0 336.7h0M641.4 427.7h0M742.2 186.4h0M707.4 847.4h0M933.0 734.4h0M946.1 659.9h0M967.2 646.9h0M496.6 376.2h0M932.1 739.1h0M728.6 204.6h0M689.8 929.8h0M679.1 115.0h0M754.6 250.7h0M1026.9 689.9h0M787.7 214.3h0M943.1 707.4h0M953.0 661.1h0M560.8 458.4h0M512.4 424.1h0M709.1 145.8h0M688.7 470.1h0M956.4 372.7h0M564.0 444.3h0M554.8 514.6h0M168.2 535.1h0M775.3 239.7h0M713.0 950.0h0M667.0 141.8h0M1023.2 656.7h0M654.7 434.1h0M705.7 120.3h0M1034.1 723.8h0M1055.5 704.5h0M934.8 724.4h0M461.3 443.4h0M220.3 555.1h0M976.0 735.2h0M164.4 553.7h0M377.3 763.0h0M611.3 781.7h0M691.4 433.3h0M923.0 775.1h0M624.5 412.3h0M244.1 548.0h0M704.7 473.0h0M746.9 224.9h0M990.1 707.0h0M778.7 210.1h0M671.6 430.7h0M970.0 655.1h0M1048.5 709.5h0M963.5 760.4h0M942.5 726.2h0M901.1 712.6h0M569.2 471.5h0M947.6 657.3h0M228.1 572.4h0M587.4 239.9h0M172.2 529.4h0M688.3 461.6h0M987.8 772.4h0M623.8 420.8h0M490.9 578.1h0M764.2 218.5h0M470.4 432.8h0M509.3 399.1h0M222.0 522.3h0M996.0 663.8h0M935.4 716.4h0M672.8 443.2h0M995.8 719.5h0M715.8 121.6h0M469.7 560.8h0M1037.4 712.2h0M535.8 241.6h0M816.8 230.6h0M155.8 529.4h0M212.9 525.2h0M664.6 148.2h0M805.2 280.6h0M630.6 239.0h0M998.2 713.0h0M510.4 520.8h0M376.5 828.9h0M564.9 247.1h0M634.3 432.8h0M774.1 265.6h0M1004.2 632.1h0M698.7 190.0h0M217.3 507.0h0M257.2 542.4h0M321.6 730.8h0M1021.2 742.1h0M216.9 576.0h0M910.7 749.9h0M647.6 424.7h0M678.1 139.7h0M955.5 697.2h0M461.4 866.2h0M625.0 434.7h0M542.2 316.9h0M555.1 219.4h0M1026.9 668.8h0M806.4 265.6h0M166.4 525.0h0M747.8 796.7h0M296.8 835.6h0M499.1 453.8h0M971.1 658.7h0M668.6 161.3h0M781.2 220.5h0M690.3 470.5h0M755.6 222.8h0M598.3 225.0h0M733.1 157.1h0M966.2 686.6h0M645.2 444.5h0M618.0 239.4h0M244.9 569.3h0M957.7 761.9h0M941.5 779.4h0M731.9 188.9h0M481.9 439.0h0M527.8 476.1h0M810.0 781.9h0M586.1 397.1h0M567.9 442.1h0M980.6 751.6h0M218.3 511.2h0M253.7 535.7h0M697.0 464.2h0M345.2 859.9h0M674.4 425.7h0M1014.4 744.5h0M620.1 454.3h0M998.8 773.5h0M970.8 662.2h0M621.4 439.8h0M706.4 240.2h0M167.7 515.8h0M593.7 246.3h0M795.8 263.4h0M890.6 375.6h0M180.4 531.9h0M168.5 545.2h0M611.2 382.3h0M703.2 429.7h0M432.5 524.1h0M489.8 513.5h0M767.9 235.4h0M621.7 660.6h0M1011.2 631.9h0M524.3 480.2h0M687.3 126.7h0M195.0 557.8h0M464.7 420.9h0M896.0 373.1h0M478.9 857.7h0M530.3 459.0h0M897.5 703.8h0M486.4 457.1h0M187.4 550.0h0M634.3 689.1h0M230.8 535.9h0M991.5 742.6h0M780.1 579.4h0M485.2 466.5h0M695.4 466.7h0M970.3 636.2h0M976.6 688.3h0M256.3 536.2h0M543.3 238.3h0M674.2 118.8h0M922.2 719.4h0M648.2 462.8h0M443.7 560.9h0M632.6 680.4h0M477.9 438.1h0M949.1 740.8h0M200.8 543.6h0M808.8 241.2h0M690.2 123.3h0M579.1 470.2h0M759.1 592.7h0M748.4 215.6h0M665.5 162.5h0M681.8 466.7h0M630.4 452.9h0M726.5 158.6h0M405.6 807.5h0M988.3 667.2h0M666.1 451.6h0M1039.7 647.1h0M659.4 435.3h0M1028.9 677.2h0M716.8 588.4h0M694.0 251.9h0M689.4 441.7h0M578.4 772.3h0M567.1 473.8h0M800.7 241.6h0M513.6 517.4h0M1019.5 748.8h0M722.4 199.0h0M719.1 848.1h0M610.9 464.0h0M319.2 769.1h0M1052.1 684.6h0M191.7 526.9h0M602.5 399.2h0M358.0 742.0h0M163.0 561.6h0M448.7 551.2h0M933.4 733.4h0M775.3 257.7h0M617.4 449.1h0M939.8 375.4h0M777.1 229.3h0M636.9 919.8h0M753.1 604.9h0M523.2 1013.5h0M1051.8 700.2h0M767.2 598.8h0M1059.0 690.4h0M1004.2 657.6h0M684.4 150.4h0M336.2 769.8h0M763.0 252.9h0M1014.2 705.8h0M498.9 443.0h0M685.6 123.2h0M729.2 175.0h0M160.7 565.5h0M980.7 721.8h0M440.3 521.2h0M717.3 837.8h0M242.0 498.3h0M583.0 234.1h0M783.0 223.4h0M465.5 597.9h0M408.0 836.8h0M628.0 448.4h0M567.4 494.0h0M715.0 445.3h0M954.1 770.2h0M607.8 233.8h0M667.3 433.2h0M820.4 268.4h0M681.2 233.6h0M709.7 442.6h0M214.9 561.9h0M440.1 542.0h0M423.9 429.7h0M978.6 655.3h0M517.2 508.7h0M489.1 492.5h0M614.5 439.2h0M959.0 748.8h0M473.1 853.8h0M963.3 754.8h0M761.0 257.8h0M625.0 451.1h0M799.9 785.0h0M243.7 541.3h0M830.1 287.1h0M744.1 220.2h0M524.8 515.7h0M520.4 509.7h0M816.3 268.2h0M205.8 546.0h0M158.2 527.3h0M776.2 205.4h0M679.6 212.1h0M597.1 441.1h0M1001.2 722.2h0M953.0 716.2h0M1007.2 726.0h0M605.6 435.3h0M592.0 381.0h0M243.5 530.8h0M782.1 252.3h0M573.1 244.5h0M992.9 773.0h0M549.2 440.0h0M731.5 240.2h0M665.6 428.3h0M664.3 243.7h0M616.7 687.2h0M674.3 149.7h0M678.7 429.1h0M965.2 778.9h0M537.3 470.8h0M680.6 227.0h0M1028.6 656.3h0M1052.5 641.8h0M668.3 443.1h0M1055.3 701.7h0M586.0 402.3h0M753.5 227.6h0M806.0 275.2h0M741.7 558.8h0M757.3 558.5h0M942.9 744.6h0M575.6 435.4h0M1062.3 662.6h0M809.5 272.5h0M840.6 280.2h0M465.8 586.2h0M966.7 703.9h0M1016.4 765.9h0M937.4 758.4h0M986.4 663.3h0M1050.0 691.3h0M947.6 670.6h0M964.1 737.8h0M719.0 825.6h0M1044.8 684.4h0M715.6 454.6h0M534.9 324.6h0M441.7 1043.5h0M722.4 450.8h0M1063.0 669.0h0M530.8 484.7h0M588.9 242.6h0M710.5 264.2h0M914.5 739.1h0M955.4 368.6h0M193.3 539.2h0M953.5 671.6h0M726.1 230.3h0M630.1 888.3h0M1059.3 673.6h0M742.4 271.4h0M747.4 269.9h0M777.1 581.1h0M997.5 687.6h0M261.4 526.7h0M413.3 413.7h0M721.1 206.5h0M616.4 417.3h0M721.3 472.7h0M618.4 399.3h0M942.0 692.1h0M698.4 183.5h0M949.0 764.2h0M866.2 369.2h0M541.1 221.9h0M450.7 539.6h0M940.3 698.2h0M818.1 293.0h0M551.8 219.1h0M580.4 454.9h0M999.2 679.1h0M944.0 760.6h0M998.1 764.0h0M220.0 533.0h0M1012.0 654.1h0M648.4 442.6h0M566.4 465.2h0M578.3 235.8h0M1049.4 654.6h0M663.5 165.6h0M675.4 153.0h0M958.5 653.5h0M315.2 798.6h0M398.2 839.2h0M556.4 212.4h0M602.2 461.7h0M596.4 459.5h0M823.1 215.7h0M620.3 668.8h0M249.6 539.5h0M1002.0 660.5h0M454.0 549.0h0M385.9 863.6h0M729.9 147.4h0M439.6 569.4h0M678.1 158.2h0M478.7 452.3h0M784.3 564.0h0M364.1 739.7h0M931.6 356.2h0M696.2 120.3h0M898.9 370.3h0M184.6 570.3h0M241.7 504.0h0M731.8 207.4h0M474.0 581.3h0M565.9 761.4h0M167.0 560.9h0M438.0 558.2h0M963.4 772.5h0M748.3 234.0h0M645.3 245.5h0M213.4 554.1h0M693.6 117.6h0M661.9 452.6h0M577.8 765.9h0M548.3 480.9h0M546.4 226.4h0M989.3 639.0h0M1000.3 672.0h0M540.4 322.6h0M430.4 436.7h0M486.4 509.7h0M339.7 797.9h0M1029.2 700.7h0M212.9 566.8h0M589.0 238.3h0M721.0 129.8h0M252.7 544.3h0M1012.5 658.3h0M236.0 517.5h0M476.6 540.5h0M720.7 143.4h0M797.8 257.9h0M1016.2 661.5h0M490.8 453.8h0M492.7 585.6h0M513.9 466.6h0M1033.1 696.1h0M544.1 775.6h0M238.6 505.2h0M758.4 574.2h0M437.0 1044.9h0M798.0 224.2h0M456.1 415.0h0M667.5 118.4h0M229.9 518.1h0M356.0 867.6h0M723.2 448.8h0M760.8 201.6h0M1036.8 702.1h0M492.6 475.4h0M600.5 410.5h0M742.6 277.1h0M258.4 540.1h0M571.8 450.2h0M408.0 437.3h0M371.4 852.6h0M457.4 539.8h0M622.3 409.8h0M933.2 770.7h0M753.5 215.5h0M534.3 472.0h0M711.8 150.0h0M1010.4 624.0h0M605.5 414.2h0M778.5 296.3h0M696.7 447.6h0M940.6 759.5h0M763.4 209.0h0M967.0 638.4h0M451.0 523.0h0M679.1 457.0h0M315.6 821.1h0M560.9 446.6h0M753.1 199.1h0M777.0 248.0h0M180.1 569.8h0M976.9 777.1h0M700.9 447.6h0M956.8 771.5h0M1041.7 675.9h0M931.4 784.5h0M522.3 444.4h0M758.6 595.6h0M947.2 667.5h0M774.6 297.4h0M1055.1 645.0h0M629.5 459.9h0M999.7 724.5h0M823.1 276.3h0M886.4 377.7h0M1013.2 647.9h0M490.8 551.2h0M718.6 127.6h0M747.8 199.6h0M511.6 541.6h0M917.3 772.0h0M966.5 659.1h0M306.6 789.4h0M673.0 233.7h0M1048.2 715.2h0M985.7 661.4h0M688.6 168.5h0M1010.7 652.0h0M938.4 747.0h0M522.5 438.7h0M812.9 289.0h0M635.9 462.2h0M702.5 831.4h0M691.9 422.2h0M980.1 726.1h0M268.9 530.8h0M1022.9 642.7h0M215.1 571.2h0M702.8 435.5h0M807.5 299.6h0M766.2 221.7h0M947.6 688.4h0M562.5 491.1h0M694.0 433.5h0M680.9 134.0h0M701.6 429.0h0M677.9 124.4h0M684.0 440.2h0M617.8 421.3h0M976.4 722.9h0M410.9 427.2h0M500.9 521.4h0M944.6 771.9h0M331.6 824.8h0M497.6 571.4h0M965.6 682.2h0M538.8 223.1h0M571.3 500.6h0M668.8 226.7h0M745.9 553.8h0M963.5 701.1h0M994.2 676.9h0M1041.9 673.5h0M811.2 232.3h0M197.3 567.8h0M518.2 975.7h0M679.8 426.2h0M632.4 464.6h0M703.3 449.1h0M988.5 746.3h0M215.4 538.0h0M790.5 312.3h0M685.7 116.6h0M1005.7 690.5h0M1012.7 680.4h0M540.2 433.8h0M335.8 822.2h0M1030.3 626.7h0M547.3 469.6h0M734.9 160.6h0M680.8 195.5h0M979.8 760.2h0M994.8 632.6h0M703.0 259.8h0M731.6 172.1h0M816.8 301.8h0M1063.3 681.7h0M545.0 315.6h0M754.9 233.2h0M483.5 590.4h0M729.3 191.3h0M959.4 778.0h0M786.3 231.3h0M625.3 690.6h0M477.5 472.5h0M512.1 417.3h0M987.1 642.4h0M809.2 279.4h0M667.9 459.7h0M645.9 429.7h0M976.6 629.7h0M481.7 588.7h0M564.7 460.9h0M811.5 235.1h0M735.0 177.0h0M609.7 422.8h0M968.3 668.6h0M1005.7 624.4h0M632.4 697.3h0M949.8 758.2h0M711.5 447.3h0M234.5 576.8h0M483.5 507.7h0M1041.4 683.6h0M715.9 189.8h0M633.9 894.0h0M733.7 215.7h0M450.5 579.8h0M919.2 767.8h0M170.9 542.0h0M629.4 432.0h0M695.6 440.5h0M600.6 420.5h0M691.3 457.6h0M674.8 210.2h0M760.3 227.5h0M550.3 227.5h0M823.0 219.0h0M671.5 216.8h0M602.3 244.5h0M613.0 704.4h0M980.6 702.2h0M581.7 430.6h0M607.9 449.2h0M557.8 494.5h0M517.7 527.0h0M1024.7 726.8h0M966.9 729.8h0M965.8 670.9h0M751.7 569.3h0M600.1 385.2h0M248.0 547.2h0M762.1 217.2h0M553.6 476.4h0M999.4 637.4h0M938.0 755.1h0M716.0 210.9h0M713.5 841.4h0M216.8 561.5h0M1011.1 741.5h0M699.8 439.1h0M593.1 458.3h0M944.0 694.6h0M719.2 252.5h0M986.8 730.1h0M493.6 556.7h0M229.4 576.0h0M951.5 688.9h0M362.5 736.2h0M574.9 227.9h0M366.6 853.7h0M1017.1 715.4h0M992.3 774.9h0M663.4 233.6h0M721.0 273.8h0M527.0 502.8h0M1009.6 673.0h0M721.2 172.7h0M505.5 555.1h0M942.2 747.4h0M708.2 440.9h0M721.5 545.5h0M528.8 481.0h0M528.3 516.7h0M674.8 124.7h0M791.3 279.7h0M150.5 541.5h0M369.6 844.6h0M1033.7 754.8h0M971.8 743.2h0M350.2 830.0h0M693.1 129.9h0M583.6 470.8h0M235.9 523.9h0M627.8 243.9h0M1000.2 690.3h0M537.2 456.4h0M694.3 449.8h0M676.1 179.3h0M983.4 753.3h0M1049.8 729.6h0M201.6 540.2h0M979.3 764.0h0M705.9 141.1h0M677.0 462.8h0M557.7 240.6h0M693.4 142.0h0M631.7 422.3h0M946.3 729.4h0M596.2 435.8h0M949.3 367.6h0M597.7 381.8h0M470.4 554.5h0M690.9 464.8h0M686.0 437.0h0M371.8 780.0h0M782.9 298.3h0M985.3 647.9h0M713.3 452.0h0M696.3 162.7h0M879.3 373.8h0M521.2 460.6h0M947.7 733.3h0M459.0 524.5h0M562.2 452.8h0M685.7 429.5h0M524.5 514.1h0M776.5 261.0h0M1010.9 669.6h0M440.5 447.5h0M456.1 847.9h0M202.0 573.1h0M714.5 148.1h0M470.9 513.7h0M615.2 406.1h0M234.1 538.5h0M929.2 640.8h0M987.0 654.8h0M1036.6 682.1h0M898.1 368.3h0M807.7 293.0h0M777.0 225.9h0M935.2 765.1h0M442.1 1040.3h0M684.4 182.7h0M669.3 719.2h0M199.3 517.6h0M552.2 307.6h0M589.3 422.7h0M579.4 475.1h0M518.5 512.8h0M284.5 530.0h0M800.3 272.7h0M724.3 165.2h0M790.1 262.0h0M156.8 559.4h0M628.6 421.6h0M216.7 554.1h0M680.9 447.8h0M1008.0 632.7h0M519.6 438.0h0M990.6 624.7h0M653.4 429.9h0M558.8 777.8h0M491.3 523.7h0M677.1 209.7h0M184.9 561.1h0M984.8 684.5h0M569.2 480.6h0M635.6 667.3h0M570.0 487.8h0M741.0 604.5h0M1031.4 643.0h0M922.2 785.0h0M184.3 521.0h0M968.4 752.0h0M211.9 576.2h0M198.5 524.0h0M153.4 544.2h0M437.2 410.4h0M1003.5 625.7h0M999.9 712.3h0M695.2 258.0h0M579.8 452.6h0M548.5 481.3h0M615.2 861.0h0M168.6 525.9h0M809.6 270.7h0M751.2 592.6h0M1032.7 657.3h0M762.5 243.3h0M727.8 196.2h0M690.0 195.0h0M753.6 234.6h0M554.5 307.5h0M764.1 201.2h0M454.3 578.2h0M1023.1 673.2h0M573.7 482.6h0M514.0 483.2h0M742.6 203.2h0M198.6 509.6h0M639.2 684.3h0M852.7 362.0h0M492.0 448.9h0M706.7 152.7h0M482.3 519.0h0M731.7 589.0h0M461.5 599.1h0M746.8 599.4h0M569.3 236.1h0M771.5 599.4h0M520.7 465.0h0M947.0 757.9h0M526.2 440.3h0M187.6 566.3h0M620.4 868.7h0M961.9 641.6h0M790.5 316.3h0M599.9 438.8h0M674.1 203.9h0M1050.7 694.4h0M201.4 519.1h0M892.2 371.6h0M816.8 226.6h0M545.7 224.0h0M1035.1 649.2h0M382.4 842.0h0M209.7 511.2h0M995.9 733.4h0M699.0 841.0h0M820.1 222.8h0M515.3 557.2h0M690.2 252.0h0M198.6 507.4h0M159.1 538.8h0M951.4 761.4h0M756.2 257.4h0M796.0 284.5h0M1039.9 649.7h0M691.7 220.0h0M906.0 707.0h0M582.3 448.1h0M723.4 532.9h0M198.5 525.2h0M723.8 937.2h0M628.6 660.5h0M875.3 371.7h0M724.3 561.1h0M904.1 693.8h0M1058.7 689.0h0M978.8 694.7h0M678.7 435.9h0M514.6 526.4h0M1055.7 687.9h0M940.5 755.8h0M918.6 720.5h0M606.7 384.9h0M739.2 173.3h0M663.3 441.4h0M1027.1 738.7h0M756.4 209.2h0M238.0 527.5h0M630.8 242.4h0M399.7 413.7h0M783.5 289.5h0M478.6 568.9h0M296.8 841.0h0M714.4 946.4h0M751.8 190.0h0M707.4 156.4h0M761.3 212.2h0M496.5 457.9h0M244.3 534.8h0M622.4 449.3h0M520.6 426.5h0M428.0 575.2h0M789.5 276.0h0M229.3 519.0h0M573.7 466.6h0M623.4 444.2h0M638.2 430.0h0M198.0 513.9h0M242.3 522.4h0M201.2 559.5h0M756.3 244.5h0M603.1 412.3h0M736.1 523.9h0M744.9 214.9h0M325.6 766.9h0M682.6 437.1h0M609.0 652.0h0M578.3 454.0h0M963.0 672.8h0M742.6 196.6h0M395.9 838.9h0M210.2 553.3h0M562.5 482.5h0M439.2 1044.5h0M913.7 695.6h0M718.7 528.3h0M744.6 540.7h0M203.8 525.0h0M896.2 582.2h0M619.1 439.0h0M968.8 673.5h0M602.8 430.0h0M1000.0 769.7h0M736.5 847.5h0M650.4 686.3h0M1021.4 693.4h0M1005.7 683.2h0M581.4 236.0h0M677.4 114.0h0M466.0 559.2h0M981.6 636.1h0M624.4 884.1h0M701.3 137.9h0M859.7 360.6h0M919.2 777.4h0M595.2 392.6h0M494.6 454.9h0M1041.8 711.1h0M971.1 718.9h0M634.3 445.2h0M448.4 591.3h0M596.8 245.6h0M1007.4 768.5h0M751.2 559.6h0M781.1 595.3h0M551.9 456.6h0M766.7 280.7h0M995.6 710.4h0M727.8 135.5h0M696.1 457.6h0M1051.6 705.2h0M686.9 431.5h0M462.6 549.1h0M928.1 778.1h0M717.0 447.6h0M953.1 710.9h0M492.1 589.0h0M200.4 555.6h0M1002.4 735.2h0M517.4 531.6h0M712.8 126.9h0M470.6 843.5h0M248.2 495.4h0M522.4 472.3h0M490.2 590.5h0M997.4 758.2h0M697.3 164.6h0M618.7 433.6h0M308.7 850.1h0M805.7 229.5h0M720.5 164.3h0M587.7 470.1h0M618.3 872.1h0M643.9 662.3h0M219.9 544.8h0M1032.3 667.9h0M743.9 271.1h0M751.7 230.4h0M936.7 720.5h0M596.5 404.2h0M629.9 413.6h0M1035.5 703.9h0M197.4 541.3h0M716.7 464.9h0M559.0 220.7h0M525.8 482.9h0M614.5 706.1h0M660.3 461.4h0M735.6 168.4h0M1014.8 761.0h0M1004.0 699.2h0M557.5 450.6h0M786.1 260.2h0M514.6 408.3h0M442.7 550.8h0M504.2 394.8h0M713.1 471.6h0M958.7 371.1h0M974.5 683.0h0M1047.4 706.4h0M607.7 231.3h0M945.1 717.1h0M676.2 171.0h0M952.5 747.2h0M932.4 693.7h0M229.2 563.3h0M606.5 462.1h0M604.0 702.2h0M699.5 242.2h0M562.0 455.5h0M523.4 462.1h0M492.2 549.0h0M712.3 167.8h0M207.3 522.0h0M769.8 214.1h0M686.8 422.9h0M445.9 596.0h0M598.5 406.9h0M1040.3 708.1h0M557.4 243.3h0M526.5 474.1h0M630.7 425.2h0M776.7 280.1h0M763.7 242.9h0M198.8 571.0h0M930.2 764.2h0M661.8 125.6h0M492.1 517.4h0M962.9 705.2h0M210.1 546.2h0M1061.1 676.4h0M797.2 211.4h0M719.3 940.1h0M935.9 737.3h0M960.7 659.2h0M733.7 155.5h0M533.6 1008.6h0M950.7 744.2h0M946.7 363.3h0M488.5 451.9h0M438.8 531.3h0M922.1 721.7h0M960.8 732.0h0M491.1 465.7h0M585.6 407.8h0M609.5 466.8h0M423.7 408.2h0M974.5 760.2h0M817.8 294.7h0M812.5 271.7h0M571.5 243.9h0M759.1 206.3h0M923.9 401.2h0M682.8 427.9h0M688.6 122.2h0M540.0 433.3h0M784.3 271.0h0M630.1 439.5h0M482.8 462.1h0M600.5 415.3h0M1016.6 721.5h0M622.9 464.4h0M668.3 430.6h0M997.6 694.4h0M930.0 690.6h0M683.5 230.7h0M985.7 719.3h0M603.0 448.4h0M262.2 486.6h0M954.5 700.8h0M1012.3 625.6h0M196.9 548.8h0M689.3 138.0h0M618.4 673.3h0M496.3 528.1h0M895.1 367.9h0M915.2 723.0h0M995.6 659.2h0M1040.1 657.8h0M1003.5 686.2h0M1027.6 630.6h0M1026.5 703.0h0M676.3 458.3h0M473.1 468.4h0M487.9 474.7h0M971.5 688.1h0M767.1 226.2h0M574.7 219.8h0M964.7 755.8h0M863.0 367.0h0M724.8 195.3h0M553.6 472.2h0M1012.8 623.4h0M398.0 411.5h0M578.1 243.2h0M486.5 353.6h0M620.2 703.8h0M241.3 551.9h0M736.0 598.8h0M836.2 279.6h0M762.8 259.7h0M519.5 464.5h0M508.7 462.3h0M715.5 451.1h0M711.7 190.0h0M999.7 662.3h0M610.3 434.6h0M934.9 368.1h0M330.8 745.7h0M798.6 296.8h0M816.3 272.4h0M801.3 304.6h0M186.5 565.1h0M562.2 476.2h0M719.3 936.0h0M960.5 680.4h0M788.7 258.1h0M804.5 237.7h0M958.6 759.2h0M159.9 540.8h0M468.5 577.0h0M656.4 445.3h0M968.0 748.5h0M1005.1 641.1h0M1031.2 660.6h0M610.2 462.1h0M590.4 469.3h0M485.0 859.9h0M636.2 443.3h0M480.4 462.0h0M695.9 933.7h0M443.5 525.1h0M695.7 232.5h0M722.2 229.2h0M650.2 445.6h0M635.9 901.1h0M914.4 756.4h0M1002.6 704.8h0M608.8 685.9h0M611.9 458.0h0M812.7 303.2h0M904.5 373.4h0M695.7 190.9h0M560.4 478.3h0M226.1 518.8h0M980.3 771.2h0M742.1 279.4h0M488.5 358.1h0M939.6 694.2h0M486.8 468.9h0M789.6 283.5h0M681.4 433.2h0M756.7 280.8h0M248.8 536.1h0M820.7 232.5h0M623.8 688.6h0M678.0 451.2h0M805.2 218.9h0M1021.0 636.2h0M442.1 444.7h0M952.8 684.4h0M992.3 701.9h0M735.8 590.5h0M790.1 230.7h0M811.9 218.8h0M803.1 250.6h0M753.7 216.8h0M1005.5 740.1h0M158.2 557.4h0M188.0 544.9h0M593.3 550.5h0M567.7 448.7h0M635.0 451.4h0M714.8 143.0h0M466.3 574.0h0M672.1 201.4h0M590.8 451.9h0M226.3 544.8h0M958.9 715.2h0M248.0 500.7h0M741.6 207.2h0M662.8 120.4h0M382.5 820.6h0M710.6 584.4h0M709.4 446.3h0M974.7 632.4h0M190.4 552.4h0M733.4 232.5h0M169.4 549.9h0M462.6 555.1h0M634.9 436.4h0M560.5 236.6h0M574.2 459.5h0M936.8 768.9h0M773.3 591.3h0M1042.4 685.0h0M990.9 629.8h0M725.9 175.8h0M507.2 874.6h0M856.9 358.1h0M569.9 239.8h0M575.9 457.1h0M748.0 589.5h0M437.0 562.8h0M480.0 511.6h0M596.9 236.6h0M1005.6 639.9h0M519.7 474.3h0M487.4 516.8h0M717.1 160.8h0M670.9 461.5h0M931.7 754.5h0M686.6 444.1h0M946.0 767.2h0M501.0 549.0h0M634.2 696.0h0M988.6 647.0h0M967.1 726.8h0M1039.2 742.6h0M454.8 458.9h0M531.9 498.9h0M207.2 528.1h0M999.8 744.6h0M677.1 122.2h0M1024.4 690.6h0M350.4 768.2h0M183.1 514.9h0M241.7 502.5h0M194.7 512.8h0M794.7 211.2h0M974.7 690.8h0M1035.5 677.2h0M243.6 573.0h0M995.5 729.6h0M926.0 759.6h0M519.8 424.2h0M762.0 582.3h0M751.9 567.6h0M391.6 853.6h0M459.6 519.8h0M696.2 243.4h0M494.9 373.3h0M744.1 208.2h0M226.3 556.1h0M685.8 155.6h0M968.5 645.0h0M698.8 452.2h0M487.3 536.0h0M1049.0 698.3h0M1032.2 662.2h0M153.1 534.3h0M976.2 677.4h0M1035.8 633.1h0M876.5 374.5h0M517.1 517.8h0M709.0 165.2h0M444.5 412.1h0M717.8 439.9h0M1043.8 707.5h0M1011.2 719.1h0M1030.7 733.5h0M973.0 704.2h0M978.0 668.4h0M1030.3 716.7h0M798.4 287.4h0M981.7 730.4h0M976.8 640.5h0M220.3 578.1h0M584.2 457.0h0M821.3 298.2h0M156.2 562.8h0M594.8 463.1h0M557.0 217.1h0M162.8 550.6h0M700.7 475.9h0M213.2 511.3h0M563.5 217.4h0M940.6 730.0h0M978.8 760.6h0M449.7 545.6h0M562.6 503.2h0M510.3 547.1h0M771.1 253.0h0M879.4 376.9h0M927.4 714.3h0M499.9 525.8h0M533.5 229.9h0M704.9 444.7h0M782.0 233.7h0M916.8 746.0h0M738.0 157.2h0M621.7 871.8h0M951.1 768.9h0M692.6 454.0h0M701.1 470.8h0M517.1 433.4h0M691.8 174.0h0M605.4 431.7h0M909.2 692.1h0M584.8 230.8h0M1037.2 691.6h0M196.8 505.2h0M979.0 743.4h0M1060.8 648.9h0M632.3 428.4h0M1025.2 693.8h0M832.2 275.6h0M760.8 587.3h0M600.2 436.9h0M745.8 184.2h0M475.9 464.5h0M582.0 459.6h0M443.5 567.8h0M545.3 479.2h0M724.7 857.8h0M511.9 402.1h0M916.7 726.1h0M437.9 528.8h0M948.2 673.6h0M580.4 434.5h0M611.6 787.3h0M539.1 495.3h0M710.2 439.4h0M714.6 443.5h0M588.6 468.0h0M951.4 683.0h0M770.9 295.2h0M660.1 137.8h0M1033.0 699.5h0M507.6 512.4h0M713.0 119.8h0M188.1 539.6h0M571.7 484.9h0M976.8 700.4h0M586.4 243.2h0M584.3 406.5h0M481.7 456.0h0M700.7 161.8h0M663.5 133.1h0M1043.6 715.9h0M706.4 447.1h0M823.5 226.4h0M1015.4 639.7h0M192.7 542.8h0M537.2 234.3h0M620.5 398.0h0M415.0 433.6h0M938.1 723.3h0M697.3 150.0h0M682.6 440.8h0M578.7 228.4h0M184.1 528.5h0M557.7 227.6h0M742.8 176.4h0M753.6 235.6h0M584.6 226.0h0M163.0 537.9h0M686.4 454.9h0M627.1 444.2h0M539.3 476.1h0M670.0 701.1h0M807.7 788.6h0M700.4 130.8h0M486.8 477.6h0M403.5 402.5h0M610.8 396.6h0M226.1 570.9h0M202.6 516.7h0M456.5 592.2h0M948.9 680.5h0M833.1 292.9h0M667.8 229.6h0M778.8 228.9h0M500.8 567.0h0M718.7 138.6h0M630.4 456.0h0M706.1 461.4h0M487.2 548.4h0M706.3 167.6h0M683.1 452.9h0"/><path stroke="#8e65f0" d="M616.4 421.3h0M981.6 632.4h0M682.6 240.0h0M934.9 731.2h0M750.2 601.5h0M973.5 772.9h0M906.7 733.2h0M596.8 447.6h0M443.3 529.8h0M587.4 448.8h0M558.2 214.3h0M382.2 781.0h0M1057.5 698.8h0M586.0 441.6h0M730.2 176.5h0M479.0 583.6h0M738.9 599.5h0M560.6 775.0h0M1046.6 728.0h0M1006.4 654.5h0M605.5 390.3h0M624.0 428.8h0M904.2 716.7h0M758.6 564.8h0M612.8 427.4h0M733.2 162.6h0M483.4 513.8h0M1053.9 696.4h0M721.1 154.8h0M1055.5 682.5h0M643.3 464.5h0M697.8 454.4h0M974.3 740.3h0M683.2 133.6h0M898.2 710.3h0M674.8 422.5h0M718.8 270.6h0M931.9 703.5h0M609.2 697.8h0M543.1 480.6h0M767.6 587.3h0M986.8 635.9h0M589.2 425.2h0M177.5 514.4h0M776.9 577.3h0M601.9 389.6h0M901.7 690.0h0M743.0 603.7h0M1019.8 731.5h0M1031.6 672.7h0M588.8 398.8h0M774.3 221.2h0M1050.5 660.4h0M226.0 518.0h0M796.2 267.3h0M797.1 318.1h0M958.2 718.5h0M629.5 454.3h0M496.1 484.4h0M679.4 215.2h0M769.7 601.5h0M613.0 435.9h0M664.9 456.6h0M721.4 944.4h0M169.9 564.3h0M460.4 416.5h0M598.0 457.5h0M663.7 154.9h0M913.2 765.5h0M706.1 179.5h0M794.7 253.8h0M509.7 565.5h0M584.6 245.8h0M802.2 221.1h0M546.8 499.0h0M722.3 464.6h0M230.1 544.6h0M733.1 198.1h0M920.4 716.2h0M976.7 668.6h0M156.2 527.4h0M775.7 591.4h0M988.8 650.6h0M758.9 196.3h0M470.4 455.2h0M981.0 711.2h0M548.3 449.2h0M821.6 272.6h0M1046.6 696.5h0M454.1 560.3h0M439.0 526.8h0M488.5 447.2h0M729.5 599.4h0M974.2 725.3h0M166.4 545.7h0M995.2 734.7h0M523.6 511.5h0M1001.3 771.3h0M224.1 566.8h0M570.0 449.6h0M935.4 751.0h0M636.5 908.8h0M592.5 404.8h0M600.0 663.7h0M489.2 466.1h0M695.7 126.3h0M913.6 771.9h0M476.5 553.5h0M688.3 239.3h0M585.4 390.6h0M674.3 162.0h0M610.9 236.1h0M767.5 578.6h0M915.1 762.9h0M685.1 143.6h0M434.0 565.9h0M1055.9 716.7h0M984.0 695.1h0M446.0 551.2h0M935.2 781.7h0M971.1 768.2h0M690.1 467.5h0M764.6 599.4h0M951.7 721.0h0M466.6 448.2h0M756.5 601.4h0M461.8 419.5h0M623.8 651.8h0M261.7 487.5h0M768.9 603.2h0M204.3 528.4h0M522.7 451.0h0M772.2 586.5h0M1055.2 674.2h0M616.7 396.6h0M716.4 196.7h0M540.6 247.1h0M724.9 554.8h0M1004.1 708.4h0M523.0 454.3h0M804.1 232.4h0M584.5 445.8h0M660.2 449.6h0M680.8 173.6h0M955.3 724.9h0M603.2 424.8h0M484.2 511.5h0M722.4 168.8h0M503.5 523.1h0M769.0 586.7h0M803.1 780.7h0M692.9 459.5h0M981.3 690.3h0M1037.3 696.7h0M517.5 455.0h0M771.2 241.7h0M721.0 464.0h0M513.6 464.5h0M912.5 679.2h0M678.4 206.0h0M830.6 283.2h0M728.1 718.9h0M176.0 533.9h0M999.6 641.7h0M764.3 594.1h0M566.4 451.3h0M218.7 556.9h0M485.4 572.3h0M217.1 549.2h0M534.4 487.1h0M708.8 435.5h0M768.1 595.0h0M971.8 756.0h0M731.3 218.0h0M624.0 452.6h0M679.2 422.1h0M562.9 214.2h0M440.4 414.3h0M796.3 275.1h0M683.0 464.0h0M699.5 427.2h0M660.4 237.4h0M982.0 683.9h0M721.3 133.0h0M1029.5 645.3h0M680.8 131.3h0M193.6 544.0h0M698.4 457.6h0M689.9 148.4h0M925.4 699.6h0M483.3 552.4h0M606.6 422.6h0M953.3 754.8h0M725.8 845.5h0M729.1 224.6h0M758.2 576.9h0M665.0 235.3h0M475.5 452.8h0M776.1 291.8h0M899.3 723.8h0M553.3 501.3h0M691.4 188.3h0M659.1 133.2h0M203.2 536.5h0M705.2 450.2h0M160.6 544.8h0M702.4 171.6h0M806.4 234.3h0M674.3 244.9h0M669.9 177.6h0M1038.1 729.9h0M1041.1 634.7h0M733.7 596.2h0M1003.6 669.7h0M698.9 931.9h0M475.8 548.5h0M605.1 377.3h0M220.9 538.9h0M708.0 121.1h0M992.2 714.7h0M958.3 742.4h0M203.7 504.6h0M183.0 523.8h0M1002.0 643.9h0M1015.0 658.2h0M191.9 522.7h0M217.7 572.1h0M456.2 452.7h0M590.8 420.9h0M682.2 242.4h0M1064.5 678.2h0M523.2 433.1h0M615.0 667.4h0M270.3 532.2h0M455.0 523.5h0M618.4 445.9h0M619.9 429.8h0M1037.4 719.2h0M175.6 558.5h0M149.9 539.9h0M805.1 783.4h0M583.9 239.6h0M570.1 228.8h0M597.1 386.3h0M931.8 759.4h0M962.4 748.2h0M1024.6 732.9h0M596.7 429.6h0M231.7 572.8h0M770.4 265.4h0M626.7 408.3h0M781.6 311.8h0M1003.1 644.2h0M988.8 663.1h0M1003.7 636.0h0M1003.2 745.0h0M985.0 691.3h0M998.6 684.0h0M251.9 525.8h0M520.5 455.8h0M953.2 750.3h0M578.6 238.2h0M694.0 850.9h0M491.1 509.6h0M671.4 143.9h0M342.5 744.9h0M207.0 547.5h0M708.7 464.6h0M649.5 454.3h0M990.0 724.6h0M768.6 223.5h0M779.7 224.3h0M592.9 401.6h0M951.1 380.0h0M576.7 449.5h0M611.2 389.3h0M997.8 637.5h0M625.7 682.9h0M703.1 456.4h0M443.5 593.2h0M663.1 433.0h0M592.3 448.6h0M993.7 645.3h0M775.1 294.7h0M648.0 451.0h0M574.9 444.4h0M535.8 245.4h0M545.0 440.0h0M1059.1 655.1h0M716.9 467.2h0M553.6 464.5h0M803.7 787.8h0M229.6 552.0h0M940.1 753.4h0M506.5 519.2h0M602.2 393.6h0M766.2 603.3h0M571.6 497.3h0M656.3 241.4h0M641.5 244.8h0M630.5 442.3h0M616.0 393.7h0M543.7 267.5h0M665.7 121.2h0M1041.3 697.0h0M599.7 399.2h0M608.5 456.7h0M599.9 393.0h0M681.7 157.2h0M729.7 721.6h0M765.2 580.7h0M539.4 253.3h0M1007.1 749.1h0M966.0 751.7h0M809.4 793.7h0M657.6 444.8h0M627.5 433.1h0M610.7 441.2h0M698.3 200.0h0M567.8 456.7h0M591.7 468.1h0M961.7 737.4h0M158.4 552.6h0M162.5 548.4h0M757.7 585.2h0M972.2 738.9h0M689.3 143.9h0M675.4 127.9h0M932.0 709.5h0M1051.7 671.9h0M676.0 438.7h0M493.5 502.2h0M577.8 472.0h0M976.2 638.4h0M992.7 649.0h0M790.6 306.1h0M546.4 317.4h0M564.5 500.5h0M739.3 194.8h0M1040.7 694.4h0M236.6 540.7h0M1033.3 708.4h0M554.0 489.4h0M800.4 313.2h0M696.6 181.2h0M992.8 717.1h0M679.8 131.2h0M587.7 387.1h0M706.1 465.0h0M547.6 465.0h0M919.5 736.2h0M656.7 237.4h0M687.4 421.4h0M707.7 466.9h0M1046.5 648.3h0M1026.5 691.2h0M506.2 570.4h0M1013.2 753.0h0M802.5 270.4h0M175.6 510.7h0M235.2 567.7h0M999.4 710.5h0M758.9 603.1h0M518.1 980.8h0M549.1 311.5h0M182.0 510.8h0M733.9 189.4h0M748.1 595.8h0M944.7 699.2h0M602.9 378.7h0M913.0 725.7h0M671.6 179.5h0M652.2 456.3h0M592.7 235.3h0M957.1 679.0h0M536.8 321.9h0M601.6 383.5h0M947.9 695.5h0M542.4 483.9h0M169.9 568.2h0M1049.9 647.7h0M540.5 248.2h0M694.3 133.3h0M747.9 550.3h0M575.9 439.8h0M677.6 243.1h0M674.2 216.0h0M804.3 784.5h0M838.0 293.3h0M189.0 528.1h0M694.0 427.5h0M922.3 757.6h0M579.3 245.3h0M705.8 205.8h0M535.4 488.5h0M640.0 445.9h0M776.4 587.5h0M1010.3 768.9h0M589.7 395.1h0M1003.1 726.1h0M811.3 292.6h0M902.5 729.9h0M327.0 818.4h0M597.7 233.5h0M733.2 133.1h0M1048.0 651.3h0M1001.8 732.1h0M739.0 600.5h0M615.1 456.0h0M706.4 473.9h0M549.3 459.9h0M636.0 432.4h0M924.3 748.6h0M229.2 513.8h0M604.8 425.8h0M784.3 219.6h0M1040.1 745.7h0M1036.3 664.3h0M924.8 743.6h0M978.4 706.3h0M677.2 228.4h0M636.3 685.5h0M676.5 202.5h0M563.6 486.6h0M905.2 735.0h0M710.4 185.4h0M662.6 246.8h0M522.2 975.5h0M911.9 735.7h0M542.7 492.0h0M683.9 444.4h0M960.9 770.1h0M703.3 132.4h0M706.5 132.7h0M616.6 441.0h0M948.9 705.1h0M1024.9 756.8h0M503.3 520.8h0M960.6 690.4h0M529.7 232.5h0M994.9 650.6h0M561.2 488.6h0M713.7 586.6h0M538.9 323.5h0M982.8 701.1h0M439.2 450.7h0M976.8 745.4h0M947.7 760.3h0M1044.4 632.7h0M749.1 540.1h0M600.7 408.2h0M729.8 163.5h0M764.5 237.3h0M641.9 438.8h0M683.5 423.7h0M825.1 300.2h0M464.0 463.2h0M586.4 420.8h0M250.0 498.5h0M650.4 432.4h0M743.6 156.2h0M727.1 127.7h0M578.2 434.9h0M464.0 538.9h0M163.1 565.0h0M791.0 216.4h0M974.3 695.8h0M925.7 741.0h0M899.6 563.7h0M813.8 240.2h0M951.5 775.9h0M741.2 147.4h0M615.8 407.1h0M672.4 164.7h0M804.5 791.4h0M791.0 287.4h0M1018.3 662.5h0M967.7 673.0h0M527.8 433.1h0M719.8 471.0h0M723.0 221.7h0M787.0 242.8h0M595.3 467.9h0M1039.9 674.1h0M789.8 231.9h0M965.6 631.5h0M1010.8 724.1h0M238.3 549.9h0M686.5 440.0h0M747.4 800.7h0M600.3 689.8h0M497.7 536.7h0M1019.3 697.8h0M677.4 443.4h0M694.5 140.5h0M608.3 401.2h0M227.9 533.9h0M579.0 445.5h0M611.9 445.8h0M686.5 177.5h0M771.5 595.9h0M966.0 722.3h0M640.2 421.7h0M969.9 767.8h0M535.5 480.2h0M730.2 595.8h0M715.5 831.0h0M933.8 682.4h0M816.7 280.9h0M711.4 475.2h0M779.9 207.4h0M623.3 702.8h0M1054.6 720.1h0M959.8 681.9h0M461.8 466.6h0M606.0 451.7h0M744.2 535.2h0M1024.9 713.6h0M792.7 245.0h0M629.2 458.1h0M549.4 313.7h0M585.8 237.8h0M198.7 536.1h0M605.3 236.7h0M1063.4 660.7h0M939.1 701.6h0M471.3 570.9h0M954.9 736.5h0M723.1 127.7h0M907.4 695.2h0M633.3 701.5h0M668.6 129.8h0M232.6 517.1h0M626.0 447.4h0M537.8 472.1h0M660.1 430.6h0M532.1 493.0h0M230.7 533.6h0M616.3 685.6h0M179.3 507.9h0M953.6 671.0h0M190.2 504.0h0M509.7 523.3h0M615.8 400.9h0M629.6 417.1h0M529.8 459.9h0M209.2 539.9h0M766.9 602.5h0M986.9 735.1h0M561.2 224.1h0M775.3 583.3h0M1045.4 716.6h0M817.0 282.0h0M706.1 123.2h0M616.6 411.0h0M682.7 176.4h0M604.4 237.3h0M478.5 514.4h0M562.0 463.1h0M715.9 848.5h0M808.9 240.7h0M337.7 795.0h0M504.8 562.4h0M804.1 298.5h0M220.0 506.4h0M707.1 135.2h0M1030.8 703.4h0M680.4 245.3h0M783.5 217.1h0M951.4 767.1h0M999.2 716.5h0M724.4 722.7h0M211.8 570.5h0M595.0 450.3h0M556.6 503.8h0M444.4 1039.9h0M500.3 389.9h0M510.4 439.1h0M755.2 589.0h0M716.0 176.6h0M762.6 223.1h0M209.9 548.8h0M555.5 456.7h0M611.0 431.1h0M623.4 467.2h0M711.6 151.1h0M762.0 602.0h0M783.6 268.2h0M606.5 417.4h0M596.8 439.0h0M715.4 449.7h0M1012.4 676.2h0M591.8 442.2h0M1018.5 682.9h0M712.9 133.8h0M517.4 1012.5h0M700.3 460.4h0M607.4 444.6h0M510.5 448.0h0M566.4 454.6h0M232.6 551.8h0M423.6 548.9h0M259.7 542.5h0M999.5 728.4h0M769.5 238.9h0M800.6 232.2h0M635.5 454.4h0M506.4 460.0h0M953.9 732.6h0M998.4 656.9h0M1017.0 629.5h0M695.9 184.8h0M626.8 440.1h0M777.1 580.0h0M739.7 543.1h0M191.8 515.2h0M727.0 164.7h0M975.6 650.9h0M570.6 461.0h0M740.8 273.5h0"/><path stroke="#7c51f4" d="M714.0 184.7h0M227.0 514.0h0M641.5 459.8h0M934.6 744.1h0M605.2 381.2h0M709.6 435.8h0M629.3 918.7h0M964.7 774.6h0M1005.7 721.7h0M953.8 681.4h0M771.3 588.7h0M496.2 568.2h0M743.4 191.3h0M912.9 740.5h0M640.3 437.4h0M752.1 239.3h0M972.7 697.8h0M776.8 224.0h0M687.2 468.2h0M613.9 236.1h0M1042.9 644.8h0M784.7 208.7h0M798.1 305.7h0M939.9 669.3h0M977.7 727.6h0M603.7 419.2h0M767.7 254.2h0M171.4 517.2h0M591.0 438.5h0M633.4 456.4h0M594.5 396.5h0M452.9 451.6h0M598.3 467.5h0M1019.3 646.8h0M452.2 456.0h0M567.0 216.4h0M709.9 195.7h0M672.5 458.3h0M699.1 431.5h0M778.3 306.9h0M812.6 267.8h0M704.4 433.2h0M587.2 226.9h0M564.2 449.4h0M780.1 585.4h0M695.5 258.2h0M601.7 661.7h0M1001.8 754.0h0M693.8 435.9h0M773.1 245.3h0M476.1 449.6h0M748.5 197.3h0M778.3 290.3h0M490.6 538.9h0M285.3 391.3h0M690.4 427.8h0M600.7 379.3h0M702.4 173.7h0M547.2 494.5h0M616.2 430.9h0M928.3 756.2h0M576.4 223.4h0M993.7 732.3h0M781.0 296.8h0M1042.6 682.2h0M755.2 593.8h0M492.6 464.6h0M959.4 647.4h0M963.6 729.2h0M619.0 451.7h0M711.4 458.1h0M245.4 528.3h0M591.8 461.3h0M582.4 433.2h0M1057.3 652.9h0M902.6 718.4h0M667.5 137.9h0M944.7 672.9h0M956.9 685.5h0M708.2 477.2h0M626.6 421.3h0M774.7 585.5h0M663.9 454.2h0M963.8 764.3h0M632.7 462.0h0M826.9 220.4h0M491.5 486.2h0M504.5 507.4h0M952.6 764.3h0M981.9 640.9h0M652.7 435.7h0M733.7 181.3h0M626.7 924.6h0M940.1 688.3h0M706.7 470.1h0M562.2 246.7h0M927.0 698.7h0M491.1 478.2h0M753.0 558.7h0M990.4 632.1h0M764.8 229.3h0M663.1 440.0h0M673.9 442.5h0M573.5 459.0h0M1008.6 707.3h0M475.1 457.2h0M758.5 200.2h0M623.6 408.0h0M976.1 686.0h0M646.4 441.1h0M1032.7 675.4h0M683.4 237.1h0M174.0 527.5h0M710.0 451.6h0M726.2 469.7h0M593.7 468.9h0M625.4 443.2h0M760.0 602.5h0M215.1 503.9h0M589.0 233.7h0M1058.0 679.1h0M594.4 380.6h0M906.6 728.6h0M629.7 444.9h0M777.0 593.9h0M541.2 233.2h0M612.1 440.2h0M599.1 404.1h0M678.7 460.7h0M240.4 530.3h0M996.0 634.6h0M548.5 220.9h0M226.9 564.6h0M741.1 152.8h0M999.6 760.3h0M635.9 423.1h0M724.7 469.9h0M700.2 443.1h0M679.3 174.5h0M1003.0 730.3h0M173.3 532.6h0M780.1 564.3h0M609.7 448.0h0M702.7 147.7h0M738.6 215.7h0M903.3 705.9h0M237.5 506.4h0M817.6 277.4h0M570.4 454.6h0M733.6 719.2h0M694.9 450.9h0M859.6 365.3h0M996.5 723.6h0M506.3 916.6h0M172.2 513.2h0M929.5 769.1h0M218.0 516.5h0M516.5 423.2h0M553.8 211.7h0M778.7 568.1h0M577.3 462.1h0M630.4 434.8h0M702.3 164.6h0M513.1 440.8h0M746.4 228.0h0M618.0 395.9h0M793.5 243.6h0M634.5 239.9h0M741.4 602.2h0M604.7 396.6h0M476.6 466.6h0M1005.1 711.4h0M819.4 298.6h0M589.4 390.3h0M594.7 382.7h0M1008.7 637.4h0M989.4 623.5h0M1007.9 625.5h0M804.0 239.3h0M736.4 185.9h0M768.1 212.1h0M511.8 523.9h0M799.2 788.6h0M697.8 232.3h0M799.9 225.9h0M988.2 754.1h0M725.9 450.4h0M674.7 454.6h0M653.8 451.8h0M624.2 414.4h0M606.9 398.3h0M468.9 524.3h0M1023.6 668.3h0M1024.8 722.8h0M604.1 386.6h0M924.6 739.6h0M936.9 680.8h0M470.5 467.3h0M974.4 721.8h0M729.5 721.1h0M813.3 226.6h0M613.9 422.4h0M574.2 474.0h0M762.7 592.4h0M684.5 247.0h0M623.8 706.2h0M603.6 417.6h0M694.9 171.0h0M1046.2 644.1h0M794.5 262.6h0M499.9 466.5h0M963.6 778.4h0M702.4 229.9h0M548.7 228.8h0M1038.0 722.8h0M1014.3 748.4h0M552.0 463.3h0M698.8 151.5h0M604.1 467.6h0M615.0 409.6h0M185.4 536.3h0M609.7 421.0h0M607.2 694.0h0M248.8 547.1h0M808.7 306.1h0M680.2 140.0h0M599.3 459.8h0M960.2 719.1h0M601.2 402.1h0M646.7 425.9h0M655.6 437.0h0M777.1 598.1h0M686.5 161.3h0M788.3 270.9h0M661.0 917.9h0M684.7 174.1h0M606.5 392.1h0M888.1 379.4h0M787.6 266.3h0M558.0 245.3h0M987.2 695.2h0M453.7 525.4h0M980.4 664.3h0M686.7 159.1h0M584.2 451.1h0M1019.2 720.8h0M639.9 440.7h0M702.5 460.6h0M618.0 405.5h0M699.2 141.5h0M1014.1 737.2h0M191.9 539.8h0M787.3 220.3h0M745.8 603.0h0M744.6 601.1h0M971.2 772.2h0M811.5 287.5h0M1053.7 675.5h0M596.5 401.7h0M1023.5 633.4h0M610.9 399.8h0M961.9 372.8h0M637.5 456.4h0M1045.1 660.1h0M985.5 645.2h0M570.1 450.8h0M941.0 370.4h0M786.8 281.1h0M695.9 152.1h0M1027.4 659.6h0M937.0 357.0h0M663.0 251.1h0M592.6 432.4h0M708.6 433.3h0M795.1 270.3h0M913.0 776.3h0M980.6 754.8h0M695.7 155.5h0M658.3 443.4h0M682.7 453.5h0M550.2 244.9h0M736.4 715.2h0M924.5 781.2h0M715.1 473.3h0M748.3 208.3h0M1017.6 689.2h0M934.7 684.5h0M961.2 371.5h0M562.0 495.6h0M730.6 233.5h0M1050.6 671.1h0M494.2 498.7h0M764.9 260.7h0M999.5 735.4h0M742.5 220.2h0M627.0 457.5h0M910.0 712.8h0M176.2 527.5h0M552.6 491.5h0M572.4 445.0h0M952.4 740.8h0M943.1 750.3h0M913.1 699.1h0M621.9 401.4h0M516.0 523.4h0M575.2 244.8h0M1059.9 659.8h0M706.7 144.7h0M526.9 437.2h0M457.4 446.4h0M589.6 433.1h0M575.6 441.7h0M599.0 432.5h0M589.9 455.4h0M211.3 535.4h0M560.6 465.7h0M740.4 589.8h0M574.4 454.5h0M625.9 418.4h0M782.0 591.2h0M966.6 773.5h0M568.9 445.5h0"/><path stroke="#673df8" d="M700.6 474.6h0M669.8 459.0h0M675.1 447.3h0M621.3 435.0h0M609.7 382.7h0M216.6 521.3h0M683.5 228.3h0M796.8 300.6h0M649.0 444.8h0M229.6 539.6h0M566.5 234.0h0M987.7 703.6h0M587.5 404.5h0M781.7 588.1h0M994.9 656.5h0M604.4 383.9h0M958.3 667.7h0M1041.7 704.5h0M600.8 396.3h0M1025.3 678.6h0M766.2 208.6h0M244.1 526.1h0M587.4 220.2h0M161.8 526.2h0M677.4 229.4h0M987.2 744.2h0M598.3 395.5h0M949.0 697.8h0M976.2 762.7h0M809.0 790.6h0M544.4 215.3h0M463.8 450.7h0M594.5 389.6h0M911.6 763.4h0M613.5 398.3h0M967.8 688.4h0M675.2 436.8h0M794.3 251.3h0M565.4 456.7h0M177.3 552.4h0M586.9 396.3h0M593.0 385.7h0M654.0 245.1h0M613.3 391.6h0M704.8 453.9h0M1027.0 729.6h0M764.5 591.3h0M606.6 428.6h0M600.0 449.0h0M486.0 494.6h0M506.6 444.6h0M617.8 425.4h0M672.8 454.4h0M603.5 454.9h0M653.0 455.4h0M683.1 431.7h0M762.4 604.0h0M607.0 439.9h0M565.4 470.8h0M649.7 431.1h0M744.7 598.0h0M1026.4 709.2h0M791.7 257.6h0M788.1 300.8h0M899.2 721.0h0M1015.9 714.2h0M607.8 388.4h0M598.0 389.7h0"/><path stroke="#4926fb" d="M592.1 399.5h0M590.1 383.6h0M611.4 387.0h0"/></g>
<g stroke="#000" stroke-width="2.9" fill="none">
<path d="M95.4 51V1119.5H1118" stroke-linecap="butt"/>
<path d="M142 1119.5v5.2M307.6 1119.5v5.2M473.2 1119.5v5.2M638.8 1119.5v5.2M804.4 1119.5v5.2M970 1119.5v5.2"/>
<path d="M95.4 277.3h-5.2M95.4 571.3h-5.2M95.4 865h-5.2"/>
</g>
<g font-size="30.3" text-anchor="middle">
<text x="142" y="1147.9">-15</text>
<text x="307.6" y="1147.9">-10</text>
<text x="473.2" y="1147.9">-5</text>
<text x="638.8" y="1147.9">0</text>
<text x="804.4" y="1147.9">5</text>
<text x="970" y="1147.9">10</text>
</g>
<g font-size="30.3" text-anchor="end">
<text x="88.5" y="288">10</text>
<text x="88.5" y="581.3">0</text>
<text x="88.5" y="875.7">-10</text>
</g>
<text x="604" y="1180.7" font-size="29.9" text-anchor="middle">umapNC_1</text>
<text transform="translate(34.2 585.4) rotate(-90)" font-size="29.9" text-anchor="middle">umapNC_2</text>
<text x="604.3" y="36.9" font-size="35.4" font-weight="bold" text-anchor="middle" textLength="78.7" lengthAdjust="spacingAndGlyphs">Eno1</text>
<rect x="1130" y="547.5" width="16" height="76.4" fill="url(#lg)"/>
<g stroke="#fff" stroke-width="1">
<path d="M1130 554.3h3.2M1142.8 554.3h3.2M1130 571.7h3.2M1142.8 571.7h3.2M1130 589.1h3.2M1142.8 589.1h3.2M1130 606.5h3.2M1142.8 606.5h3.2"/>
</g>
<g font-size="25.3">
<text x="1152.5" y="564">2.0</text>
<text x="1152.5" y="581.4">1.5</text>
<text x="1152.5" y="598.8">1.0</text>
<text x="1152.5" y="616.2">0.5</text>
<text x="1152.5" y="633.6">0.0</text>
</g>
</svg>
</body></html>
